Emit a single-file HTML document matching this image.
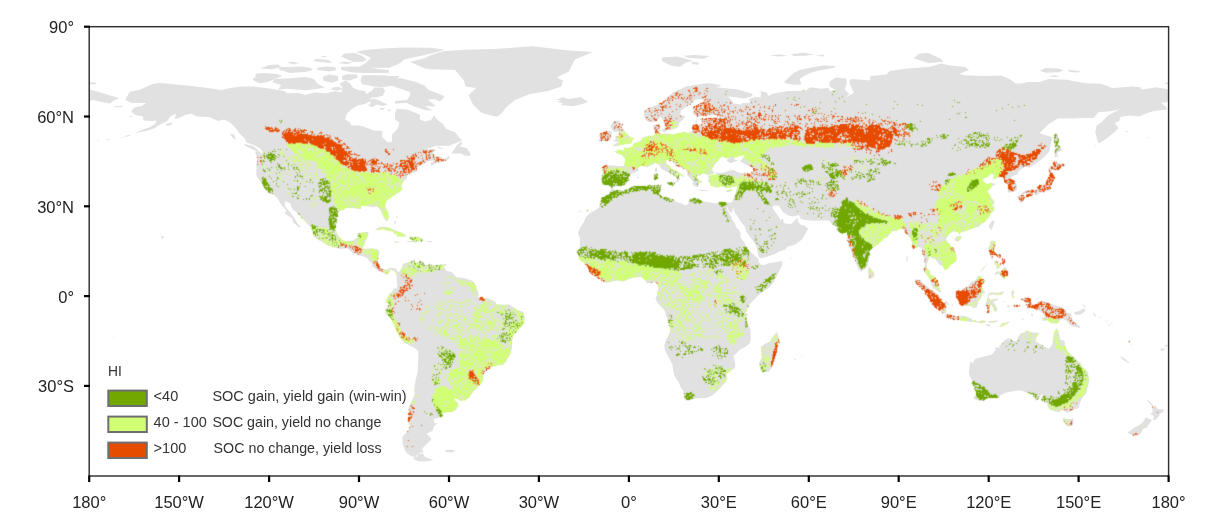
<!DOCTYPE html>
<html><head><meta charset="utf-8"><title>HI map</title>
<style>
html,body{margin:0;padding:0;background:#fff;}
body{width:1214px;height:523px;overflow:hidden;}
svg{display:block;}
text{font-family:"Liberation Sans",sans-serif;fill:#222;}
.lg text{fill:#333;}
.ax text{font-size:16.5px;}
.lg text{font-size:14.5px;}
</style></head><body>
<svg width="1214" height="523" viewBox="0 0 1214 523">
<rect width="1214" height="523" fill="#fff"/>
<defs><filter id="sf" x="0" y="0" width="100%" height="100%" filterUnits="userSpaceOnUse"><feConvolveMatrix order="3" kernelMatrix="0.03 0.11 0.03 0.11 0.44 0.11 0.03 0.11 0.03" divisor="1" edgeMode="none"/></filter><clipPath id="cp"><rect x="89.2" y="26.7" width="1079.4" height="449.3"/></clipPath></defs>
<g clip-path="url(#cp)">
<path fill="#e1e1e1" d="M125.2,99.7 L129.7,91.7 L140.2,89.6 L152.2,84.2 L159.7,82.7 L173.2,84.2 L191.1,86.0 L206.1,87.8 L221.1,89.9 L230.1,88.1 L242.1,86.6 L254.1,86.6 L269.1,88.4 L284.1,91.1 L287.1,93.2 L299.1,92.9 L305.1,94.9 L314.1,92.6 L326.1,93.2 L335.1,91.1 L341.1,92.6 L342.6,88.1 L339.6,83.6 L345.6,80.6 L350.1,83.6 L353.1,88.1 L359.0,90.2 L365.0,91.1 L366.5,94.0 L372.5,90.2 L374.0,87.5 L383.0,87.5 L385.1,91.1 L383.0,95.5 L377.0,97.6 L371.0,97.6 L369.5,101.5 L365.0,103.9 L357.5,105.4 L351.6,109.0 L347.1,113.5 L345.0,119.5 L350.1,122.5 L351.6,125.5 L359.0,125.5 L365.0,127.0 L374.0,130.6 L382.1,130.9 L382.4,137.5 L386.0,140.4 L387.5,142.5 L392.0,141.9 L392.0,134.5 L398.0,128.5 L399.5,122.5 L395.0,119.5 L395.0,114.1 L396.5,109.0 L407.0,109.6 L416.0,112.9 L420.2,115.0 L419.6,119.5 L425.0,121.6 L431.0,120.1 L434.0,115.6 L437.0,119.5 L443.0,124.0 L446.0,129.1 L455.0,132.1 L458.0,136.0 L461.9,140.4 L458.0,142.2 L449.0,145.8 L437.0,145.8 L428.0,148.5 L420.5,153.0 L425.0,150.0 L434.0,148.8 L436.1,150.3 L432.5,153.0 L434.6,155.4 L437.0,158.4 L444.5,159.3 L449.0,156.0 L449.6,158.4 L446.0,160.8 L437.0,162.9 L431.0,165.9 L430.4,162.9 L435.5,159.9 L428.0,161.4 L422.0,164.4 L417.5,167.4 L416.6,170.4 L419.0,171.3 L414.5,172.2 L407.0,174.3 L407.0,177.9 L402.5,182.4 L401.0,185.3 L401.9,189.8 L398.0,192.8 L392.0,196.4 L386.0,200.9 L384.8,204.8 L387.5,212.3 L389.0,216.8 L388.1,220.7 L385.4,220.7 L383.0,215.3 L380.9,210.8 L377.0,206.3 L372.5,207.2 L365.0,205.4 L360.5,205.7 L361.4,209.0 L356.0,208.4 L347.1,207.5 L338.1,212.3 L337.2,218.3 L335.7,227.3 L336.6,233.2 L341.1,239.2 L345.6,241.6 L353.1,240.4 L356.9,237.7 L357.8,233.2 L368.0,231.7 L368.6,234.7 L366.2,239.2 L364.4,243.7 L362.6,248.2 L365.0,248.8 L371.0,248.5 L377.0,249.1 L379.4,251.2 L378.5,257.2 L377.9,263.2 L381.5,268.3 L386.0,269.8 L390.5,267.7 L395.0,268.3 L397.1,270.4 L396.5,273.6 L394.4,271.3 L390.5,269.5 L387.8,274.2 L383.9,273.0 L380.0,271.3 L377.9,270.4 L371.9,266.2 L371.9,263.2 L366.5,257.5 L363.5,256.6 L357.5,254.8 L352.2,252.4 L347.1,247.9 L341.1,249.1 L333.6,247.3 L327.6,245.2 L323.1,242.2 L317.1,239.2 L312.6,235.0 L313.2,231.7 L309.9,226.7 L305.1,221.3 L300.9,216.8 L297.6,212.9 L292.5,209.3 L290.1,203.3 L284.7,200.9 L285.0,206.3 L290.1,212.3 L294.6,218.3 L297.6,223.4 L300.6,226.7 L299.1,227.6 L293.1,222.2 L292.2,218.3 L286.2,214.7 L284.4,212.9 L286.5,210.8 L281.7,205.4 L277.8,198.8 L273.6,194.3 L267.3,192.8 L263.1,185.9 L261.6,183.0 L257.7,177.9 L256.2,175.2 L256.5,167.4 L257.1,158.4 L255.0,151.2 L260.1,151.5 L261.6,154.5 L262.2,150.9 L260.1,148.8 L254.1,144.9 L246.6,142.5 L245.1,138.9 L239.1,133.0 L236.1,128.5 L230.1,122.5 L224.1,119.5 L218.1,121.0 L209.1,117.1 L197.1,116.5 L191.1,113.5 L185.1,115.0 L179.1,118.0 L174.7,118.9 L176.2,113.5 L170.2,116.5 L167.2,121.0 L161.2,124.0 L153.7,128.5 L146.2,130.9 L140.2,132.1 L134.8,132.7 L143.2,129.4 L149.2,127.6 L155.2,124.0 L156.7,120.4 L152.2,121.0 L143.2,120.4 L143.2,116.5 L135.7,115.0 L131.2,111.4 L134.2,107.5 L141.7,106.0 L146.2,103.0 L140.2,103.0 L131.2,103.0ZM397.1,270.4 L398.6,272.2 L402.2,267.7 L402.5,264.4 L404.6,262.9 L410.0,262.0 L414.5,259.0 L415.1,261.7 L413.9,263.8 L419.0,261.7 L419.0,259.6 L423.5,263.2 L425.0,264.7 L431.0,264.4 L435.5,265.6 L443.0,264.1 L443.6,266.8 L446.6,270.7 L452.0,272.2 L456.5,277.2 L464.0,278.1 L471.5,280.5 L474.5,282.9 L477.5,290.7 L479.0,294.6 L477.5,296.7 L483.5,297.6 L485.0,298.2 L488.0,298.2 L495.5,302.1 L496.1,304.5 L504.5,304.8 L509.0,304.5 L513.5,307.2 L518.0,310.5 L523.1,311.7 L524.6,317.1 L524.0,323.0 L519.5,327.5 L516.5,332.0 L513.5,335.0 L512.0,341.0 L512.0,348.5 L509.9,354.5 L508.1,357.5 L506.0,361.9 L503.0,364.6 L498.5,364.9 L494.9,365.8 L490.1,367.9 L485.0,371.8 L483.2,375.4 L483.2,380.8 L479.0,385.9 L474.5,390.4 L472.4,392.5 L468.5,397.9 L464.3,400.6 L460.4,400.6 L455.0,397.9 L453.8,399.7 L457.4,402.4 L458.0,405.4 L456.2,409.8 L452.0,411.9 L443.0,412.5 L442.1,417.3 L434.0,418.8 L434.0,423.3 L437.9,423.3 L434.0,426.3 L432.5,430.8 L426.5,433.8 L431.0,438.3 L431.0,439.8 L426.5,444.3 L422.0,448.8 L423.8,452.6 L420.5,452.6 L416.0,456.2 L416.0,457.1 L411.5,456.2 L407.0,453.2 L404.0,448.8 L402.5,442.8 L402.5,436.8 L407.0,432.3 L410.0,426.3 L407.6,420.3 L408.5,414.3 L408.5,407.4 L410.9,402.4 L414.5,394.9 L414.5,385.9 L416.0,378.4 L417.8,370.9 L417.8,364.9 L418.4,356.0 L418.1,350.9 L414.5,347.9 L408.5,344.9 L403.4,341.9 L400.1,337.4 L397.4,332.0 L394.4,326.0 L392.0,320.6 L389.3,316.5 L385.4,314.1 L385.1,309.6 L388.1,306.3 L389.3,303.6 L386.3,302.7 L386.9,299.1 L388.7,296.1 L389.0,293.7 L392.6,291.6 L393.5,288.6 L396.5,288.3 L397.4,284.7 L396.5,279.6 L396.8,275.7 L395.3,274.5 L396.5,273.6ZM423.2,453.5 L424.4,456.2 L428.0,458.3 L433.4,459.8 L429.5,461.0 L423.5,461.6 L419.0,461.3 L414.5,459.8 L413.0,457.7 L417.5,456.5 L418.4,454.1ZM611.2,188.9 L613.0,188.6 L616.9,190.7 L620.2,190.4 L622.9,191.0 L628.9,188.6 L631.9,186.8 L637.9,185.9 L643.9,185.9 L651.4,185.3 L658.3,184.4 L659.8,185.6 L661.9,185.3 L660.4,188.3 L661.3,191.3 L658.9,193.7 L661.9,195.8 L664.9,197.6 L668.5,197.6 L674.5,199.4 L676.0,202.1 L681.4,203.6 L685.9,205.4 L688.9,203.3 L688.9,199.4 L693.4,197.6 L697.9,198.5 L703.9,201.2 L709.8,202.4 L715.8,203.6 L718.8,202.1 L721.8,201.5 L725.7,202.4 L726.3,206.3 L726.6,208.4 L729.3,212.9 L730.8,215.9 L732.3,219.8 L735.3,224.3 L735.9,227.3 L739.5,230.2 L740.4,233.2 L740.4,237.4 L744.3,242.2 L747.3,249.4 L751.8,252.7 L756.3,257.2 L758.7,258.7 L758.7,261.7 L760.8,264.7 L763.8,265.0 L769.8,262.9 L775.8,262.3 L782.4,260.8 L782.1,264.7 L780.3,269.2 L777.3,275.1 L774.3,281.1 L769.8,287.1 L765.3,290.1 L759.3,294.6 L754.8,299.1 L751.8,302.1 L748.8,305.1 L747.3,309.6 L745.2,314.1 L747.0,317.1 L746.7,321.5 L748.2,326.0 L750.0,328.4 L750.6,333.5 L750.9,339.5 L749.4,344.0 L744.3,347.6 L739.8,349.7 L736.8,353.0 L733.2,355.7 L734.7,360.5 L735.3,364.9 L735.0,367.9 L729.3,371.5 L726.6,373.9 L727.2,378.4 L726.0,382.0 L721.8,385.9 L718.8,389.8 L713.7,394.3 L708.3,397.3 L705.7,397.9 L699.4,398.2 L694.9,398.5 L688.9,400.3 L684.4,398.8 L683.8,394.9 L683.5,391.0 L680.8,387.4 L678.4,381.7 L674.5,376.3 L673.3,370.9 L672.4,364.3 L669.4,359.0 L664.9,350.0 L664.3,345.5 L665.5,341.0 L669.4,333.5 L670.3,329.0 L668.5,323.0 L665.8,314.4 L664.9,311.1 L661.9,307.5 L658.0,303.6 L655.3,298.5 L657.1,295.2 L657.4,293.1 L658.3,288.6 L657.7,284.4 L655.6,282.6 L653.8,282.6 L649.9,282.9 L646.9,283.2 L643.9,278.7 L641.8,277.2 L639.1,276.9 L633.4,277.5 L628.9,279.0 L622.9,281.7 L619.9,280.8 L615.4,280.5 L610.9,281.7 L606.1,282.9 L601.9,280.5 L596.5,277.2 L591.4,273.9 L589.0,270.7 L588.4,267.7 L584.5,263.8 L582.4,261.7 L578.8,259.0 L578.5,256.0 L576.4,252.1 L579.4,248.2 L580.0,242.2 L580.0,237.7 L577.9,233.2 L580.3,227.3 L583.9,221.9 L585.4,217.7 L589.9,212.9 L594.4,210.8 L598.9,207.8 L599.8,204.8 L599.5,201.8 L601.9,197.9 L606.1,195.5 L608.5,194.0 L610.9,190.4ZM776.7,332.0 L779.7,342.5 L778.2,344.0 L777.0,350.0 L774.3,359.0 L770.7,369.4 L768.3,371.5 L763.8,372.4 L760.8,370.3 L759.0,363.4 L761.7,357.5 L761.4,351.5 L760.8,347.0 L765.3,343.7 L769.8,341.6 L772.8,337.1ZM612.1,188.3 L610.0,186.5 L606.7,184.7 L602.2,185.3 L602.5,181.2 L600.4,180.0 L602.2,176.4 L602.8,171.9 L601.3,167.4 L604.9,165.3 L612.4,165.6 L618.4,165.9 L623.5,166.2 L625.0,162.9 L625.6,159.6 L622.9,156.0 L621.4,154.5 L616.0,153.0 L614.5,151.2 L619.9,150.0 L624.1,150.6 L623.8,147.3 L625.3,148.2 L629.2,147.9 L633.4,146.1 L633.7,143.7 L638.5,142.2 L641.5,139.8 L643.0,137.5 L648.4,136.0 L653.5,135.7 L655.0,134.5 L654.7,130.0 L653.2,127.0 L653.5,125.2 L660.4,123.4 L659.8,127.0 L661.3,127.6 L658.9,130.0 L658.0,131.5 L658.9,133.0 L661.9,134.5 L666.4,133.3 L671.5,134.8 L676.9,133.6 L684.4,132.1 L688.3,133.3 L691.9,130.9 L691.9,126.1 L693.7,123.7 L696.7,123.4 L701.8,124.9 L701.8,121.6 L699.4,118.9 L703.9,118.0 L712.8,118.0 L719.4,116.8 L714.9,114.7 L706.8,115.3 L697.9,116.8 L692.8,114.1 L693.4,110.5 L692.5,107.5 L702.4,102.1 L704.8,100.3 L700.9,99.1 L694.9,100.0 L692.8,103.0 L685.9,106.9 L680.8,110.5 L680.5,114.4 L685.3,116.5 L682.9,119.5 L679.0,123.1 L678.1,126.7 L676.3,128.2 L671.8,129.7 L667.9,130.3 L667.0,127.9 L664.6,124.0 L662.5,119.5 L660.7,116.8 L657.4,120.1 L652.9,122.2 L649.0,122.2 L645.4,119.8 L643.9,115.0 L643.9,110.5 L648.4,108.1 L654.4,106.0 L660.4,103.0 L665.8,100.0 L669.4,95.5 L673.9,91.7 L681.4,88.7 L685.9,86.6 L694.9,85.1 L706.0,83.3 L712.8,83.6 L721.8,85.7 L715.8,87.2 L727.8,88.4 L736.8,89.3 L751.8,93.5 L752.7,96.1 L744.3,98.5 L733.8,97.0 L727.8,96.4 L733.2,101.5 L732.9,103.3 L741.3,104.5 L742.8,103.0 L750.3,102.7 L748.8,99.1 L754.8,97.3 L760.8,97.6 L760.8,91.7 L758.7,90.8 L766.8,92.6 L768.3,96.1 L772.8,93.7 L787.8,91.1 L793.8,91.1 L805.8,90.5 L810.3,87.2 L820.8,88.7 L828.3,88.1 L829.8,91.1 L835.8,90.2 L829.8,86.6 L829.2,82.1 L835.8,77.6 L846.3,78.5 L846.9,83.6 L844.8,89.6 L849.3,94.0 L844.8,97.6 L837.3,96.4 L844.8,97.6 L852.3,94.0 L853.8,92.6 L850.8,86.6 L849.3,82.1 L850.8,79.1 L862.8,79.7 L870.3,80.6 L870.3,76.1 L886.7,74.6 L889.7,71.0 L907.7,68.6 L928.7,67.1 L941.6,63.5 L949.7,65.6 L964.7,67.1 L969.2,70.1 L958.7,73.7 L964.7,75.2 L982.7,76.1 L1000.7,75.5 L1009.7,79.1 L1015.7,83.6 L1021.7,83.6 L1027.7,82.1 L1039.7,82.1 L1048.7,79.1 L1066.6,79.7 L1078.6,82.1 L1087.6,83.6 L1099.6,83.6 L1108.6,86.6 L1111.6,88.1 L1120.6,87.5 L1132.6,86.6 L1140.1,87.2 L1141.6,89.6 L1156.6,87.2 L1168.6,89.6 L1168.6,101.5 L1164.1,102.7 L1161.1,102.4 L1166.5,107.5 L1167.1,109.6 L1153.6,111.1 L1144.6,114.1 L1139.5,116.5 L1129.6,115.6 L1120.6,116.8 L1119.1,121.0 L1114.6,123.1 L1118.5,127.9 L1114.6,132.1 L1108.6,136.9 L1103.5,140.4 L1098.7,143.4 L1096.6,137.5 L1095.4,131.5 L1096.6,125.5 L1101.1,122.5 L1108.6,115.0 L1114.6,112.0 L1120.6,109.0 L1114.6,110.5 L1108.6,111.4 L1098.7,112.0 L1093.6,118.0 L1081.6,118.0 L1072.6,118.6 L1057.7,118.6 L1048.7,124.0 L1039.7,133.0 L1042.7,134.5 L1048.7,136.0 L1052.6,137.5 L1051.7,140.4 L1050.2,146.4 L1049.6,150.9 L1044.2,156.9 L1036.7,162.9 L1029.2,167.7 L1024.7,166.8 L1020.8,169.5 L1017.8,172.2 L1017.8,174.0 L1011.2,177.0 L1010.9,178.8 L1013.9,180.9 L1016.9,185.3 L1017.2,189.8 L1015.7,191.0 L1011.2,192.2 L1007.6,192.8 L1008.2,188.3 L1008.5,185.3 L1004.6,182.4 L1003.7,177.9 L1001.6,176.4 L994.7,178.8 L992.6,180.0 L994.7,174.9 L991.7,173.4 L987.2,177.0 L982.1,179.4 L985.1,183.0 L985.7,184.7 L990.8,183.0 L996.2,184.1 L991.7,186.5 L989.6,188.3 L986.6,191.3 L989.6,194.3 L991.7,198.8 L994.4,201.2 L994.1,203.6 L991.1,205.4 L994.7,206.6 L993.5,210.8 L990.5,213.8 L987.8,218.3 L984.5,222.2 L982.7,223.1 L978.8,226.4 L971.6,228.7 L969.2,229.6 L963.2,231.7 L960.2,232.3 L959.6,235.3 L958.1,232.0 L954.2,231.1 L949.7,233.2 L946.7,237.7 L946.1,239.8 L948.2,243.1 L951.2,246.4 L953.3,247.9 L955.7,252.7 L956.6,257.2 L956.3,260.8 L952.7,263.5 L949.7,265.0 L948.8,267.7 L944.3,270.1 L943.1,266.2 L939.2,264.4 L936.8,260.8 L934.7,258.7 L931.4,258.1 L930.2,255.7 L928.7,256.3 L928.4,260.2 L926.6,264.7 L927.2,268.3 L929.6,271.3 L930.5,274.5 L933.8,276.6 L935.6,277.5 L938.9,282.6 L939.2,287.7 L941.3,291.9 L938.9,291.9 L933.2,288.0 L931.1,284.1 L929.6,279.6 L927.8,275.7 L924.5,272.2 L923.6,272.2 L924.2,267.7 L924.8,264.7 L924.5,260.2 L922.7,254.2 L921.8,248.2 L918.2,246.7 L914.9,248.8 L911.6,248.2 L912.2,242.2 L910.1,237.7 L906.2,233.8 L904.7,231.7 L904.1,229.0 L900.2,228.7 L895.7,230.8 L891.2,231.4 L889.7,233.8 L888.2,236.2 L883.7,238.3 L880.8,241.3 L875.7,246.1 L871.2,248.5 L869.1,251.2 L869.7,256.6 L868.5,261.7 L868.2,265.3 L865.8,268.3 L863.4,269.5 L861.3,271.9 L858.3,269.2 L857.4,266.2 L854.7,260.8 L853.2,257.2 L851.4,251.8 L849.3,246.7 L847.8,242.2 L847.2,239.2 L846.9,234.7 L847.2,231.7 L845.4,232.6 L841.8,233.8 L838.8,232.6 L835.8,229.3 L839.7,227.6 L835.5,226.4 L832.8,224.9 L830.7,222.5 L828.6,220.4 L822.3,220.4 L813.6,220.7 L805.8,220.1 L800.7,218.9 L799.2,215.0 L792.3,216.5 L787.8,215.3 L783.3,212.6 L781.2,209.3 L778.8,205.7 L775.2,205.4 L772.8,206.3 L772.8,208.4 L774.9,211.4 L778.2,215.9 L779.4,217.7 L780.9,220.4 L782.4,218.0 L783.6,220.7 L783.3,222.8 L786.3,223.7 L791.7,223.7 L794.7,220.4 L797.4,217.7 L798.0,221.9 L801.3,224.9 L804.6,225.5 L808.2,228.7 L805.2,234.1 L802.2,239.2 L798.3,242.2 L793.8,245.2 L787.8,246.4 L785.4,249.4 L778.8,251.8 L774.3,254.2 L763.8,257.8 L759.3,258.1 L757.8,254.2 L757.2,249.7 L756.3,245.8 L751.8,239.2 L746.4,231.7 L744.3,225.8 L740.4,221.3 L738.3,217.4 L734.7,212.3 L733.5,207.8 L731.4,213.2 L728.7,210.5 L726.6,206.6 L725.7,202.4 L731.7,202.4 L733.8,197.9 L735.3,194.6 L736.5,189.8 L737.4,186.5 L734.7,186.5 L730.8,187.4 L726.3,188.0 L720.6,185.9 L717.3,187.7 L713.4,186.2 L710.7,185.3 L709.8,182.4 L707.7,180.9 L709.2,177.9 L707.4,176.4 L711.3,175.2 L715.8,174.9 L716.1,172.8 L723.3,172.8 L729.3,170.4 L733.8,170.1 L738.3,172.5 L744.3,173.4 L748.8,173.4 L753.3,171.9 L753.3,168.3 L748.8,165.9 L742.8,162.9 L739.8,161.4 L741.3,159.9 L742.8,158.4 L744.3,156.0 L746.7,154.8 L742.8,155.1 L738.3,156.3 L734.4,157.5 L733.8,159.3 L738.3,160.5 L734.7,161.4 L730.8,163.2 L729.0,162.6 L726.3,160.2 L729.6,158.1 L724.8,157.5 L721.8,156.6 L718.8,159.0 L717.9,160.8 L714.9,164.4 L712.8,167.4 L711.9,168.9 L713.4,171.9 L715.8,172.8 L712.8,173.4 L709.8,174.6 L707.4,175.8 L706.8,174.0 L702.4,173.7 L699.4,175.8 L697.3,174.9 L697.0,177.9 L698.8,179.4 L700.9,181.8 L700.9,183.2 L698.5,182.4 L698.5,184.4 L697.9,186.8 L696.1,186.8 L694.0,185.9 L692.5,183.0 L693.4,181.5 L691.3,179.7 L689.5,177.6 L687.1,174.9 L687.4,171.9 L685.3,169.5 L681.4,167.4 L676.9,165.9 L673.9,163.5 L672.4,160.8 L669.7,161.4 L669.7,159.6 L666.4,159.9 L665.8,163.5 L669.4,165.6 L671.5,168.9 L675.4,170.7 L677.5,171.0 L679.9,173.4 L684.4,175.8 L683.8,177.0 L679.9,174.9 L678.7,177.0 L680.2,179.4 L678.4,180.9 L676.9,182.7 L676.0,181.8 L676.9,179.4 L676.0,176.4 L673.3,174.6 L671.5,174.0 L667.9,172.5 L665.5,171.0 L661.9,168.9 L660.4,167.4 L659.5,164.7 L655.6,163.2 L651.4,165.0 L647.5,167.1 L644.8,166.5 L640.9,165.9 L638.2,167.4 L638.5,169.2 L638.5,170.7 L635.5,172.2 L631.3,174.0 L628.0,177.9 L629.5,180.0 L627.4,181.5 L626.8,183.5 L622.9,185.9 L615.7,186.2 L613.0,188.0ZM89.2,89.6 L98.2,91.7 L110.2,95.5 L119.2,98.2 L113.2,100.9 L110.2,103.6 L101.2,102.1 L93.7,100.0 L89.2,100.9ZM611.8,146.4 L618.4,145.5 L624.4,144.3 L632.8,142.8 L631.0,141.9 L634.0,138.6 L629.8,137.5 L628.6,135.4 L625.3,132.4 L624.1,130.0 L621.4,128.5 L622.9,124.9 L623.5,123.7 L618.4,123.4 L619.9,120.7 L613.9,120.7 L611.5,124.0 L610.3,126.4 L612.4,130.0 L614.5,132.1 L619.0,131.8 L619.9,135.1 L619.3,136.6 L615.1,136.6 L616.0,138.9 L613.3,141.0 L618.4,142.2 L619.9,142.5 L615.4,143.4ZM610.9,139.8 L610.6,136.6 L612.1,133.0 L610.3,130.9 L606.4,130.6 L603.4,132.7 L598.9,133.9 L599.5,136.6 L600.4,138.4 L598.0,140.4 L599.8,141.9 L604.0,141.0 L609.7,140.1ZM556.0,99.7 L562.9,97.3 L568.9,99.1 L574.9,97.9 L580.9,97.0 L585.1,100.0 L588.1,101.5 L583.9,103.6 L573.4,106.3 L567.4,105.7 L560.8,105.1 L562.9,103.3 L556.9,101.8 L561.4,100.6ZM661.9,61.1 L670.9,65.6 L679.9,66.8 L685.9,62.6 L693.4,61.1 L682.9,58.1 L676.9,56.6 L661.9,57.5ZM682.9,55.7 L694.9,55.1 L709.8,56.0 L703.9,58.7 L688.9,58.1ZM691.9,62.0 L699.4,62.6 L697.9,64.7 L691.9,64.1ZM783.9,82.1 L789.3,77.0 L793.8,73.1 L799.8,70.1 L808.8,68.0 L823.8,65.6 L835.8,65.9 L834.3,67.7 L817.8,70.7 L810.3,73.1 L804.3,76.1 L799.8,79.1 L801.3,84.5 L793.8,84.8 L786.3,83.6ZM913.7,58.1 L919.7,53.6 L928.7,53.0 L940.7,58.7 L943.7,61.7 L928.7,62.9 L919.7,60.2ZM1039.7,70.7 L1045.7,68.0 L1057.7,68.6 L1063.6,70.1 L1059.2,72.2 L1045.7,72.8ZM1068.1,70.1 L1080.1,71.0 L1078.6,72.5 L1069.6,71.9ZM1048.7,76.4 L1054.7,74.9 L1059.2,76.4 L1054.7,77.0ZM1164.1,83.3 L1168.6,82.1 L1168.6,84.2 L1165.6,84.2ZM89.2,82.1 L96.7,83.0 L95.2,84.2 L89.2,84.2ZM769.8,55.7 L778.8,54.2 L787.8,55.7 L778.8,56.6ZM790.8,54.2 L802.8,52.7 L814.8,54.2 L805.8,55.7 L793.8,56.0ZM814.8,55.7 L823.8,54.5 L823.8,56.6ZM1054.7,133.6 L1057.1,133.3 L1058.6,138.9 L1058.3,143.4 L1060.6,147.9 L1062.7,150.0 L1057.1,152.4 L1057.7,155.4 L1059.2,157.8 L1056.2,156.3 L1054.7,158.4 L1054.7,152.4 L1055.3,146.4 L1053.8,140.4 L1054.1,136.0ZM1048.7,171.9 L1051.7,171.0 L1052.3,168.9 L1058.3,170.4 L1060.6,167.4 L1065.4,166.5 L1064.5,163.5 L1057.7,163.5 L1054.4,159.9 L1053.5,162.9 L1052.6,166.5 L1049.9,166.8 L1048.1,168.9ZM1051.4,171.9 L1053.2,174.9 L1054.7,177.9 L1053.2,181.5 L1051.7,183.8 L1050.5,187.4 L1051.1,189.2 L1048.4,191.3 L1047.8,189.8 L1045.7,191.3 L1045.1,192.5 L1043.3,192.5 L1039.7,192.5 L1039.4,191.3 L1038.2,192.8 L1039.4,193.4 L1036.1,195.8 L1034.0,193.4 L1034.6,192.2 L1030.7,192.5 L1026.2,193.4 L1021.7,194.3 L1021.7,193.1 L1026.2,190.1 L1030.7,189.8 L1034.6,189.5 L1036.7,189.2 L1036.7,187.7 L1038.8,185.3 L1040.6,183.8 L1039.7,185.9 L1044.2,184.1 L1046.9,181.5 L1048.4,177.9 L1048.7,174.9 L1049.6,172.8ZM1026.2,195.2 L1027.7,194.0 L1031.6,193.4 L1032.8,194.9 L1031.3,196.4 L1028.6,196.1 L1027.7,198.2 L1025.9,197.0ZM1021.4,194.6 L1023.8,195.5 L1024.7,197.3 L1022.9,201.8 L1021.7,202.7 L1020.5,202.7 L1019.3,202.4 L1019.3,199.4 L1017.8,197.9 L1017.5,196.1 L1019.9,195.2ZM993.2,220.4 L994.7,221.3 L993.2,225.8 L991.4,230.2 L989.3,227.8 L989.0,225.2 L990.8,222.5 L991.7,221.0ZM954.8,238.6 L957.2,236.2 L960.8,235.9 L961.7,237.4 L959.9,240.1 L957.2,241.6 L954.8,240.4ZM990.5,240.7 L995.3,240.7 L995.6,245.2 L993.5,248.2 L993.5,251.2 L996.2,253.6 L1000.7,254.2 L1001.0,258.4 L998.6,257.2 L996.2,255.4 L993.8,254.5 L990.5,254.8 L990.5,252.7 L988.7,251.2 L988.1,247.6 L989.6,246.4 L989.9,243.7ZM990.2,256.0 L992.9,256.0 L993.2,259.0 L991.7,259.6 L990.8,257.8ZM1001.6,258.7 L1004.6,258.7 L1005.8,262.6 L1003.7,263.2 L1003.1,261.4ZM1001.9,262.0 L1003.7,262.6 L1004.3,265.6 L1003.1,266.2 L1002.5,263.8ZM994.4,260.8 L997.7,261.7 L998.0,263.2 L996.2,264.4 L994.7,264.7ZM997.4,263.5 L999.2,263.8 L998.6,267.7 L997.7,269.2 L996.2,267.7 L996.5,265.6ZM1000.4,262.6 L1000.8,263.8 L999.5,267.7 L998.7,267.4ZM980.3,271.0 L982.7,268.6 L985.7,265.6 L987.8,262.0 L986.6,264.7 L984.2,268.3 L981.2,271.0ZM995.0,275.4 L995.3,272.7 L997.7,270.7 L1000.1,272.2 L1001.6,270.7 L1004.6,267.1 L1005.2,266.8 L1007.6,270.7 L1008.2,275.1 L1007.3,277.2 L1005.8,275.7 L1004.9,279.3 L1002.2,278.1 L1000.7,275.7 L999.2,273.6 L997.1,274.2ZM955.7,291.6 L957.5,290.1 L961.7,291.3 L962.9,288.3 L967.7,286.8 L970.7,282.6 L975.2,280.2 L978.8,275.4 L981.8,276.9 L981.8,278.7 L986.3,280.5 L983.6,283.2 L981.5,283.8 L982.1,287.1 L982.7,289.5 L985.7,293.1 L982.1,293.7 L981.2,298.2 L978.2,300.6 L977.6,305.1 L976.7,307.5 L972.8,308.4 L971.9,306.3 L967.7,305.7 L963.8,306.3 L959.3,304.8 L958.7,300.6 L956.0,297.6 L955.7,295.2ZM914.6,279.3 L921.2,280.5 L923.6,283.5 L928.1,287.1 L930.2,289.5 L933.2,290.7 L937.7,294.0 L939.8,297.0 L942.2,300.0 L942.2,302.1 L946.7,304.2 L946.7,306.0 L946.1,309.6 L946.1,313.5 L942.5,313.5 L941.6,311.7 L935.6,308.1 L931.7,303.6 L929.6,299.1 L925.7,294.6 L924.5,291.0 L919.7,287.1 L916.7,283.5ZM944.3,316.5 L947.0,313.8 L949.7,313.8 L954.2,315.6 L960.2,316.8 L961.7,315.3 L966.5,316.8 L972.2,319.1 L972.2,322.1 L966.2,321.2 L958.7,320.0 L952.7,319.4 L947.9,318.2ZM972.2,320.3 L975.8,320.6 L975.2,322.4 L972.5,321.5ZM976.4,320.9 L978.8,320.9 L978.2,322.7 L976.4,322.4ZM979.1,321.2 L982.7,320.3 L986.3,321.5 L984.2,323.0 L979.1,323.0ZM988.1,321.2 L991.7,320.9 L997.7,320.6 L997.1,322.1 L991.7,322.7 L988.4,322.4ZM985.7,324.5 L988.7,323.9 L991.1,326.0 L988.7,326.6 L986.3,325.4ZM999.2,326.9 L1002.2,323.6 L1010.6,321.2 L1008.2,323.0 L1003.7,325.4 L1000.7,326.9ZM988.1,293.7 L991.1,292.2 L997.7,293.1 L1004.3,291.0 L1002.2,294.6 L997.7,294.6 L991.7,294.6 L989.0,295.2 L989.0,298.5 L991.7,300.0 L996.2,298.5 L998.9,298.8 L998.6,299.1 L994.7,301.2 L993.2,302.1 L995.6,305.1 L997.1,308.1 L997.7,309.6 L996.2,312.0 L993.8,310.5 L993.2,308.1 L991.7,305.1 L991.7,304.2 L990.2,305.1 L989.9,309.6 L989.9,312.6 L987.2,312.6 L987.2,308.1 L986.9,306.6 L985.1,304.5 L986.3,302.1 L987.2,299.1 L988.1,296.1ZM1011.2,293.1 L1012.4,289.5 L1013.6,291.6 L1014.8,293.1 L1012.7,294.6 L1014.2,297.6 L1012.4,298.5 L1011.8,295.2ZM1012.7,305.1 L1017.2,304.5 L1021.1,306.3 L1017.2,306.6 L1013.3,306.3ZM1006.7,305.7 L1009.7,305.4 L1010.3,306.9 L1007.6,307.5ZM1021.4,300.0 L1021.7,298.5 L1026.2,297.3 L1030.7,298.5 L1031.3,303.6 L1033.7,306.0 L1038.2,302.7 L1042.7,300.9 L1051.7,303.9 L1057.7,306.3 L1062.1,307.5 L1066.0,310.5 L1066.0,312.3 L1071.1,314.1 L1072.0,316.2 L1069.6,316.5 L1072.6,320.0 L1075.6,323.0 L1081.0,326.9 L1078.6,327.8 L1072.6,326.3 L1069.6,324.5 L1066.6,320.6 L1062.1,318.8 L1059.2,320.9 L1057.7,323.3 L1051.7,323.3 L1047.2,320.3 L1042.7,320.9 L1042.1,317.9 L1045.1,317.1 L1043.6,313.5 L1039.7,310.8 L1035.2,309.3 L1030.7,307.8 L1027.7,308.1 L1027.1,306.0 L1024.7,304.8 L1029.2,303.6 L1025.6,302.7 L1021.7,300.3ZM1073.8,312.6 L1078.6,311.1 L1083.1,308.7 L1085.5,309.0 L1084.6,311.7 L1080.1,314.7 L1075.6,314.7ZM1081.0,303.9 L1084.6,305.7 L1087.6,309.9 L1086.4,308.7 L1083.1,305.7ZM1092.7,312.6 L1096.3,315.6 L1095.1,316.8 L1093.0,314.1ZM1098.1,316.2 L1101.1,317.9 L1099.6,317.9ZM1104.1,318.8 L1108.0,321.2 L1107.1,321.5ZM1107.4,323.9 L1111.0,325.4 L1108.6,325.7ZM1110.7,321.2 L1113.1,324.8 L1111.6,323.9ZM1113.1,326.9 L1115.5,328.4 L1114.0,328.1ZM969.8,363.4 L971.3,361.4 L972.5,363.4 L975.2,359.0 L979.7,357.8 L985.7,356.0 L991.7,354.8 L995.6,350.0 L995.3,347.0 L999.5,347.9 L999.2,345.5 L1002.2,344.0 L1004.3,340.4 L1008.2,338.0 L1012.1,339.5 L1013.3,341.0 L1017.2,340.7 L1017.8,337.4 L1019.6,335.0 L1021.1,333.2 L1024.7,332.6 L1026.5,330.2 L1029.2,331.7 L1033.7,332.6 L1039.4,332.9 L1036.7,336.5 L1035.2,341.0 L1039.7,343.7 L1045.7,347.0 L1048.7,349.1 L1051.7,345.5 L1053.2,341.0 L1053.5,336.5 L1054.1,333.5 L1056.2,328.1 L1059.2,333.5 L1060.0,339.2 L1064.5,341.0 L1065.1,345.5 L1066.6,350.0 L1069.6,353.9 L1074.1,356.6 L1077.1,360.5 L1080.7,363.4 L1081.6,366.4 L1086.1,370.3 L1088.2,372.4 L1088.2,373.9 L1089.1,380.5 L1087.6,387.4 L1086.1,393.4 L1082.5,397.3 L1080.1,402.4 L1078.6,407.4 L1078.3,408.3 L1072.6,409.5 L1067.8,413.1 L1063.6,411.0 L1062.1,409.8 L1059.2,412.2 L1053.2,410.7 L1050.2,409.8 L1047.8,406.8 L1047.2,403.3 L1044.2,402.4 L1044.2,400.3 L1042.1,401.5 L1041.2,397.9 L1042.7,394.9 L1042.1,393.7 L1039.7,397.0 L1036.7,400.3 L1035.2,400.3 L1033.7,396.4 L1030.7,394.0 L1024.7,391.9 L1021.7,390.4 L1015.7,390.7 L1006.7,392.5 L1000.7,394.9 L999.2,397.6 L988.7,397.6 L982.7,400.9 L976.7,400.3 L974.0,398.8 L973.7,396.4 L975.8,395.8 L975.8,391.9 L973.7,387.4 L972.5,382.3 L970.7,377.8 L968.9,373.9 L969.2,369.4ZM1062.7,417.9 L1068.1,419.1 L1073.5,418.5 L1073.5,421.8 L1072.3,425.4 L1069.0,426.6 L1066.6,426.3 L1064.2,422.4 L1062.7,419.4ZM1146.7,399.1 L1149.1,400.9 L1152.1,403.9 L1153.6,406.3 L1155.1,405.4 L1156.3,406.0 L1156.6,408.6 L1161.1,409.5 L1164.1,408.9 L1162.6,412.8 L1159.6,413.7 L1159.3,415.8 L1156.6,418.8 L1154.5,420.6 L1153.0,419.7 L1154.2,416.4 L1152.1,414.9 L1150.0,413.7 L1152.4,412.2 L1152.7,408.3 L1151.2,405.1 L1147.6,400.9ZM1146.7,417.3 L1148.5,418.8 L1151.5,419.4 L1151.2,421.5 L1149.1,423.9 L1147.0,426.3 L1147.9,427.2 L1143.1,428.7 L1141.6,432.3 L1140.4,433.5 L1137.1,435.6 L1133.5,435.6 L1131.1,434.4 L1128.1,433.2 L1128.1,432.3 L1131.1,429.9 L1134.1,427.8 L1138.6,425.4 L1142.2,423.0 L1143.7,420.9 L1145.2,418.2ZM1120.6,356.3 L1125.1,359.0 L1129.6,362.8 L1128.1,362.8 L1123.6,360.2 L1120.6,357.5ZM1160.5,348.5 L1164.1,348.2 L1164.7,350.3 L1161.1,350.9ZM1164.4,346.1 L1168.6,344.6 L1168.6,345.8 L1165.6,347.0ZM1128.4,340.4 L1130.2,341.0 L1129.6,343.1 L1128.4,342.2ZM1130.5,344.0 L1132.0,344.9 L1131.1,345.8ZM1133.2,348.5 L1134.1,349.4 L1133.2,349.4ZM1135.6,352.1 L1136.5,353.0 L1135.6,353.0ZM161.2,235.6 L164.2,236.8 L162.7,239.2 L161.2,237.7ZM159.1,233.2 L161.2,233.8 L160.0,234.4ZM154.6,231.4 L156.1,232.0 L154.9,232.3ZM150.1,229.6 L151.3,229.9 L150.7,230.5ZM868.5,266.8 L869.4,266.8 L872.4,270.7 L874.5,274.2 L873.9,276.9 L870.6,278.4 L868.8,277.5 L868.2,273.6 L868.2,270.7ZM374.3,230.5 L378.5,227.6 L382.1,226.7 L387.5,227.3 L392.0,229.0 L396.5,230.8 L401.0,232.6 L406.4,235.3 L404.0,236.5 L396.5,236.5 L397.4,234.4 L394.1,233.8 L392.9,231.4 L387.5,230.5 L383.0,229.0 L378.5,229.6ZM405.8,241.0 L411.5,241.3 L412.1,240.1 L409.1,236.8 L413.9,236.8 L419.0,236.8 L421.4,238.6 L423.8,240.4 L422.0,241.3 L418.4,241.3 L415.4,243.1 L413.6,242.2 L408.5,241.9ZM394.1,241.3 L400.1,241.9 L398.3,242.8 L394.4,242.5ZM427.4,241.0 L432.2,241.3 L431.6,242.2 L427.4,242.2ZM443.6,264.1 L446.0,264.1 L446.0,265.9 L443.6,265.9ZM394.1,221.3 L395.6,221.0 L395.9,223.7 L394.4,223.4ZM395.6,216.5 L398.0,216.8 L397.4,218.3ZM407.9,233.2 L410.0,232.6 L409.4,233.5ZM451.1,153.6 L454.1,149.4 L457.1,144.9 L461.3,141.6 L462.5,143.4 L459.5,146.4 L462.5,147.0 L467.0,147.9 L468.5,150.9 L470.9,153.9 L469.4,156.3 L467.0,155.4 L464.0,155.4 L461.0,153.6ZM435.5,147.0 L440.0,147.3 L443.9,149.1 L440.0,148.8ZM436.4,156.6 L443.0,157.2 L441.5,158.4 L437.6,157.8ZM244.2,144.0 L252.6,145.8 L258.6,150.3 L258.6,151.5 L254.1,150.0 L249.6,147.9 L245.1,145.8ZM230.1,133.9 L234.0,134.5 L236.1,139.8 L232.2,137.5ZM165.7,124.0 L171.7,122.5 L172.3,124.6 L167.2,126.1ZM125.2,136.0 L129.7,134.5 L130.3,135.4 L125.8,136.9ZM120.7,138.1 L123.7,136.6 L123.7,137.5ZM105.7,139.5 L110.2,139.2 L107.2,140.4ZM96.7,140.7 L99.7,140.4 L98.2,141.6ZM113.2,106.0 L122.2,106.3 L122.8,107.2 L116.2,107.2ZM128.2,115.9 L132.1,115.9 L131.2,117.1ZM1146.1,137.5 L1149.1,137.8 L1147.6,138.4ZM1125.1,130.6 L1128.1,131.5 L1126.6,132.4ZM362.0,75.2 L374.0,75.2 L386.0,75.5 L398.0,78.2 L401.0,78.2 L416.0,82.1 L425.0,85.7 L428.0,89.6 L443.0,95.5 L444.5,97.0 L440.0,101.5 L434.0,99.1 L426.5,100.0 L425.0,97.6 L434.0,104.5 L435.5,106.6 L425.0,106.0 L432.5,110.8 L425.0,109.9 L413.0,106.0 L407.0,103.0 L395.0,103.6 L395.0,100.9 L407.0,100.0 L410.0,95.5 L410.0,92.0 L398.0,88.1 L392.0,85.7 L383.0,86.9 L374.0,86.6 L362.0,84.2 L360.5,80.6ZM278.1,89.6 L287.1,88.7 L305.1,90.2 L314.1,89.6 L324.6,87.5 L317.1,83.6 L314.1,79.1 L305.1,77.0 L290.1,78.2 L275.1,79.1 L272.1,82.1 L281.1,85.1ZM254.1,80.9 L260.1,83.3 L267.6,82.1 L276.6,78.2 L282.6,76.1 L276.6,74.0 L264.6,73.1 L255.6,73.7 L255.6,76.7 L252.6,79.1ZM323.1,80.6 L332.1,82.7 L338.1,80.6 L338.1,76.1 L329.1,74.6 L323.1,76.7ZM342.6,80.0 L350.1,80.6 L357.5,77.6 L357.5,74.6 L347.1,74.3 L342.0,76.1ZM330.6,89.6 L338.1,90.8 L342.6,89.0 L339.6,86.9 L333.6,87.2ZM368.0,100.0 L374.0,98.5 L380.0,100.9 L387.5,104.5 L383.0,106.0 L377.0,104.5 L372.5,106.9 L368.0,105.4 L371.0,103.0ZM380.0,108.1 L384.5,107.8 L383.0,109.9 L380.0,109.6ZM387.5,109.9 L390.5,109.3 L390.5,111.4 L388.1,111.1ZM389.0,76.1 L399.5,76.1 L398.0,77.9 L389.0,77.6ZM341.1,70.1 L353.1,72.5 L365.0,73.1 L377.0,73.1 L389.0,72.8 L389.0,70.1 L380.0,69.2 L365.0,67.1 L353.1,66.5 L341.1,67.1ZM359.0,67.1 L374.0,67.7 L389.0,67.7 L395.0,65.6 L401.0,62.6 L404.0,59.6 L413.0,57.5 L425.0,55.1 L437.0,52.1 L444.5,49.7 L431.0,47.7 L404.0,47.4 L383.0,48.6 L365.0,50.0 L356.0,52.1 L365.0,55.1 L371.0,58.1 L368.0,61.1 L365.0,63.5ZM341.1,56.6 L353.1,62.0 L363.5,61.7 L366.5,59.6 L362.0,55.7 L354.5,53.0 L344.1,53.6ZM278.1,69.2 L290.1,73.1 L305.1,71.9 L312.6,70.1 L311.1,68.0 L302.1,66.5 L290.1,67.1 L281.1,67.1ZM317.1,70.1 L329.1,71.6 L336.6,70.1 L335.1,67.1 L326.1,66.5 L317.1,67.7ZM260.1,68.6 L272.1,69.2 L281.1,67.1 L278.1,64.4 L269.1,65.0ZM293.1,64.4 L299.1,63.2 L293.1,61.7 L287.1,62.6ZM317.1,61.7 L332.1,62.9 L329.1,60.2 L317.1,58.7 L312.6,60.2ZM338.1,63.2 L347.1,64.1 L353.1,62.6 L344.1,61.4ZM320.1,57.5 L329.1,56.6 L323.1,55.7ZM410.0,62.0 L425.0,68.6 L431.0,69.2 L455.0,70.1 L464.0,80.6 L465.5,86.6 L476.0,88.1 L468.5,95.5 L473.0,104.5 L480.5,112.0 L485.0,114.1 L497.0,116.8 L501.5,113.5 L506.0,107.5 L515.0,100.0 L530.0,94.0 L547.9,91.1 L561.4,86.6 L562.9,80.6 L556.9,77.6 L568.9,71.6 L571.9,65.6 L574.9,59.6 L592.9,52.1 L568.9,50.6 L532.9,46.2 L494.0,49.1 L464.0,49.7 L443.0,51.2 L431.0,55.1 L425.0,58.1ZM666.1,182.4 L675.7,181.5 L674.2,186.2 L666.4,183.5ZM653.5,173.4 L657.7,172.8 L658.0,178.8 L654.4,179.7ZM654.7,168.9 L657.1,167.4 L657.4,171.9 L655.3,171.9ZM699.4,189.5 L707.7,190.4 L707.4,191.3 L699.7,190.7ZM725.7,191.3 L727.8,190.1 L732.6,189.2 L730.8,191.3 L727.8,192.5ZM636.1,177.6 L639.1,176.7 L638.5,178.5ZM697.6,179.7 L702.4,181.8 L701.5,182.4 L698.5,180.6ZM445.1,450.0 L450.5,449.7 L455.6,450.6 L452.0,452.6 L446.0,452.0ZM661.6,129.4 L666.7,128.5 L666.4,130.9 L664.3,132.4 L661.9,130.9ZM658.3,130.0 L661.3,130.0 L661.0,131.5 L658.9,131.2ZM678.1,127.6 L680.2,124.3 L679.6,124.6ZM683.5,125.5 L685.9,122.8 L685.3,124.6ZM694.9,120.7 L698.8,120.7 L696.4,122.5 L694.6,121.9ZM695.5,119.5 L697.9,119.5 L696.7,120.4ZM746.4,313.5 L747.0,314.1 L747.3,315.3 L746.7,315.0ZM794.4,358.7 L796.2,359.0 L795.6,360.2 L794.4,359.6ZM800.7,356.0 L802.2,356.6 L801.3,357.5ZM788.7,258.4 L792.3,258.4 L790.8,259.3ZM578.2,211.1 L580.6,210.5 L579.7,212.3ZM581.5,212.0 L582.7,212.0 L582.4,212.9ZM585.4,212.0 L587.5,210.2 L587.2,211.7ZM575.2,209.9 L575.8,209.9 L575.5,210.8ZM1066.6,163.2 L1075.0,159.9 L1072.6,160.8 L1067.2,163.5ZM1077.1,159.6 L1080.1,157.8 L1078.6,158.4ZM1084.6,155.4 L1087.6,152.4 L1086.1,153.9ZM1095.1,145.5 L1097.2,144.3 L1095.1,146.4ZM1064.8,165.0 L1068.1,163.2 L1065.4,165.3ZM906.8,255.7 L907.7,256.3 L907.4,261.4 L906.2,260.8ZM909.8,274.5 L910.4,275.1 L910.1,275.7ZM905.9,263.8 L906.5,264.1 L906.2,264.7ZM1011.8,217.7 L1013.6,215.9 L1012.7,217.4ZM1016.6,211.4 L1017.8,210.8 L1017.2,211.7ZM1019.9,205.1 L1020.8,205.1 L1020.2,205.7ZM1007.3,196.4 L1009.4,195.8 L1009.1,196.4 L1007.6,196.7ZM944.3,300.9 L947.3,301.5 L948.8,305.1 L946.1,303.9ZM951.5,303.9 L953.6,304.8 L952.1,305.7ZM920.3,291.9 L922.4,293.7 L921.2,294.3ZM924.5,298.8 L926.6,301.5 L925.1,300.6ZM916.1,287.7 L918.2,288.9 L916.7,288.6ZM1021.1,320.0 L1023.8,317.6 L1023.2,319.7ZM1031.0,313.5 L1033.1,314.7 L1032.2,316.8 L1031.3,315.6ZM1026.8,313.2 L1028.0,312.3 L1027.4,314.1ZM1035.2,298.2 L1037.9,299.4 L1036.4,299.7ZM1002.2,301.2 L1004.6,301.5 L1006.7,301.5 L1003.7,302.1ZM110.8,336.5 L112.6,336.5 L112.3,337.4ZM113.5,337.4 L115.0,338.0 L113.5,338.3Z"/>
<g filter="url(#sf)">
<path fill="none" stroke="#d1ff73" stroke-width="1" shape-rendering="crispEdges" d="M672 120.5h1M672 121.5h1M671 122.5h6M669 123.5h2m1 0h1m1 0h1m2 0h2M673 124.5h1M673 125.5h2m1 0h2M668 126.5h1m3 0h4M671 127.5h3M672 128.5h1M620 131.5h1m2 0h1M623 132.5h2m57 0h2m1 0h1M620 133.5h1m1 0h1m1 0h2m32 0h1m18 0h10m2 0h2m5 0h1M620 134.5h1m1 0h1m1 0h4m26 0h1m1 0h3m2 0h5m1 0h4m1 0h1m2 0h9m2 0h8m2 0h1M621 135.5h1m1 0h5m25 0h12m3 0h22m1 0h3m3 0h1M618 136.5h3m8 0h1m18 0h3m1 0h4m1 0h15m1 0h17m2 0h6m2 0h5M617 137.5h3m1 0h2m1 0h1m4 0h2m14 0h4m2 0h4m3 0h16m1 0h9m1 0h5m1 0h1m1 0h3m1 0h1m2 0h2m1 0h5M618 138.5h5m1 0h2m1 0h1m1 0h5m8 0h9m5 0h1m2 0h15m1 0h4m2 0h3m1 0h1m1 0h14m1 0h4m1 0h2m9 0h1M619 139.5h4m2 0h3m1 0h4m8 0h2m2 0h6m1 0h1m1 0h4m2 0h2m1 0h16m1 0h1m1 0h2m2 0h1m2 0h4m1 0h17m2 0h2m1 0h1m3 0h1m30 0h1m4 0h2m8 0h3m1 0h4m1 0h1m1 0h4m2 0h1m1 0h2m1 0h2M619 140.5h13m9 0h2m1 0h6m2 0h6m1 0h3m2 0h9m2 0h4m2 0h11m2 0h11m1 0h12m8 0h1m23 0h3m2 0h8m2 0h8m1 0h7m2 0h7m1 0h2m1 0h4M619 141.5h6m1 0h2m2 0h1m11 0h7m3 0h1m1 0h8m2 0h10m1 0h1m3 0h10m2 0h27m5 0h3m17 0h1m4 0h6m1 0h7m2 0h3m1 0h1m1 0h14m1 0h4m2 0h2m2 0h2m1 0h3m3 0h1M620 142.5h12m5 0h7m1 0h5m5 0h5m1 0h4m1 0h1m1 0h8m1 0h27m1 0h11m4 0h6m2 0h2m11 0h1m1 0h8m2 0h9m2 0h4m2 0h17m1 0h3m1 0h9m1 0h2m16 0h1m9 0h1m8 0h1m11 0h1M287 143.5h1m3 0h1m4 0h2m1 0h3m316 0h9m1 0h2m4 0h15m1 0h2m3 0h2m1 0h2m2 0h3m1 0h1m1 0h4m1 0h3m1 0h31m1 0h9m2 0h9m1 0h3m2 0h7m3 0h5m3 0h16m1 0h10m1 0h5m2 0h1m2 0h12m1 0h2m10 0h2m1 0h9m1 0h2m1 0h1m7 0h1m1 0h1m3 0h4m1 0h1M287 144.5h20m1 0h3m307 0h1m1 0h2m1 0h1m9 0h13m2 0h1m1 0h1m2 0h1m3 0h4m3 0h1m4 0h6m2 0h9m1 0h2m1 0h26m3 0h22m2 0h43m4 0h1m1 0h14m1 0h5m3 0h8m1 0h2m2 0h6m1 0h1m4 0h1m5 0h1m1 0h2M287 145.5h6m1 0h7m1 0h1m1 0h3m1 0h6m302 0h1m1 0h1m14 0h7m1 0h4m1 0h1m5 0h1m2 0h6m2 0h1m3 0h2m1 0h5m1 0h11m2 0h27m1 0h1m3 0h20m3 0h4m1 0h17m1 0h9m1 0h12m8 0h9m2 0h5m1 0h1m1 0h2m1 0h2m1 0h4m1 0h4m2 0h1m5 0h2m2 0h1m2 0h1m1 0h3m3 0h1M288 146.5h14m2 0h13m315 0h6m1 0h5m1 0h3m7 0h1m2 0h4m1 0h3m2 0h7m1 0h2m1 0h7m3 0h2m1 0h9m2 0h7m1 0h2m1 0h2m1 0h1m5 0h40m1 0h7m1 0h4m1 0h4m21 0h3m4 0h1m2 0h2m1 0h2m1 0h4m1 0h11m4 0h1m6 0h1m1 0h1m2 0h2m2 0h1M289 147.5h2m1 0h11m2 0h7m1 0h5m312 0h4m4 0h1m1 0h3m2 0h1m4 0h1m3 0h1m3 0h4m1 0h2m3 0h1m1 0h5m2 0h11m1 0h2m1 0h21m1 0h8m1 0h19m1 0h1m1 0h10m1 0h6m1 0h4m1 0h2m2 0h2m42 0h1m6 0h3m2 0h1m4 0h1m20 0h3M280 148.5h1m9 0h14m1 0h3m2 0h2m1 0h2m2 0h1m306 0h11m2 0h3m3 0h1m3 0h2m4 0h2m2 0h1m2 0h3m3 0h4m1 0h3m2 0h11m1 0h2m1 0h3m2 0h4m1 0h2m1 0h10m1 0h2m1 0h2m1 0h19m1 0h1m1 0h1m4 0h9m1 0h6m1 0h2m2 0h1m3 0h1M292 149.5h5m2 0h8m4 0h1m1 0h11m300 0h2m2 0h5m12 0h1m7 0h3m3 0h1m3 0h3m2 0h3m2 0h2m1 0h7m6 0h1m6 0h4m2 0h2m1 0h11m5 0h13m1 0h1m1 0h3m1 0h1m1 0h1m4 0h8m1 0h11m1 0h1M284 150.5h1m6 0h7m2 0h9m1 0h2m1 0h2m2 0h3m1 0h5m291 0h5m2 0h13m4 0h2m2 0h1m7 0h1m3 0h5m1 0h2m3 0h3m2 0h16m7 0h4m1 0h2m2 0h14m2 0h12m3 0h6m4 0h2m2 0h6m1 0h10M263 151.5h1m6 0h1m10 0h1m1 0h1m8 0h1m1 0h4m2 0h1m2 0h5m1 0h7m2 0h8m291 0h5m2 0h3m1 0h2m2 0h7m1 0h3m2 0h6m1 0h2m1 0h3m2 0h2m1 0h2m1 0h1m2 0h1m2 0h16m3 0h5m1 0h3m2 0h3m1 0h14m1 0h17m1 0h3m1 0h5m3 0h4m1 0h9M280 152.5h2m12 0h4m1 0h1m3 0h9m1 0h8m2 0h6m288 0h9m2 0h6m2 0h9m2 0h1m2 0h7m2 0h1m1 0h1m1 0h2m1 0h1m1 0h1m1 0h1m2 0h1m1 0h6m1 0h7m3 0h1m1 0h5m1 0h3m3 0h7m1 0h13m1 0h2m2 0h14m1 0h2m2 0h1m1 0h12M280 153.5h2m1 0h1m10 0h1m1 0h4m2 0h17m1 0h1m3 0h6m288 0h10m1 0h5m1 0h10m2 0h1m5 0h3m1 0h7m1 0h2m1 0h1m3 0h9m1 0h17m3 0h1m4 0h32m1 0h11m1 0h11M281 154.5h3m14 0h3m1 0h12m1 0h3m1 0h1m4 0h6m291 0h4m1 0h7m1 0h7m2 0h1m2 0h2m1 0h1m5 0h1m2 0h9m1 0h2m2 0h10m1 0h18m1 0h1m1 0h2m1 0h5m2 0h7m1 0h14m1 0h14m1 0h2m1 0h6m1 0h1M286 155.5h1m7 0h2m2 0h17m1 0h3m2 0h11m291 0h1m2 0h3m1 0h1m1 0h10m5 0h1m2 0h4m2 0h4m1 0h6m1 0h1m3 0h1m1 0h1m1 0h6m1 0h59m3 0h5m4 0h7m105 0h1M278 156.5h2m8 0h1m2 0h1m2 0h1m1 0h3m1 0h15m4 0h4m2 0h9m289 0h2m2 0h14m3 0h1m4 0h1m2 0h1m2 0h16m2 0h19m1 0h9m1 0h2m1 0h15m1 0h8m1 0h2m1 0h4m6 0h18m91 0h2M283 157.5h1m1 0h1m6 0h3m1 0h1m1 0h1m4 0h15m1 0h15m290 0h21m1 0h4m1 0h2m1 0h5m2 0h11m1 0h10m1 0h8m1 0h5m1 0h3m2 0h12m1 0h4m4 0h4m5 0h1m8 0h2m1 0h11m1 0h2m102 0h1m1 0h1m130 0h1M262 158.5h1m25 0h2m1 0h2m2 0h3m1 0h1m2 0h1m1 0h2m1 0h12m2 0h9m1 0h1m1 0h2m290 0h20m1 0h2m1 0h3m1 0h6m1 0h3m1 0h5m2 0h1m1 0h10m2 0h12m2 0h3m2 0h3m2 0h4m1 0h4m1 0h1m25 0h10m1 0h3m84 0h1m8 0h1m1 0h1m1 0h1m7 0h1m1 0h1m3 0h1m129 0h1M264 159.5h1m23 0h1m6 0h2m2 0h2m1 0h1m1 0h32m289 0h11m1 0h25m1 0h10m2 0h4m1 0h3m1 0h17m4 0h2m2 0h3m1 0h1m2 0h3m25 0h1m2 0h1m1 0h12m63 0h1m16 0h1m11 0h1m11 0h1m6 0h1m117 0h1m2 0h2m1 0h2M273 160.5h1m9 0h1m9 0h7m2 0h1m1 0h2m1 0h1m2 0h2m1 0h1m1 0h10m1 0h5m2 0h4m288 0h11m1 0h26m2 0h1m6 0h4m1 0h9m1 0h8m3 0h13m3 0h4m28 0h1m1 0h14m57 0h1m170 0h1m1 0h1m1 0h8M272 161.5h1m18 0h1m2 0h2m1 0h2m2 0h3m7 0h1m2 0h4m1 0h12m2 0h2m2 0h2m286 0h33m1 0h3m2 0h1m10 0h9m1 0h1m1 0h1m1 0h1m1 0h1m1 0h2m1 0h9m2 0h11m32 0h13m1 0h1m61 0h1m11 0h1m153 0h1m2 0h7M289 162.5h1m4 0h2m10 0h3m7 0h18m2 0h4m285 0h10m1 0h1m1 0h6m1 0h7m4 0h2m1 0h1m2 0h1m1 0h2m9 0h1m2 0h10m1 0h3m4 0h9m2 0h4m1 0h2m37 0h2m2 0h2m1 0h6m62 0h2m33 0h1m7 0h1m117 0h1m3 0h2m1 0h1m1 0h5M284 163.5h3m11 0h2m3 0h2m2 0h1m1 0h1m7 0h16m2 0h5m284 0h14m1 0h15m4 0h6m14 0h7m1 0h1m8 0h11m1 0h2m4 0h1m35 0h1m1 0h3m3 0h1m4 0h3m1 0h1m219 0h2m3 0h2m1 0h7m1 0h1M261 164.5h1m29 0h1m1 0h1m1 0h1m4 0h4m3 0h1m2 0h1m5 0h1m1 0h2m1 0h21m282 0h18m2 0h6m16 0h1m11 0h9m1 0h1m1 0h2m4 0h2m1 0h9m2 0h2m1 0h1m38 0h3m2 0h1m4 0h7m78 0h1m139 0h1m1 0h1m1 0h10m1 0h1M262 165.5h1m26 0h1m9 0h2m6 0h1m2 0h2m4 0h1m1 0h17m1 0h6m285 0h6m1 0h12m1 0h2m16 0h1m15 0h8m1 0h3m1 0h1m4 0h6m1 0h2m2 0h4m40 0h2m5 0h5m93 0h1m126 0h1m2 0h15M262 166.5h1m2 0h1m27 0h1m13 0h2m9 0h2m1 0h20m285 0h4m1 0h2m1 0h6m27 0h3m12 0h8m3 0h4m1 0h8m1 0h1m3 0h2m41 0h1m5 0h1m1 0h3m2 0h1m1 0h1m76 0h1m10 0h1m5 0h2m116 0h1m1 0h2m1 0h10m1 0h2m2 0h2M264 167.5h1m10 0h1m22 0h1m1 0h1m1 0h2m2 0h1m4 0h1m4 0h7m1 0h17m1 0h4m260 0h1m1 0h1m2 0h1m1 0h1m7 0h1m4 0h2m7 0h3m30 0h1m1 0h1m13 0h10m1 0h4m1 0h1m1 0h8m1 0h1m46 0h1m1 0h1m1 0h5m4 0h1m47 0h1m45 0h1m110 0h1m2 0h4m1 0h16m1 0h2M274 168.5h1m1 0h1m10 0h1m10 0h1m6 0h2m3 0h2m5 0h1m2 0h28m257 0h1m3 0h1m1 0h1m2 0h3m1 0h3m1 0h4m2 0h1m40 0h2m14 0h5m2 0h2m1 0h3m1 0h6m2 0h3m1 0h1m50 0h1m1 0h1m1 0h2m2 0h1m82 0h1m1 0h1m7 0h2m110 0h2m2 0h1m3 0h18m1 0h1M301 169.5h2m4 0h1m5 0h2m8 0h1m2 0h15m1 0h8m252 0h1m4 0h4m2 0h3m1 0h2m1 0h3m1 0h1m3 0h1m40 0h1m1 0h2m14 0h7m1 0h2m2 0h7m1 0h1m1 0h2m49 0h1m1 0h1m3 0h1m7 0h1m73 0h1m9 0h1m4 0h1m109 0h9m1 0h20M298 170.5h1m1 0h1m1 0h1m16 0h1m1 0h3m1 0h4m1 0h8m1 0h5m1 0h7m250 0h1m5 0h3m1 0h1m7 0h1m8 0h1m43 0h2m13 0h3m1 0h4m1 0h6m2 0h3m1 0h1m53 0h1m3 0h1m3 0h1m57 0h1m25 0h1m115 0h2m1 0h29M288 171.5h1m1 0h1m25 0h1m2 0h1m3 0h2m1 0h20m1 0h1m2 0h5m1 0h1m249 0h2m1 0h1m11 0h1m3 0h3m44 0h1m4 0h1m11 0h1m1 0h15m57 0h2m1 0h1m3 0h1m2 0h1m1 0h1m72 0h1m16 0h1m103 0h6m1 0h24M269 172.5h1m1 0h1m1 0h1m31 0h1m2 0h1m13 0h2m1 0h11m1 0h3m2 0h3m1 0h3m1 0h4m1 0h1m2 0h2m1 0h1m1 0h6m6 0h1m5 0h2m1 0h2m2 0h1m217 0h2m12 0h1m55 0h1m1 0h1m12 0h1m1 0h12m1 0h2m155 0h1m7 0h1m95 0h1m1 0h3m1 0h1m1 0h18m1 0h7M279 173.5h1m6 0h1m23 0h1m4 0h2m9 0h9m1 0h3m2 0h1m1 0h1m2 0h3m1 0h1m1 0h5m1 0h11m1 0h3m1 0h4m1 0h10m217 0h1m69 0h1m1 0h2m13 0h3m1 0h2m1 0h1m1 0h1m2 0h3m2 0h3m58 0h2m1 0h1m192 0h3m1 0h3m1 0h1m1 0h22m1 0h1M279 174.5h2m11 0h1m12 0h2m2 0h1m3 0h1m2 0h2m2 0h1m6 0h10m2 0h1m1 0h1m1 0h2m1 0h2m1 0h7m3 0h14m1 0h7m1 0h5m1 0h2m213 0h1m71 0h5m1 0h1m8 0h1m2 0h4m2 0h1m7 0h1m1 0h1m6 0h1m54 0h1m1 0h1m188 0h3m2 0h2m1 0h20m4 0h5M267 175.5h1m13 0h1m6 0h1m1 0h1m13 0h1m6 0h2m1 0h1m1 0h1m8 0h1m1 0h3m3 0h1m1 0h4m2 0h4m2 0h7m1 0h2m1 0h22m1 0h15m283 0h1m1 0h2m9 0h1m6 0h1m10 0h9m52 0h1m1 0h1m1 0h2m180 0h3m2 0h20m1 0h6m5 0h5M275 176.5h1m27 0h1m12 0h1m10 0h4m1 0h4m1 0h4m1 0h4m2 0h3m1 0h6m4 0h19m2 0h5m1 0h7m206 0h1m89 0h1m2 0h2m12 0h1m1 0h1m1 0h6m6 0h1m6 0h2m1 0h1m4 0h1m2 0h2m23 0h4m70 0h1m115 0h13m2 0h15m6 0h5M279 177.5h1m18 0h1m6 0h1m3 0h3m5 0h2m7 0h11m5 0h3m1 0h9m1 0h5m2 0h11m1 0h2m1 0h2m1 0h1m2 0h3m1 0h10m296 0h1m1 0h1m12 0h1m1 0h8m3 0h1m10 0h1m5 0h6m24 0h1m1 0h1m1 0h1m45 0h1m21 0h1m112 0h6m1 0h10m1 0h9m1 0h4m7 0h3M279 178.5h2m30 0h2m1 0h1m2 0h1m9 0h9m1 0h1m1 0h2m2 0h2m1 0h5m2 0h7m2 0h1m2 0h11m1 0h9m3 0h10m4 0h1m290 0h1m16 0h9m1 0h2m10 0h3m1 0h1m1 0h1m3 0h2m1 0h2m1 0h1m3 0h1m65 0h1m4 0h1m20 0h1m107 0h4m1 0h2m1 0h23m9 0h1m1 0h1M281 179.5h1m19 0h1m25 0h1m2 0h1m1 0h4m1 0h8m2 0h3m2 0h36m2 0h11m2 0h1m304 0h1m1 0h9m2 0h1m1 0h1m10 0h3m1 0h6m1 0h1m2 0h6m65 0h1m1 0h2m24 0h1m102 0h25m3 0h3m1 0h1M282 180.5h2m9 0h1m9 0h1m1 0h1m22 0h4m2 0h7m1 0h3m1 0h1m1 0h5m1 0h1m2 0h3m1 0h1m2 0h12m1 0h11m2 0h1m1 0h7m1 0h1m297 0h2m10 0h2m1 0h6m1 0h1m3 0h1m5 0h1m4 0h14m1 0h2m4 0h2m1 0h1m190 0h4m1 0h16m8 0h4M293 181.5h1m4 0h1m18 0h1m11 0h2m3 0h2m1 0h1m2 0h11m1 0h4m1 0h5m2 0h2m1 0h7m1 0h2m1 0h1m4 0h6m1 0h13m295 0h2m1 0h1m7 0h2m1 0h2m1 0h1m1 0h2m16 0h1m1 0h6m1 0h1m1 0h1m1 0h1m1 0h2m94 0h1m3 0h1m98 0h5m1 0h17m7 0h5M299 182.5h1m5 0h1m2 0h1m23 0h2m1 0h3m1 0h8m1 0h2m2 0h5m2 0h4m2 0h13m1 0h1m1 0h5m4 0h4m1 0h2m1 0h1m1 0h1m1 0h1m307 0h4m3 0h1m1 0h3m3 0h1m1 0h1m7 0h5m14 0h1m3 0h1m1 0h1m2 0h2m54 0h1m127 0h1m2 0h20m9 0h6M279 183.5h1m50 0h1m1 0h4m1 0h4m1 0h4m1 0h5m1 0h8m1 0h4m1 0h17m1 0h11m2 0h1m1 0h2m309 0h6m1 0h3m8 0h1m2 0h1m1 0h1m1 0h1m1 0h1m1 0h1m6 0h1m11 0h2m2 0h1m57 0h1m125 0h5m1 0h1m1 0h15m9 0h7m3 0h3M329 184.5h2m1 0h7m2 0h9m4 0h1m1 0h31m3 0h4m3 0h2m2 0h1m308 0h4m2 0h6m1 0h1m3 0h1m3 0h4m1 0h2m18 0h2m1 0h2m2 0h1m3 0h2m92 0h1m82 0h1m5 0h1m1 0h2m1 0h10m1 0h3m10 0h13M330 185.5h1m2 0h7m4 0h1m2 0h2m1 0h23m1 0h13m3 0h3m1 0h2m3 0h2m310 0h3m3 0h7m3 0h2m2 0h1m1 0h1m1 0h3m1 0h1m203 0h9m1 0h16m8 0h15M286 186.5h1m14 0h1m28 0h1m1 0h6m2 0h3m1 0h1m2 0h23m1 0h18m1 0h1m2 0h5m3 0h1m312 0h6m2 0h1m2 0h1m1 0h5m1 0h2m2 0h2m203 0h4m1 0h5m2 0h9m1 0h4m3 0h1m5 0h9m1 0h5M286 187.5h1m44 0h5m3 0h5m2 0h4m1 0h11m1 0h3m1 0h2m2 0h4m1 0h2m1 0h7m1 0h2m1 0h1m2 0h3m2 0h2m1 0h1m324 0h4m8 0h1m202 0h6m3 0h2m1 0h14m8 0h16M292 188.5h2m37 0h1m2 0h8m2 0h3m2 0h17m1 0h3m1 0h2m1 0h1m2 0h5m1 0h4m2 0h2m1 0h10m335 0h2m20 0h1m181 0h7m1 0h18m1 0h1m5 0h16M288 189.5h1m22 0h1m19 0h5m1 0h2m1 0h2m2 0h2m2 0h19m4 0h1m2 0h2m1 0h19m1 0h5m328 0h2m4 0h1m1 0h1m16 0h1m183 0h9m1 0h2m2 0h14m2 0h2m1 0h17M309 190.5h1m22 0h5m1 0h30m3 0h25m1 0h4m327 0h1m1 0h2m4 0h1m2 0h1m2 0h1m7 0h1m4 0h1m3 0h1m180 0h4m2 0h4m1 0h16m3 0h1m1 0h16M304 191.5h1m27 0h4m1 0h2m2 0h10m1 0h11m1 0h4m2 0h2m2 0h9m1 0h11m1 0h4m540 0h2m1 0h1m1 0h7m2 0h13m2 0h18M288 192.5h1m24 0h1m17 0h1m1 0h3m1 0h3m1 0h27m2 0h13m1 0h5m1 0h1m1 0h3m1 0h1m1 0h1m539 0h4m2 0h1m2 0h1m1 0h1m1 0h1m1 0h15m1 0h19M289 193.5h1m41 0h6m1 0h1m1 0h9m1 0h7m1 0h5m1 0h2m1 0h2m2 0h24m1 0h1m543 0h4m2 0h2m4 0h4m3 0h30M290 194.5h1m15 0h1m24 0h3m1 0h19m1 0h14m1 0h11m1 0h2m1 0h4m2 0h5m544 0h3m4 0h2m3 0h5m1 0h32M293 195.5h1m39 0h1m1 0h4m1 0h1m1 0h6m1 0h2m1 0h29m1 0h5m1 0h6m544 0h2m1 0h1m1 0h2m1 0h4m4 0h36M316 196.5h1m15 0h1m1 0h3m1 0h3m1 0h1m1 0h5m1 0h7m1 0h2m1 0h16m1 0h8m1 0h5m547 0h2m3 0h12m1 0h2m3 0h13m1 0h13m1 0h1M313 197.5h1m3 0h1m16 0h12m1 0h1m3 0h2m1 0h1m1 0h1m1 0h6m1 0h26m547 0h2m3 0h1m1 0h1m3 0h5m3 0h2m3 0h13m1 0h15M313 198.5h1m5 0h1m14 0h6m2 0h11m1 0h1m1 0h1m2 0h3m1 0h3m1 0h1m1 0h6m1 0h5m1 0h2m2 0h4m551 0h11m2 0h9m2 0h10m1 0h13m1 0h1M313 199.5h1m1 0h1m2 0h1m15 0h5m2 0h4m3 0h1m1 0h1m1 0h2m2 0h4m1 0h7m1 0h19m551 0h7m1 0h42m3 0h1M334 200.5h9m5 0h1m7 0h13m1 0h6m1 0h10m468 0h1m80 0h2m1 0h22m1 0h3m1 0h1m1 0h25M334 201.5h5m1 0h4m1 0h7m3 0h5m1 0h6m1 0h9m1 0h8m470 0h2m79 0h18m5 0h4m2 0h1m2 0h1m1 0h1m4 0h14M311 202.5h1m22 0h1m1 0h10m1 0h1m2 0h6m3 0h15m2 0h1m3 0h6m469 0h4m77 0h2m1 0h17m3 0h1m2 0h4m3 0h3m2 0h1m1 0h1m1 0h1m1 0h8m1 0h3M312 203.5h1m1 0h1m2 0h1m16 0h8m1 0h3m3 0h5m1 0h1m1 0h16m1 0h1m1 0h1m1 0h8m469 0h4m78 0h18m1 0h1m1 0h2m1 0h3m1 0h3m1 0h3m2 0h2m2 0h15M308 204.5h1m5 0h1m20 0h2m1 0h1m1 0h4m1 0h4m3 0h4m1 0h3m1 0h5m1 0h2m1 0h3m3 0h9m470 0h1m2 0h3m75 0h4m1 0h10m1 0h1m2 0h1m1 0h5m1 0h1m1 0h1m1 0h1m1 0h6m1 0h4m1 0h12M310 205.5h1m25 0h7m1 0h6m1 0h1m2 0h14m2 0h1m6 0h8m471 0h2m2 0h4m72 0h14m2 0h1m2 0h1m3 0h1m3 0h1m2 0h4m1 0h4m1 0h2m3 0h4m1 0h6M313 206.5h1m22 0h11m2 0h8m1 0h3m16 0h1m3 0h4m472 0h4m4 0h2m68 0h15m1 0h2m1 0h2m7 0h4m1 0h6m1 0h3m4 0h1m2 0h1m3 0h3m1 0h1M313 207.5h1m23 0h12m1 0h2m2 0h1m1 0h5m19 0h5m473 0h5m2 0h4m66 0h2m1 0h17m3 0h1m8 0h11m1 0h6m2 0h1m1 0h3M338 208.5h7m13 0h2m20 0h3m477 0h3m1 0h1m1 0h2m1 0h2m64 0h2m1 0h11m1 0h4m12 0h9m1 0h5m1 0h2m2 0h2m1 0h5M338 209.5h6m40 0h3m473 0h7m2 0h2m64 0h1m2 0h14m6 0h2m1 0h1m3 0h12m2 0h1m2 0h2m2 0h1m2 0h1m1 0h3M338 210.5h1m43 0h1m1 0h1m1 0h1m475 0h10m66 0h17m4 0h1m2 0h2m2 0h10m2 0h1m1 0h1m1 0h3m3 0h3m2 0h1M382 211.5h2m1 0h3m475 0h4m3 0h3m63 0h4m1 0h13m2 0h2m2 0h1m2 0h13m3 0h4m1 0h2m1 0h1m2 0h1m1 0h1M382 212.5h1m1 0h4m476 0h3m5 0h1m2 0h3m1 0h1m58 0h16m2 0h2m1 0h1m3 0h1m3 0h8m6 0h2m1 0h1m1 0h1m1 0h4M382 213.5h6m478 0h1m1 0h2m1 0h3m1 0h4m59 0h1m1 0h18m2 0h1m3 0h4m1 0h4m3 0h2m1 0h1m2 0h1m1 0h4m1 0h2M383 214.5h6m480 0h12m58 0h2m1 0h17m1 0h3m1 0h2m3 0h2m1 0h6m1 0h1m1 0h9M384 215.5h3m484 0h14m54 0h3m1 0h11m1 0h6m1 0h3m1 0h8m1 0h1m2 0h5m1 0h3m1 0h2M301 216.5h1m81 0h1m1 0h4m484 0h8m1 0h7m47 0h1m3 0h4m1 0h3m1 0h3m1 0h7m2 0h3m2 0h3m1 0h2m2 0h2m1 0h11M384 217.5h5m484 0h1m1 0h7m1 0h1m1 0h7m47 0h22m1 0h3m1 0h1m1 0h6m1 0h1m1 0h1m1 0h6m2 0h2M302 218.5h2m82 0h2m490 0h6m3 0h8m44 0h2m2 0h6m1 0h9m1 0h4m2 0h6m4 0h10m1 0h1M303 219.5h1m82 0h1m494 0h14m1 0h2m1 0h4m35 0h23m1 0h9m1 0h9m1 0h5M304 220.5h1m581 0h3m1 0h13m36 0h19m1 0h1m4 0h6m1 0h7m2 0h6M888 221.5h14m1 0h1m9 0h1m2 0h1m21 0h9m1 0h1m2 0h2m1 0h4m2 0h1m5 0h5m1 0h1m1 0h11M306 222.5h1m582 0h4m1 0h6m1 0h3m6 0h3m2 0h3m20 0h10m1 0h2m4 0h1m1 0h1m1 0h1m1 0h2m4 0h4m1 0h1m2 0h1m1 0h1m1 0h2m1 0h2M871 223.5h1m1 0h1m1 0h1m1 0h2m1 0h2m1 0h2m2 0h1m1 0h8m1 0h7m4 0h3m2 0h3m2 0h1m4 0h1m4 0h3m2 0h2m3 0h1m1 0h5m1 0h3m2 0h3m1 0h1m2 0h5m1 0h5m1 0h4m1 0h1m1 0h3M314 224.5h1m553 0h2m1 0h5m3 0h2m1 0h3m1 0h2m1 0h17m3 0h2m1 0h1m2 0h5m1 0h2m1 0h3m4 0h3m2 0h1m1 0h4m1 0h1m1 0h1m2 0h2m2 0h4m2 0h2m2 0h2m2 0h2m2 0h1m1 0h2m1 0h2M865 225.5h4m1 0h4m1 0h1m1 0h5m2 0h1m1 0h3m1 0h4m1 0h6m1 0h3m5 0h8m2 0h1m2 0h3m9 0h9m2 0h2m2 0h10m1 0h3m1 0h3m1 0h3m1 0h1m1 0h2m1 0h1M866 226.5h12m1 0h6m2 0h9m1 0h1m1 0h4m1 0h2m4 0h3m2 0h4m2 0h3m1 0h2m2 0h1m3 0h3m1 0h2m1 0h4m1 0h1m1 0h8m1 0h3m3 0h1m4 0h8M311 227.5h1m5 0h1m2 0h1m60 0h1m1 0h1m2 0h1m474 0h1m1 0h1m2 0h2m1 0h10m1 0h10m1 0h2m1 0h1m1 0h6m1 0h1m6 0h4m1 0h4m2 0h5m3 0h2m1 0h2m1 0h1m5 0h3m2 0h1m1 0h1m1 0h7m1 0h12m1 0h4M316 228.5h1m1 0h10m7 0h1m43 0h3m1 0h2m1 0h4m471 0h2m1 0h1m1 0h7m1 0h3m1 0h3m2 0h4m1 0h5m1 0h8m9 0h2m5 0h5m11 0h2m3 0h1m1 0h3m2 0h4m1 0h1m1 0h3m1 0h4m2 0h4m3 0h2M313 229.5h3m8 0h4m6 0h2m42 0h3m3 0h1m1 0h3m1 0h1m469 0h3m5 0h2m2 0h1m1 0h2m1 0h4m1 0h2m2 0h7m2 0h4m13 0h2m5 0h2m3 0h1m1 0h1m1 0h1m2 0h5m2 0h2m2 0h4m1 0h8m1 0h7m2 0h5M312 230.5h3m3 0h1m6 0h1m2 0h1m58 0h4m1 0h2m465 0h2m1 0h1m1 0h3m1 0h1m1 0h4m1 0h2m3 0h4m1 0h6m1 0h2m1 0h2m14 0h1m6 0h2m2 0h1m1 0h1m1 0h2m4 0h5m1 0h1m3 0h1m2 0h1m1 0h4m5 0h5m3 0h3M324 231.5h3m1 0h3m4 0h1m57 0h2m464 0h4m1 0h6m1 0h9m1 0h9m25 0h1m2 0h1m6 0h1m3 0h4m1 0h1m6 0h1m3 0h1m1 0h5m1 0h1m1 0h6m1 0h1M320 232.5h1m3 0h6m32 0h3m30 0h5m459 0h1m1 0h2m1 0h5m1 0h1m1 0h2m1 0h2m2 0h12m26 0h1m12 0h1m1 0h1m1 0h2m1 0h3m1 0h2m2 0h1m1 0h3m8 0h3M316 233.5h2m5 0h1m6 0h1m1 0h1m3 0h1m24 0h5m28 0h9m456 0h1m2 0h1m2 0h4m1 0h1m1 0h5m1 0h12m20 0h2m5 0h1m2 0h2m11 0h3m1 0h1m1 0h1m2 0h1m2 0h4m10 0h1M318 234.5h2m1 0h1m3 0h2m10 0h1m19 0h6m1 0h3m30 0h6m457 0h5m1 0h3m1 0h1m1 0h1m3 0h8m2 0h2m30 0h2m13 0h1m1 0h2m6 0h6M314 235.5h1m4 0h1m1 0h6m3 0h1m6 0h1m23 0h6m30 0h8m456 0h10m1 0h2m2 0h1m1 0h1m1 0h5m1 0h2m22 0h3m4 0h2m4 0h2m6 0h1m1 0h1m1 0h1m6 0h2m2 0h1M314 236.5h1m1 0h1m2 0h1m1 0h1m2 0h4m2 0h1m3 0h1m1 0h1m21 0h1m2 0h6m33 0h1m3 0h1m457 0h1m1 0h5m2 0h2m1 0h14m23 0h2m4 0h2m3 0h1m1 0h2m4 0h1m2 0h4m5 0h1m2 0h1M321 237.5h2m10 0h1m5 0h1m17 0h2m2 0h3m1 0h2m45 0h3m1 0h1m1 0h1m444 0h3m1 0h3m2 0h1m1 0h2m3 0h3m2 0h2m24 0h3m2 0h3m1 0h1m8 0h1m8 0h1m7 0h1m10 0h5M317 238.5h1m2 0h2m2 0h2m2 0h1m1 0h1m3 0h1m1 0h1m1 0h3m17 0h7m1 0h1m46 0h1m2 0h5m444 0h2m1 0h1m1 0h1m1 0h4m1 0h3m1 0h3m27 0h5m2 0h1m4 0h3m6 0h1m9 0h1m16 0h2M318 239.5h2m2 0h4m13 0h3m16 0h8m45 0h1m2 0h1m1 0h4m444 0h2m2 0h3m1 0h1m3 0h7m28 0h2m1 0h1m3 0h1m6 0h1m3 0h1m3 0h2m23 0h2M323 240.5h1m1 0h1m1 0h2m2 0h1m2 0h1m1 0h1m3 0h2m16 0h6m50 0h2m1 0h3m2 0h1m442 0h5m1 0h1m2 0h2m1 0h5m29 0h2m1 0h3m10 0h1m1 0h1m1 0h1m26 0h1M323 241.5h8m2 0h1m1 0h4m1 0h3m1 0h4m3 0h1m1 0h1m4 0h4m53 0h1m451 0h3m1 0h1m1 0h4m1 0h3m31 0h6m9 0h3m1 0h2m5 0h1m2 0h1m1 0h4m46 0h1M323 242.5h2m3 0h2m1 0h1m1 0h1m1 0h1m1 0h3m3 0h11m2 0h1m1 0h1m1 0h3m34 0h1m471 0h1m1 0h1m2 0h2m1 0h2m34 0h5m16 0h1m6 0h1m1 0h4m43 0h1m2 0h2M325 243.5h1m3 0h1m1 0h1m1 0h2m2 0h3m2 0h1m1 0h1m1 0h4m1 0h2m3 0h9m505 0h2m2 0h2m1 0h2m34 0h1m1 0h1m1 0h1m11 0h1m2 0h6m1 0h1m1 0h5m1 0h2m42 0h1m1 0h2M327 244.5h9m1 0h1m2 0h1m7 0h3m1 0h2m3 0h1m1 0h3m1 0h1m508 0h3m1 0h2m34 0h2m1 0h2m8 0h1m1 0h3m1 0h3m5 0h2m1 0h3m1 0h4m41 0h1m2 0h1M332 245.5h1m2 0h1m3 0h1m7 0h2m12 0h2m509 0h4m40 0h1m1 0h1m5 0h7m4 0h2m3 0h2m1 0h7m41 0h1M331 246.5h3m2 0h1m23 0h3m511 0h1m41 0h2m6 0h9m3 0h5m1 0h9m38 0h1m1 0h3M334 247.5h1m1 0h1m23 0h1m555 0h1m8 0h6m1 0h2m2 0h11m1 0h4m39 0h2M924 248.5h4m1 0h9m2 0h6m1 0h1m1 0h1m2 0h1m36 0h1m1 0h1M362 249.5h2m3 0h1m1 0h5m552 0h6m4 0h1m3 0h3m1 0h1m1 0h2m1 0h2M363 250.5h2m1 0h3m1 0h7m549 0h7m1 0h1m3 0h13m1 0h1m39 0h1M363 251.5h2m1 0h3m1 0h1m1 0h5m549 0h3m2 0h2m1 0h2m2 0h5m4 0h4m1 0h2M364 252.5h2m1 0h2m1 0h1m1 0h6m548 0h2m2 0h2m1 0h2m5 0h15M364 253.5h2m2 0h1m1 0h8m548 0h12m2 0h12m1 0h2M364 254.5h1m2 0h2m2 0h7m549 0h2m2 0h8m2 0h15M372 255.5h6m552 0h1m1 0h18m2 0h4M371 256.5h7m203 0h1m3 0h1m342 0h1m1 0h1m1 0h1m2 0h9m1 0h1m1 0h7m1 0h1M369 257.5h9m201 0h5m2 0h1m156 0h1m184 0h1m3 0h2m2 0h2m4 0h1m1 0h1m1 0h4m1 0h6M370 258.5h1m1 0h5m1 0h1m200 0h3m1 0h2m1 0h5m1 0h1m3 0h2m143 0h1m1 0h2m183 0h1m4 0h1m5 0h17M371 259.5h1m2 0h3m203 0h4m1 0h5m1 0h4m1 0h1m2 0h1m3 0h1m2 0h1m1 0h2m133 0h2m1 0h1m192 0h8m1 0h8M372 260.5h3m2 0h1m203 0h3m1 0h1m2 0h2m4 0h1m2 0h2m3 0h2m3 0h3m1 0h2m4 0h1m4 0h1m120 0h1m197 0h15M373 261.5h1m208 0h1m1 0h11m1 0h1m1 0h1m5 0h5m1 0h5m4 0h2m1 0h1m1 0h3m107 0h1m7 0h1m4 0h2m193 0h9m1 0h4M413 262.5h2m169 0h2m2 0h6m1 0h3m7 0h7m1 0h3m1 0h11m1 0h1m104 0h1m1 0h1m2 0h1m7 0h1m194 0h3m1 0h8m42 0h1M408 263.5h1m1 0h1m5 0h2m171 0h1m1 0h4m1 0h3m1 0h16m1 0h10m3 0h1m3 0h1m99 0h1m2 0h1m1 0h1m1 0h1m5 0h1m195 0h4m1 0h5m43 0h1M408 264.5h1m1 0h2m1 0h2m1 0h3m171 0h4m2 0h3m1 0h6m2 0h6m1 0h1m3 0h8m1 0h1m1 0h2m1 0h5m100 0h1m1 0h1m201 0h9m44 0h1m1 0h2M406 265.5h1m7 0h5m1 0h2m3 0h1m8 0h1m6 0h3m142 0h1m2 0h10m1 0h3m1 0h6m1 0h4m2 0h1m3 0h7m1 0h3m1 0h5m1 0h1m1 0h4m2 0h2m82 0h2m1 0h1m1 0h3m3 0h1m199 0h8m46 0h1m1 0h1M403 266.5h1m4 0h1m6 0h2m3 0h2m3 0h1m4 0h3m1 0h2m2 0h1m1 0h4m147 0h6m1 0h3m3 0h4m1 0h1m1 0h3m4 0h2m1 0h5m1 0h18m1 0h3m3 0h1m78 0h1m1 0h3m1 0h3m1 0h2m201 0h5m49 0h2M407 267.5h3m5 0h2m3 0h3m2 0h1m2 0h1m1 0h1m4 0h1m2 0h1m1 0h2m150 0h2m1 0h1m2 0h1m1 0h7m1 0h8m3 0h2m2 0h2m1 0h27m85 0h2m1 0h2m1 0h1m180 0h2m17 0h5m49 0h1M404 268.5h10m1 0h1m1 0h1m1 0h1m1 0h2m4 0h1m5 0h1m2 0h1m4 0h2m152 0h5m1 0h8m1 0h3m2 0h16m1 0h4m1 0h25m1 0h1m67 0h1m1 0h1m1 0h1m2 0h8m198 0h4m35 0h1m13 0h1M384 269.5h1m7 0h1m8 0h1m1 0h3m3 0h2m1 0h4m7 0h3m1 0h3m3 0h1m7 0h2m155 0h12m1 0h1m4 0h8m1 0h11m1 0h13m1 0h9m1 0h1m1 0h6m2 0h1m36 0h4m21 0h1m1 0h1m2 0h6m3 0h2m196 0h1m57 0h2M384 270.5h1m2 0h1m1 0h1m11 0h1m1 0h5m1 0h8m5 0h2m1 0h3m1 0h1m2 0h2m1 0h1m155 0h1m6 0h12m1 0h4m2 0h6m1 0h3m1 0h19m1 0h1m1 0h3m1 0h6m2 0h9m33 0h1m3 0h2m1 0h2m19 0h1m3 0h1m1 0h1m3 0h1m1 0h2m1 0h2m120 0h2m55 0h3m52 0h1m21 0h1M383 271.5h2m2 0h1m1 0h1m11 0h6m3 0h2m1 0h5m1 0h1m1 0h9m2 0h1m163 0h1m4 0h7m1 0h5m2 0h6m2 0h6m2 0h8m4 0h9m1 0h2m1 0h6m1 0h4m1 0h9m20 0h3m7 0h1m2 0h1m6 0h1m23 0h1m2 0h3m121 0h2m1 0h1m52 0h5M384 272.5h5m6 0h2m5 0h2m2 0h2m3 0h1m1 0h3m1 0h1m4 0h1m1 0h1m3 0h1m172 0h5m1 0h15m2 0h12m2 0h2m1 0h9m4 0h1m1 0h1m1 0h4m1 0h5m1 0h9m15 0h1m1 0h1m4 0h1m7 0h1m27 0h2m1 0h1m1 0h2m1 0h5m121 0h2m54 0h3m70 0h2M387 273.5h1m14 0h1m1 0h3m1 0h5m1 0h2m177 0h1m2 0h1m3 0h11m1 0h1m1 0h7m1 0h13m1 0h1m3 0h1m1 0h8m1 0h3m2 0h1m2 0h1m1 0h9m4 0h4m1 0h2m12 0h2m7 0h2m2 0h1m1 0h1m11 0h1m17 0h5m4 0h2m122 0h1m54 0h1m2 0h1m69 0h1M396 274.5h1m5 0h3m4 0h1m2 0h1m7 0h1m180 0h10m2 0h6m1 0h12m1 0h2m2 0h5m1 0h7m1 0h3m1 0h1m1 0h1m2 0h1m1 0h1m3 0h4m1 0h1m1 0h1m1 0h7m6 0h1m2 0h2m7 0h1m5 0h2m2 0h3m6 0h3m1 0h1m12 0h1m2 0h1m4 0h5m122 0h1m55 0h4M407 275.5h1m1 0h3m1 0h1m185 0h13m1 0h1m1 0h8m1 0h11m8 0h9m1 0h6m2 0h9m2 0h2m4 0h3m2 0h1m3 0h1m2 0h4m6 0h1m4 0h1m4 0h1m5 0h2m1 0h3m3 0h1m9 0h2m1 0h1m2 0h5m1 0h1m123 0h1m55 0h2m1 0h1M408 276.5h3m3 0h1m33 0h1m1 0h1m148 0h5m1 0h7m3 0h1m1 0h20m1 0h3m1 0h2m1 0h6m2 0h5m1 0h2m5 0h3m1 0h4m2 0h2m1 0h1m14 0h1m13 0h1m6 0h3m1 0h4m17 0h3m1 0h2m124 0h1m57 0h1m1 0h4m45 0h1m21 0h2m2 0h1m1 0h1M447 277.5h1m2 0h1m3 0h1m145 0h3m2 0h7m1 0h2m1 0h13m1 0h2m1 0h1m8 0h7m1 0h1m2 0h2m3 0h1m1 0h1m2 0h4m2 0h2m1 0h2m1 0h3m1 0h2m12 0h1m4 0h1m13 0h1m4 0h1m1 0h1m1 0h1m2 0h3m11 0h1m2 0h3m1 0h2m182 0h5m43 0h1m1 0h3m22 0h1M447 278.5h1m7 0h1m147 0h9m2 0h1m1 0h6m1 0h5m2 0h1m12 0h7m1 0h6m4 0h5m3 0h2m3 0h1m1 0h4m1 0h1m12 0h1m1 0h5m6 0h1m10 0h4m2 0h1m1 0h2m9 0h9m183 0h5m45 0h3m22 0h1M454 279.5h3m148 0h4m1 0h1m3 0h13m17 0h7m2 0h2m3 0h1m2 0h2m1 0h1m4 0h1m3 0h5m11 0h1m1 0h1m2 0h1m2 0h3m28 0h1m4 0h1m8 0h1m1 0h1m190 0h1m41 0h2M456 280.5h2m1 0h1m1 0h1m2 0h1m140 0h1m1 0h1m1 0h2m4 0h1m4 0h2m1 0h1m26 0h1m2 0h1m4 0h1m1 0h2m1 0h9m2 0h3m2 0h1m12 0h2m1 0h1m4 0h5m4 0h1m9 0h1m2 0h2m1 0h2m207 0h2m47 0h1M459 281.5h4m1 0h1m142 0h2m1 0h1m45 0h1m2 0h3m4 0h3m1 0h1m1 0h5m4 0h1m4 0h1m5 0h2m2 0h1m1 0h1m1 0h2m1 0h5m1 0h1m11 0h2m3 0h4m251 0h2m1 0h1M445 282.5h2m1 0h1m10 0h2m1 0h1m1 0h3m1 0h3m188 0h2m1 0h1m4 0h1m2 0h5m1 0h1m20 0h1m1 0h1m3 0h2m1 0h1m1 0h1m11 0h2m2 0h1m1 0h1m3 0h1m3 0h1m202 0h1M443 283.5h1m3 0h2m12 0h2m2 0h9m185 0h1m2 0h7m1 0h3m1 0h1m1 0h3m2 0h3m5 0h1m2 0h1m1 0h1m2 0h1m1 0h9m1 0h1m7 0h2m1 0h2m15 0h1m198 0h1m40 0h1M460 284.5h3m4 0h2m2 0h3m184 0h1m1 0h1m2 0h4m2 0h2m1 0h1m5 0h4m7 0h1m3 0h1m1 0h1m1 0h1m3 0h1m1 0h3m4 0h1m2 0h2m3 0h2m2 0h1M445 285.5h1m16 0h1m1 0h2m3 0h6m184 0h1m6 0h2m1 0h2m1 0h7m4 0h1m7 0h2m2 0h1m1 0h2m1 0h2m2 0h2m1 0h1m3 0h1m2 0h1m2 0h2m7 0h2m7 0h1m198 0h1M450 286.5h1m16 0h1m1 0h2m2 0h3m182 0h3m3 0h1m4 0h1m2 0h1m7 0h4m1 0h1m1 0h1m6 0h5m2 0h1m1 0h1m1 0h3m7 0h3m13 0h1m4 0h1m198 0h4M443 287.5h1m8 0h1m18 0h5m183 0h1m5 0h1m4 0h2m3 0h1m2 0h6m2 0h1m4 0h2m1 0h5m1 0h1m1 0h6m7 0h4m1 0h2m11 0h2m199 0h1m3 0h1M450 288.5h2m17 0h3m2 0h2m187 0h3m2 0h1m6 0h1m3 0h5m1 0h4m2 0h1m1 0h1m2 0h2m1 0h2m2 0h1m1 0h1m7 0h3m1 0h2m1 0h2m4 0h1m5 0h2m205 0h1m41 0h2M448 289.5h1m22 0h1m1 0h1m1 0h1m186 0h2m1 0h1m4 0h1m3 0h1m1 0h2m4 0h5m2 0h2m2 0h2m1 0h2m7 0h1m7 0h1m1 0h1m1 0h5m4 0h1m1 0h1m208 0h3m41 0h1M445 290.5h1m7 0h2m16 0h2m1 0h2m186 0h3m5 0h1m3 0h2m6 0h4m1 0h2m1 0h8m3 0h2m1 0h1m4 0h1m5 0h2m1 0h2m5 0h1m2 0h1m210 0h1m41 0h1M445 291.5h3m1 0h3m20 0h1m1 0h1m185 0h1m2 0h1m2 0h1m5 0h1m1 0h1m5 0h3m1 0h3m1 0h1m1 0h3m1 0h6m1 0h1m1 0h1m6 0h2m2 0h2m1 0h5m3 0h1m7 0h3m247 0h1m29 0h1M392 292.5h1m52 0h8m19 0h1m184 0h3m3 0h1m2 0h1m2 0h1m1 0h2m2 0h1m6 0h2m1 0h1m1 0h7m1 0h5m1 0h3m8 0h1m2 0h4m1 0h6m1 0h1m1 0h3m1 0h1m2 0h1m2 0h1m273 0h1M390 293.5h1m54 0h5m24 0h1m182 0h3m3 0h1m2 0h2m1 0h1m2 0h2m5 0h1m4 0h1m3 0h5m1 0h6m5 0h1m15 0h1m1 0h1m1 0h3m1 0h3m1 0h1m2 0h1m243 0h1m13 0h1m1 0h1m3 0h1M390 294.5h1m1 0h2m51 0h1m2 0h2m209 0h2m1 0h2m4 0h1m10 0h1m3 0h3m1 0h6m1 0h4m1 0h3m1 0h1m3 0h3m10 0h1m2 0h1m1 0h1m12 0h1m2 0h3m234 0h1m1 0h1m10 0h1m4 0h3m1 0h1M392 295.5h1m2 0h1m78 0h2m1 0h1m181 0h1m2 0h1m16 0h1m1 0h1m2 0h9m4 0h1m1 0h3m5 0h3m1 0h1m3 0h4m1 0h4m1 0h3m10 0h1m241 0h1M388 296.5h2m269 0h1m3 0h2m4 0h2m6 0h1m1 0h1m2 0h1m2 0h1m2 0h1m2 0h3m2 0h6m2 0h1m4 0h3m2 0h1m1 0h1m1 0h2m3 0h4m1 0h1m1 0h1m1 0h1m280 0h1M388 297.5h3m270 0h1m2 0h1m3 0h3m3 0h1m11 0h3m1 0h1m2 0h1m1 0h1m1 0h6m12 0h1m1 0h3m1 0h2m3 0h1m1 0h1m5 0h1m245 0h1m32 0h1M387 298.5h1m2 0h2m268 0h1m2 0h1m5 0h3m5 0h3m3 0h1m1 0h1m2 0h2m1 0h3m1 0h2m1 0h4m1 0h1m13 0h1m1 0h1m258 0h1M387 299.5h1m2 0h2m60 0h1m14 0h1m1 0h1m189 0h2m4 0h2m4 0h1m4 0h2m1 0h2m7 0h2m1 0h9m1 0h3m1 0h1m4 0h1m6 0h3m2 0h1m1 0h6m3 0h1m3 0h2m1 0h1m236 0h3m7 0h2m3 0h1M386 300.5h2m2 0h4m56 0h2m3 0h1m9 0h1m2 0h2m15 0h1m1 0h1m2 0h1m172 0h1m5 0h1m1 0h1m3 0h1m2 0h1m1 0h1m1 0h6m1 0h1m3 0h1m2 0h3m5 0h1m13 0h3m1 0h11m208 0h1m36 0h1m9 0h1M386 301.5h1m1 0h4m48 0h1m2 0h1m3 0h3m14 0h3m2 0h1m21 0h1m180 0h4m5 0h1m1 0h3m2 0h1m3 0h1m1 0h2m1 0h2m1 0h1m1 0h1m6 0h2m7 0h3m3 0h2m3 0h3m2 0h1m1 0h1m236 0h1m14 0h2M386 302.5h2m3 0h1m45 0h1m2 0h1m1 0h1m7 0h1m3 0h8m21 0h4m1 0h1m6 0h1m167 0h1m4 0h2m2 0h3m1 0h1m2 0h2m2 0h1m1 0h2m4 0h1m2 0h2m1 0h2m1 0h1m8 0h1m4 0h1m2 0h1m6 0h2m3 0h1m1 0h1m5 0h1m2 0h1m232 0h1m1 0h2M390 303.5h3m44 0h1m5 0h1m1 0h1m15 0h1m1 0h1m8 0h2m9 0h2m1 0h1m3 0h2m169 0h3m2 0h1m2 0h1m11 0h2m2 0h1m13 0h1m19 0h4m2 0h1m2 0h4m6 0h3m229 0h3m15 0h1M391 304.5h3m47 0h1m1 0h1m3 0h1m3 0h1m16 0h1m7 0h1m3 0h1m2 0h4m3 0h1m4 0h2m2 0h1m162 0h2m1 0h1m1 0h5m1 0h2m1 0h2m4 0h2m3 0h5m3 0h2m5 0h1m6 0h2m2 0h1m1 0h1m3 0h1m18 0h1m4 0h1m221 0h1m4 0h1m1 0h2m15 0h2m1 0h1M391 305.5h2m34 0h1m8 0h1m1 0h1m1 0h2m7 0h1m1 0h2m4 0h1m3 0h1m3 0h2m9 0h1m3 0h5m2 0h4m6 0h3m4 0h1m1 0h1m155 0h1m1 0h1m2 0h1m1 0h1m3 0h4m4 0h4m3 0h1m10 0h1m8 0h1m1 0h1m4 0h1m5 0h2m5 0h1m8 0h1m5 0h1m202 0h1m19 0h1m2 0h2m2 0h1M392 306.5h1m34 0h1m4 0h1m4 0h1m11 0h1m1 0h2m7 0h2m9 0h1m6 0h1m2 0h4m2 0h1m6 0h1m1 0h1m1 0h1m1 0h3m1 0h1m1 0h1m162 0h1m2 0h2m5 0h1m2 0h1m2 0h1m2 0h1m2 0h2m17 0h1m26 0h1m235 0h1m18 0h1M388 307.5h3m34 0h2m11 0h1m5 0h1m10 0h1m4 0h1m1 0h1m8 0h1m2 0h2m4 0h1m1 0h1m2 0h3m7 0h1m2 0h1m2 0h2m1 0h2m160 0h1m2 0h1m2 0h3m2 0h1m3 0h2m1 0h2m3 0h1m1 0h1m4 0h2m9 0h1m8 0h1m4 0h1m1 0h1m4 0h1m14 0h1m249 0h1M429 308.5h1m7 0h4m6 0h3m7 0h1m16 0h2m4 0h2m1 0h5m4 0h1m1 0h4m4 0h1m10 0h2m150 0h1m10 0h3m1 0h4m12 0h1m13 0h1m7 0h1m22 0h1M390 309.5h1m40 0h1m4 0h1m1 0h1m2 0h2m7 0h1m24 0h6m1 0h1m2 0h3m4 0h3m1 0h3m3 0h1m1 0h1m1 0h1m6 0h1m1 0h1m149 0h1m4 0h1m1 0h1m3 0h3m1 0h1m2 0h1m1 0h2m10 0h1m14 0h1m30 0h1m2 0h1m246 0h3M426 310.5h1m1 0h1m14 0h2m2 0h1m1 0h1m5 0h2m18 0h3m2 0h1m1 0h6m1 0h2m1 0h3m4 0h2m3 0h1m9 0h2m1 0h1m161 0h1m1 0h1m1 0h2m1 0h1m3 0h1m1 0h2m24 0h2m3 0h1m13 0h1m8 0h1m197 0h1m49 0h1M386 311.5h1m42 0h1m31 0h2m12 0h1m1 0h1m2 0h2m1 0h4m1 0h3m1 0h2m5 0h4m1 0h1m2 0h1m3 0h2m1 0h1m1 0h3m158 0h1m3 0h1m1 0h3m1 0h1m3 0h1m18 0h1m16 0h1m2 0h1m12 0h2m1 0h1m197 0h1M387 312.5h2m32 0h1m2 0h1m15 0h2m26 0h1m1 0h1m3 0h5m2 0h1m4 0h1m1 0h1m1 0h1m2 0h1m5 0h4m2 0h1m1 0h1m1 0h1m1 0h1m5 0h4m147 0h1m6 0h1m4 0h2m1 0h2m2 0h2m2 0h1m3 0h1m3 0h1m2 0h2m13 0h3m1 0h2M387 313.5h3m3 0h1m28 0h2m2 0h1m4 0h1m7 0h1m1 0h1m5 0h1m2 0h2m4 0h2m16 0h2m1 0h3m4 0h1m1 0h1m3 0h1m2 0h1m2 0h1m2 0h1m1 0h1m1 0h2m8 0h2m1 0h1m2 0h1m1 0h3m157 0h4m3 0h3m3 0h1m2 0h1m8 0h1m1 0h1m12 0h3m4 0h1m2 0h1M387 314.5h1m34 0h1m13 0h1m1 0h2m1 0h1m5 0h1m1 0h2m2 0h1m1 0h2m5 0h2m1 0h1m6 0h3m1 0h4m4 0h2m5 0h2m15 0h1m2 0h1m5 0h5m1 0h1m157 0h2m1 0h1m1 0h1m1 0h3m15 0h1m12 0h1m3 0h1m4 0h1m1 0h2m3 0h1m5 0h1m2 0h1M392 315.5h2m27 0h1m16 0h1m7 0h1m3 0h1m7 0h1m1 0h2m12 0h3m1 0h1m1 0h1m1 0h1m5 0h2m13 0h1m4 0h1m2 0h1m2 0h1m2 0h5m153 0h2m1 0h4m4 0h1m2 0h1m10 0h1m5 0h2m5 0h1m2 0h1m10 0h2m7 0h1m2 0h1M389 316.5h1m1 0h1m29 0h1m15 0h1m1 0h1m7 0h2m1 0h1m9 0h1m12 0h1m1 0h6m1 0h1m9 0h1m8 0h1m8 0h1m8 0h1m3 0h1m152 0h1m2 0h1m2 0h3m1 0h2m1 0h1m2 0h1m7 0h3m3 0h1m2 0h2m11 0h2m1 0h1m11 0h1m7 0h1M391 317.5h1m1 0h2m26 0h1m16 0h1m15 0h3m1 0h1m5 0h1m10 0h2m1 0h5m2 0h1m5 0h2m8 0h2m7 0h1m6 0h1m1 0h2m1 0h2m152 0h2m6 0h4m4 0h1m3 0h1m5 0h1m3 0h2m15 0h1m2 0h1m8 0h1m5 0h1m2 0h1m214 0h1m3 0h2M392 318.5h3m24 0h1m1 0h4m34 0h1m3 0h5m4 0h4m2 0h2m7 0h1m1 0h1m2 0h1m3 0h1m16 0h1m5 0h5m152 0h3m4 0h1m2 0h2m2 0h2m10 0h1m2 0h1m10 0h1m5 0h1m4 0h3m2 0h1m1 0h1m2 0h1m2 0h1m3 0h1m215 0h7m2 0h1m79 0h2m1 0h1M391 319.5h1m28 0h1m11 0h1m12 0h2m1 0h2m4 0h1m2 0h1m6 0h2m7 0h1m1 0h1m1 0h1m1 0h1m7 0h1m3 0h1m3 0h1m2 0h1m5 0h2m12 0h3m154 0h1m1 0h1m5 0h1m1 0h1m1 0h2m4 0h1m1 0h1m4 0h1m7 0h1m1 0h1m3 0h1m2 0h1m5 0h2m1 0h1m10 0h2m3 0h1m218 0h7m75 0h1m1 0h12M392 320.5h1m1 0h2m25 0h1m1 0h1m8 0h1m6 0h2m1 0h1m5 0h4m2 0h3m5 0h3m3 0h1m5 0h1m1 0h3m3 0h1m1 0h2m2 0h2m4 0h3m1 0h2m2 0h1m4 0h2m3 0h1m8 0h3m151 0h1m1 0h2m1 0h1m2 0h1m2 0h1m1 0h2m1 0h1m2 0h2m4 0h1m5 0h3m10 0h1m5 0h2m6 0h2m3 0h1m1 0h2m219 0h4m1 0h1m7 0h2m72 0h6m1 0h2M392 321.5h5m25 0h1m17 0h1m1 0h1m5 0h1m2 0h2m2 0h2m9 0h1m7 0h5m1 0h1m4 0h1m2 0h4m1 0h1m1 0h1m7 0h1m3 0h1m3 0h2m4 0h1m2 0h4m146 0h2m2 0h1m2 0h1m1 0h2m1 0h1m3 0h1m1 0h1m2 0h1m10 0h1m17 0h4m10 0h3m1 0h2m231 0h1m2 0h2m4 0h1m3 0h2m6 0h1m56 0h1m1 0h1m3 0h4M393 322.5h4m26 0h1m13 0h5m3 0h1m1 0h1m7 0h1m5 0h1m3 0h1m3 0h1m2 0h4m1 0h4m1 0h1m2 0h1m1 0h3m1 0h2m1 0h1m2 0h1m1 0h1m1 0h1m1 0h1m3 0h1m8 0h1m2 0h2m2 0h1m146 0h4m4 0h5m7 0h1m2 0h1m5 0h3m6 0h1m9 0h2m1 0h1m6 0h4m1 0h2m3 0h1m241 0h3m8 0h1m1 0h1m56 0h2m1 0h5M393 323.5h3m43 0h1m6 0h1m1 0h2m7 0h3m6 0h1m1 0h1m2 0h1m9 0h1m1 0h1m3 0h8m7 0h1m7 0h1m1 0h1m1 0h3m1 0h1m1 0h4m146 0h1m2 0h1m1 0h3m2 0h1m3 0h1m12 0h1m15 0h1m3 0h2m3 0h1m6 0h3m3 0h1m1 0h1m264 0h1m1 0h1m2 0h1m46 0h1M395 324.5h3m40 0h1m7 0h1m3 0h1m1 0h1m2 0h4m3 0h1m5 0h1m3 0h3m1 0h2m6 0h3m1 0h6m1 0h1m5 0h2m7 0h5m2 0h4m1 0h1m147 0h1m2 0h1m3 0h2m1 0h2m4 0h1m7 0h3m1 0h1m1 0h1m16 0h1m4 0h1m3 0h1m2 0h3m3 0h2m264 0h1m2 0h2M394 325.5h1m1 0h3m25 0h1m19 0h3m5 0h1m1 0h2m1 0h2m9 0h5m1 0h6m2 0h1m1 0h1m2 0h2m2 0h1m1 0h1m1 0h1m1 0h1m2 0h1m1 0h1m2 0h3m3 0h2m1 0h1m5 0h2m148 0h5m1 0h1m3 0h1m1 0h2m8 0h1m1 0h2m3 0h1m8 0h1m6 0h1m5 0h1m5 0h4m1 0h6m264 0h2M394 326.5h1m1 0h1m1 0h2m28 0h1m2 0h2m4 0h1m7 0h1m1 0h3m1 0h3m1 0h2m1 0h1m2 0h3m6 0h2m3 0h1m1 0h3m1 0h3m1 0h1m2 0h3m1 0h2m1 0h1m3 0h2m2 0h1m2 0h1m2 0h2m4 0h2m1 0h2m149 0h1m4 0h2m1 0h1m2 0h2m6 0h1m7 0h5m19 0h2m3 0h3m1 0h3m1 0h3m1 0h1m1 0h1m260 0h1M395 327.5h3m36 0h2m5 0h2m2 0h1m1 0h1m3 0h1m1 0h1m2 0h2m2 0h1m2 0h1m5 0h4m1 0h1m1 0h4m1 0h2m6 0h2m1 0h2m1 0h1m1 0h1m4 0h2m3 0h1m1 0h1m2 0h5m1 0h2m150 0h1m1 0h1m5 0h1m3 0h4m7 0h1m1 0h1m2 0h1m11 0h1m5 0h1m2 0h2m5 0h1m3 0h2m2 0h1m1 0h2m6 0h1M395 328.5h1m1 0h4m28 0h2m6 0h2m2 0h2m13 0h1m2 0h1m3 0h1m4 0h2m1 0h1m4 0h1m3 0h1m1 0h2m5 0h3m9 0h1m4 0h1m1 0h2m6 0h2m152 0h1m7 0h1m5 0h2m2 0h1m2 0h2m4 0h5m11 0h1m8 0h2m3 0h1m1 0h1m1 0h1m1 0h3m5 0h1M396 329.5h1m2 0h1m30 0h2m4 0h2m3 0h1m2 0h1m1 0h1m5 0h3m3 0h2m1 0h1m6 0h1m6 0h2m3 0h2m3 0h1m1 0h1m1 0h3m1 0h2m1 0h2m1 0h1m6 0h1m1 0h1m1 0h2m1 0h5m152 0h2m3 0h1m1 0h2m1 0h2m3 0h1m5 0h1m5 0h1m1 0h1m2 0h1m1 0h1m3 0h1m14 0h1m5 0h1m5 0h4M396 330.5h2m1 0h2m33 0h1m1 0h1m3 0h2m2 0h3m10 0h2m1 0h1m1 0h2m2 0h1m1 0h1m9 0h1m1 0h1m1 0h1m4 0h2m8 0h1m5 0h1m6 0h3m1 0h2m1 0h1m155 0h1m3 0h2m3 0h3m8 0h5m4 0h1m21 0h2m7 0h3m2 0h2m1 0h2m312 0h1m1 0h1M398 331.5h3m36 0h1m1 0h1m1 0h1m1 0h2m1 0h1m4 0h1m4 0h3m7 0h1m1 0h1m13 0h1m3 0h3m15 0h1m2 0h5m1 0h2m1 0h1m155 0h1m2 0h1m10 0h1m8 0h2m3 0h1m2 0h2m12 0h1m7 0h2m4 0h5m1 0h2m286 0h1m2 0h1m26 0h3M397 332.5h2m40 0h2m2 0h5m3 0h1m5 0h1m2 0h2m4 0h1m3 0h1m11 0h2m12 0h1m10 0h1m1 0h2m3 0h1m161 0h1m6 0h1m1 0h1m2 0h1m1 0h1m3 0h1m5 0h2m17 0h1m6 0h2m1 0h3m2 0h1m2 0h3m3 0h1m284 0h2m24 0h3M398 333.5h1m36 0h1m4 0h2m1 0h3m1 0h1m3 0h1m6 0h1m1 0h2m2 0h1m4 0h1m8 0h1m3 0h2m17 0h1m6 0h1m1 0h5m164 0h1m2 0h1m2 0h1m7 0h1m34 0h4m1 0h3m1 0h8m279 0h1m4 0h1m6 0h1m17 0h2M398 334.5h1m35 0h1m5 0h1m1 0h1m2 0h4m13 0h1m10 0h1m2 0h1m1 0h1m6 0h2m12 0h1m7 0h2m2 0h3m166 0h1m2 0h1m5 0h1m4 0h8m1 0h1m7 0h1m18 0h1m1 0h1m2 0h8m34 0h1m243 0h1m14 0h1m17 0h3M399 335.5h2m35 0h1m4 0h1m2 0h3m1 0h1m3 0h1m1 0h1m1 0h3m2 0h1m7 0h2m8 0h1m11 0h3m2 0h1m1 0h1m3 0h1m6 0h4m156 0h1m12 0h2m2 0h1m2 0h1m1 0h1m3 0h2m1 0h2m2 0h1m11 0h1m3 0h1m9 0h7m1 0h4m1 0h2m34 0h1m244 0h2m5 0h4m1 0h1m1 0h2M399 336.5h1m2 0h1m2 0h2m37 0h1m5 0h1m5 0h5m7 0h2m1 0h1m1 0h1m1 0h1m1 0h1m5 0h2m4 0h1m2 0h2m1 0h2m7 0h1m4 0h2m1 0h1m156 0h1m7 0h1m3 0h2m3 0h1m1 0h2m3 0h1m1 0h1m2 0h1m2 0h2m2 0h1m2 0h2m2 0h1m5 0h1m8 0h10m2 0h2m33 0h4m246 0h1m5 0h2m4 0h1m16 0h1m1 0h3M400 337.5h1m3 0h2m1 0h1m37 0h1m5 0h2m6 0h2m4 0h1m2 0h3m2 0h2m1 0h4m5 0h1m6 0h1m1 0h2m4 0h1m2 0h1m4 0h1m1 0h3m163 0h1m5 0h1m2 0h1m2 0h1m1 0h2m9 0h1m3 0h1m6 0h1m2 0h1m2 0h2m6 0h1m1 0h1m2 0h4m1 0h3m34 0h2m248 0h1m3 0h1m3 0h1m3 0h1m18 0h2M401 338.5h2m1 0h2m1 0h1m37 0h1m3 0h6m3 0h3m2 0h3m3 0h2m1 0h4m1 0h3m1 0h1m2 0h1m1 0h1m5 0h1m6 0h1m8 0h1m2 0h1m172 0h1m2 0h1m1 0h1m7 0h1m7 0h1m4 0h1m6 0h1m8 0h1m1 0h5m4 0h1m36 0h1m1 0h1m248 0h1m5 0h1m21 0h1m2 0h2M402 339.5h3m5 0h2m1 0h1m37 0h4m1 0h1m2 0h8m3 0h1m2 0h2m1 0h3m3 0h1m1 0h6m4 0h1m1 0h3m1 0h1m4 0h1m2 0h1m164 0h1m5 0h1m5 0h1m1 0h2m1 0h3m35 0h2m1 0h2m2 0h1m37 0h3m252 0h4m3 0h1m17 0h1m2 0h3M404 340.5h4m1 0h1m1 0h2m43 0h1m3 0h6m1 0h1m1 0h4m1 0h2m2 0h2m1 0h11m2 0h2m2 0h2m8 0h1m2 0h1m168 0h1m5 0h2m2 0h1m39 0h6m35 0h2m3 0h2m275 0h5M405 341.5h5m2 0h2m41 0h1m2 0h6m1 0h3m1 0h5m2 0h1m3 0h1m1 0h15m1 0h2m8 0h2m1 0h1m175 0h1m41 0h2m1 0h3m1 0h1m34 0h1m1 0h1m255 0h3m1 0h1m24 0h1M407 342.5h6m40 0h3m1 0h1m2 0h6m2 0h2m1 0h4m1 0h3m1 0h2m2 0h3m1 0h10m10 0h1m1 0h2m217 0h2m2 0h2m296 0h1m24 0h3M410 343.5h1m49 0h10m3 0h2m1 0h1m1 0h21m4 0h1m3 0h1m2 0h2m217 0h1m3 0h2m42 0h1m277 0h6M458 344.5h11m1 0h5m2 0h1m1 0h1m1 0h1m1 0h7m1 0h11m7 0h1m1 0h1m219 0h1m2 0h1m42 0h1m280 0h1M457 345.5h1m2 0h2m1 0h2m2 0h9m2 0h20m1 0h4m2 0h1m1 0h1m2 0h2m262 0h1m281 0h1m1 0h1m1 0h1M460 346.5h4m1 0h1m3 0h5m1 0h3m2 0h1m1 0h17m2 0h3m552 0h6m2 0h2M456 347.5h1m2 0h4m2 0h2m1 0h5m1 0h3m1 0h10m2 0h4m2 0h5m1 0h1m1 0h1m3 0h2m252 0h2m4 0h2m286 0h5m2 0h3M461 348.5h2m1 0h3m3 0h1m2 0h3m2 0h3m2 0h3m2 0h9m1 0h4m3 0h4m1 0h1m256 0h1m289 0h8M437 349.5h1m2 0h1m6 0h1m15 0h3m2 0h14m1 0h1m1 0h4m2 0h1m3 0h2m2 0h2m1 0h2m1 0h3m1 0h1m252 0h3m295 0h2m2 0h3M442 350.5h1m1 0h1m2 0h1m18 0h4m1 0h1m1 0h1m1 0h3m1 0h1m1 0h3m1 0h2m2 0h3m2 0h1m2 0h4m1 0h2m1 0h6m260 0h1m287 0h3m2 0h1m1 0h1M442 351.5h1m5 0h1m11 0h2m1 0h1m5 0h2m1 0h2m2 0h8m1 0h7m1 0h17m251 0h1m2 0h1m5 0h1m294 0h1m1 0h1M460 352.5h1m1 0h2m1 0h2m3 0h1m2 0h13m1 0h5m1 0h15m1 0h2m251 0h1m5 0h1m296 0h3M452 353.5h1m6 0h4m1 0h1m2 0h2m1 0h2m1 0h5m1 0h7m3 0h1m1 0h11m1 0h3m1 0h3m254 0h1m299 0h2m2 0h2M437 354.5h1m10 0h1m10 0h3m1 0h7m2 0h12m1 0h1m1 0h1m1 0h1m1 0h13m1 0h5m252 0h1m303 0h1m1 0h2M459 355.5h3m1 0h2m1 0h1m1 0h4m1 0h14m4 0h1m1 0h16m252 0h2m1 0h1m302 0h3M446 356.5h1m12 0h8m2 0h26m1 0h12m255 0h1m1 0h4M440 357.5h1m3 0h2m3 0h1m8 0h1m2 0h13m3 0h4m2 0h1m1 0h2m1 0h1m2 0h5m1 0h1m1 0h2m1 0h6m257 0h1m1 0h2M442 358.5h1m2 0h1m8 0h1m4 0h1m2 0h1m2 0h1m4 0h3m2 0h15m1 0h16m258 0h1m1 0h2m2 0h1M448 359.5h1m12 0h3m1 0h2m1 0h1m1 0h3m1 0h12m1 0h1m4 0h7m1 0h4m1 0h1m255 0h9m1 0h1m301 0h2M447 360.5h1m3 0h1m7 0h5m1 0h4m1 0h5m2 0h7m4 0h1m1 0h3m1 0h1m1 0h10m258 0h3M449 361.5h1m1 0h1m7 0h5m1 0h5m3 0h3m2 0h5m1 0h2m1 0h3m2 0h2m1 0h11m258 0h1m1 0h3M444 362.5h1m13 0h1m1 0h15m1 0h1m1 0h4m1 0h2m1 0h3m1 0h2m3 0h2m1 0h6m257 0h1m5 0h1m307 0h1M441 363.5h1m3 0h1m13 0h14m3 0h6m1 0h5m1 0h1m2 0h1m1 0h2m1 0h1m1 0h5m264 0h2m306 0h1m3 0h1M441 364.5h1m18 0h13m1 0h1m1 0h2m2 0h1m1 0h3m1 0h15m1 0h1m214 0h1m48 0h1m310 0h1m1 0h1M436 365.5h1m1 0h2m19 0h2m1 0h12m1 0h2m1 0h3m1 0h2m1 0h3m1 0h2m1 0h5m213 0h1m7 0h1m40 0h2m2 0h1m2 0h3m1 0h1m310 0h1M432 366.5h1m9 0h2m3 0h1m12 0h11m2 0h2m1 0h2m4 0h6m5 0h1m223 0h1m1 0h1m40 0h2m1 0h2m1 0h2M437 367.5h1m4 0h1m16 0h2m6 0h5m1 0h4m5 0h3m2 0h1m2 0h1m272 0h1m3 0h2m312 0h1M438 368.5h1m15 0h1m1 0h1m1 0h6m2 0h4m1 0h1m1 0h9m1 0h2m226 0h1m1 0h1m6 0h1m7 0h2m33 0h1m2 0h1m315 0h2M433 369.5h1m2 0h1m13 0h2m1 0h6m1 0h8m2 0h1m2 0h3m1 0h6m227 0h1m1 0h1m3 0h1m1 0h2m3 0h1m3 0h4m30 0h1m1 0h1m2 0h1m315 0h3M449 370.5h2m2 0h5m2 0h1m2 0h4m4 0h1m2 0h2m1 0h5m1 0h1m230 0h3m2 0h2m7 0h1m33 0h1m319 0h1m1 0h2M439 371.5h2m10 0h15m2 0h1m4 0h1m2 0h6m223 0h1m5 0h2m1 0h1m4 0h1m6 0h4m37 0h1m315 0h1m1 0h1M440 372.5h1m1 0h1m6 0h6m1 0h7m2 0h4m7 0h5m226 0h1m2 0h1m1 0h1m6 0h1m1 0h2m2 0h3m355 0h1m1 0h1M432 373.5h1m7 0h1m4 0h1m3 0h19m7 0h1m1 0h5m223 0h2m1 0h1m2 0h2m1 0h1m11 0h1m356 0h1m1 0h1M440 374.5h1m4 0h1m3 0h18m1 0h1m6 0h1m1 0h5m221 0h1m1 0h2m7 0h1m1 0h2m365 0h1m1 0h1M445 375.5h1m3 0h9m1 0h6m1 0h2m9 0h3m1 0h2m223 0h1m2 0h3m1 0h2m1 0h1m367 0h1M443 376.5h2m3 0h1m1 0h2m1 0h5m1 0h3m1 0h6m5 0h1m2 0h6m228 0h4m6 0h1m361 0h2m2 0h1M433 377.5h1m14 0h10m1 0h1m1 0h2m1 0h1m2 0h2m9 0h2m1 0h2m222 0h1m10 0h1m2 0h1m364 0h1m2 0h2M436 378.5h3m4 0h1m4 0h1m1 0h2m3 0h2m1 0h3m1 0h4m5 0h1m6 0h4m229 0h1m13 0h2m354 0h1m1 0h6M439 379.5h1m3 0h1m4 0h2m1 0h2m2 0h1m2 0h6m1 0h5m3 0h2m4 0h4m230 0h3m6 0h1m1 0h2m360 0h2M435 380.5h1m1 0h1m2 0h1m7 0h2m4 0h8m1 0h1m2 0h1m1 0h4m7 0h4m233 0h1m2 0h1m4 0h2m357 0h1m2 0h1m1 0h1M433 381.5h2m1 0h3m2 0h1m7 0h2m2 0h12m1 0h6m4 0h1m2 0h2m224 0h1m6 0h1m5 0h1m3 0h3m358 0h2m1 0h2M432 382.5h1m3 0h1m1 0h2m10 0h1m1 0h1m1 0h5m1 0h6m1 0h3m1 0h4m1 0h1m2 0h3m227 0h1m2 0h1m1 0h4m1 0h1m2 0h2m358 0h2m1 0h3M433 383.5h2m14 0h6m1 0h2m1 0h1m2 0h2m2 0h7m1 0h1m1 0h1m2 0h2m234 0h2m1 0h1m363 0h5M438 384.5h1m11 0h2m2 0h3m1 0h2m2 0h3m1 0h2m1 0h5m3 0h1m231 0h1m4 0h2m2 0h2m363 0h2m1 0h2M452 385.5h1m1 0h2m2 0h3m2 0h12m1 0h3m238 0h1m2 0h1m361 0h6M439 386.5h1m1 0h2m2 0h1m6 0h9m1 0h10m3 0h3m232 0h1m3 0h2m366 0h1m1 0h4M438 387.5h9m5 0h4m1 0h2m3 0h4m1 0h5m1 0h3m233 0h3m1 0h1m4 0h1m362 0h5M436 388.5h12m6 0h5m1 0h8m1 0h7m233 0h1m2 0h4m1 0h2m363 0h2m1 0h1M435 389.5h12m1 0h2m1 0h1m1 0h7m1 0h1m1 0h9m1 0h2m234 0h3m2 0h1m1 0h1m363 0h1m1 0h4M414 390.5h1m20 0h16m1 0h5m1 0h6m1 0h1m1 0h1m2 0h3m237 0h1m3 0h1m363 0h2m1 0h5M435 391.5h31m1 0h6m605 0h3m1 0h4M435 392.5h22m1 0h2m1 0h5m1 0h4m1 0h1m606 0h4m1 0h1M434 393.5h3m1 0h17m1 0h4m1 0h7m1 0h1m608 0h6M433 394.5h22m1 0h2m1 0h12m604 0h1m1 0h7M416 395.5h2m15 0h21m2 0h3m1 0h1m1 0h2m1 0h5m605 0h8M415 396.5h1m16 0h22m1 0h6m3 0h6m605 0h5m1 0h1M433 397.5h7m1 0h17m1 0h1m2 0h1m1 0h2m2 0h1m505 0h1m97 0h2m2 0h4M433 398.5h22m1 0h2m2 0h1m2 0h4m605 0h3m4 0h1M434 399.5h20m4 0h4m2 0h1m606 0h3m1 0h2m1 0h1M413 400.5h1m19 0h12m1 0h9m5 0h2m2 0h1m604 0h4m2 0h2M413 401.5h2m18 0h12m1 0h10m613 0h3m1 0h1m1 0h1M412 402.5h2m19 0h12m1 0h1m2 0h7m1 0h1m611 0h1M414 403.5h1m19 0h24m607 0h6M413 404.5h1m19 0h1m1 0h23m590 0h2m13 0h2m1 0h2m2 0h3M435 405.5h8m1 0h1m2 0h8m1 0h2m591 0h1m2 0h1m9 0h2m1 0h5M434 406.5h3m1 0h7m1 0h12m590 0h1m1 0h2m1 0h2m4 0h3m1 0h1m1 0h2m1 0h2M435 407.5h1m2 0h19m595 0h2m2 0h2m2 0h1m1 0h1m2 0h1m1 0h3M435 408.5h3m1 0h17m593 0h6m1 0h1m2 0h2M440 409.5h15m596 0h1m1 0h1m5 0h1m1 0h3M441 410.5h13m601 0h2M442 411.5h10M441 412.5h5M1065 419.5h1M1065 420.5h4M1064 422.5h1m2 0h1M1065 423.5h1M1140 424.5h1M1069 425.5h1M1141 427.5h1"/>
<path fill="none" stroke="#70a800" stroke-width="1" shape-rendering="crispEdges" d="M803 90.5h1M726 91.5h1m106 0h2M725 94.5h1m106 0h1M842 96.5h1M794 97.5h1M787 98.5h1m11 0h1m39 0h1M793 99.5h1M795 100.5h1m158 0h1M835 101.5h1m8 0h1m49 0h1M726 102.5h1m93 0h1m136 0h1m1 0h1M866 104.5h1m30 0h1m19 0h1m90 0h1M922 105.5h1m101 0h1M952 106.5h1m65 0h1M714 107.5h1m85 0h1m14 0h1m196 0h1M834 108.5h1m58 0h1m108 0h1M816 109.5h1M996 110.5h1M815 111.5h2M812 112.5h2m51 0h1m99 0h1M814 113.5h1m142 0h1m1 0h1M872 114.5h1M965 117.5h2M949 119.5h1M279 120.5h1m1 0h1m614 0h1m117 0h1M281 121.5h1m638 0h1M280 122.5h1M910 123.5h2M907 124.5h1m1 0h4m1 0h1M907 125.5h6M905 126.5h1m1 0h1m2 0h2m2 0h1M906 127.5h2m1 0h4m2 0h1M906 128.5h1m2 0h6m1 0h1M909 129.5h4m4 0h1M911 130.5h2M912 131.5h1M974 132.5h2m1 0h1m1 0h1M973 133.5h4m2 0h1m1 0h1m5 0h1M942 134.5h3m24 0h2m6 0h1m1 0h1m3 0h1m71 0h1M936 135.5h1m3 0h1m2 0h2m2 0h2m19 0h1m3 0h1m6 0h8m1 0h1m31 0h2m32 0h3M940 136.5h5m1 0h1m19 0h1m1 0h2m4 0h1m3 0h1m1 0h2m6 0h1m31 0h1m34 0h1M937 137.5h1m5 0h3m22 0h1m1 0h3m3 0h1m1 0h1m4 0h1m1 0h2m7 0h1m2 0h1m9 0h1m6 0h2m1 0h1m36 0h2M927 138.5h3m2 0h1m8 0h1m1 0h2m1 0h1m11 0h1m18 0h1m8 0h1m2 0h1m21 0h1m6 0h1m35 0h1m2 0h1M927 139.5h3m33 0h1m1 0h1m4 0h2m1 0h2m11 0h2m6 0h1m6 0h1m9 0h1m46 0h1M897 140.5h1m4 0h1m26 0h1m1 0h1m32 0h3m3 0h3m1 0h3m2 0h2m1 0h1m5 0h1m7 0h1m2 0h1m9 0h3m3 0h3m36 0h1m3 0h1M899 141.5h1m3 0h1m2 0h1m2 0h1m11 0h1m1 0h1m3 0h1m1 0h1m31 0h1m5 0h2m6 0h1m2 0h1m3 0h1m3 0h1m26 0h1m2 0h2m36 0h1m1 0h3M901 142.5h1m23 0h1m2 0h3m28 0h1m6 0h1m1 0h1m6 0h1m3 0h1m2 0h2m4 0h1m24 0h1m2 0h1m37 0h4M895 143.5h1m3 0h1m2 0h1m1 0h1m4 0h1m7 0h1m4 0h1m2 0h1m2 0h1m32 0h1m4 0h3m2 0h6m6 0h2m1 0h2m1 0h1m20 0h1m1 0h4m40 0h2M897 144.5h4m1 0h1m1 0h1m6 0h2m2 0h1m1 0h1m4 0h3m30 0h1m7 0h1m5 0h4m2 0h4m2 0h1m1 0h1m1 0h2m1 0h2m15 0h3m1 0h7m40 0h1M904 145.5h1m6 0h1m8 0h1m1 0h1m2 0h2m27 0h1m12 0h1m1 0h1m1 0h2m2 0h4m2 0h3m1 0h4m17 0h1m2 0h2m1 0h5m38 0h3M911 146.5h1m9 0h2m46 0h1m4 0h1m4 0h2m1 0h1m4 0h2m15 0h1m1 0h1m1 0h2m1 0h5m39 0h1m2 0h2M958 147.5h1m6 0h2m9 0h1m3 0h1m3 0h2m17 0h2m1 0h8m45 0h1M952 148.5h1m51 0h1m2 0h2m1 0h2m1 0h1m43 0h1M274 149.5h1m3 0h1m1 0h1m5 0h1m673 0h1m46 0h1m1 0h2m45 0h1m1 0h1M957 150.5h1m52 0h1m44 0h2M272 151.5h2m1 0h1m779 0h1M268 152.5h1m1 0h1m784 0h1M264 153.5h1m5 0h2M267 154.5h8m3 0h1m482 0h1m1 0h1M263 155.5h2m1 0h1m1 0h7m4 0h1m481 0h1m2 0h3m1 0h1M264 156.5h1m1 0h3m2 0h3m1 0h2m6 0h1m478 0h3M264 157.5h1m2 0h8m3 0h1m483 0h1m2 0h1m2 0h2M264 158.5h1m2 0h6m1 0h2m490 0h2m1 0h1m104 0h1m6 0h2M270 159.5h5m492 0h1m1 0h1m96 0h1m3 0h2m5 0h1m2 0h1m1 0h1M261 160.5h1m1 0h1m5 0h3m2 0h1m11 0h1m481 0h2m53 0h1m30 0h5m11 0h1m11 0h5M263 161.5h2m5 0h1m498 0h1m84 0h1m1 0h1m2 0h2m1 0h2m3 0h3m1 0h2m8 0h1m1 0h1m1 0h1m3 0h2M271 162.5h1m500 0h1m55 0h1m27 0h1m3 0h1m12 0h2m6 0h4m1 0h5M277 163.5h1m10 0h1m482 0h1m1 0h1m48 0h1m5 0h1m3 0h1m1 0h3m17 0h1m7 0h1m7 0h3m5 0h2m2 0h1m1 0h4m1 0h1m4 0h2M262 164.5h1m16 0h1m8 0h1m5 0h1m476 0h1m1 0h1m34 0h1m1 0h1m11 0h1m5 0h1m1 0h5m2 0h1m32 0h1m6 0h1m1 0h1m3 0h1m1 0h2M278 165.5h2m11 0h1m513 0h7m11 0h2m4 0h10m44 0h1m1 0h1M278 166.5h2m8 0h1m515 0h8m10 0h2m7 0h3m1 0h1M271 167.5h1m4 0h1m2 0h3m2 0h1m8 0h2m1 0h2m504 0h11m9 0h1m1 0h1m1 0h2m1 0h2M267 168.5h1m12 0h3m1 0h1m8 0h1m2 0h1m472 0h1m1 0h2m29 0h11m11 0h1m3 0h1m1 0h1m1 0h1m42 0h1m1 0h1M263 169.5h1m5 0h1m7 0h1m6 0h1m3 0h1m5 0h1m2 0h2m317 0h1m53 0h1m99 0h3m30 0h3m1 0h1m1 0h4m15 0h3m1 0h1m2 0h2m33 0h2m3 0h1m2 0h1M263 170.5h2m4 0h1m11 0h1m17 0h1m311 0h1m1 0h1m2 0h3m53 0h1m96 0h2m2 0h1m29 0h3m1 0h3m20 0h1m1 0h1m3 0h2m1 0h1m6 0h1m21 0h1m1 0h2m3 0h1M264 171.5h2m344 0h2m1 0h2m1 0h4m2 0h2m45 0h2m4 0h1m96 0h1m32 0h1m1 0h1m17 0h3m1 0h1m5 0h1m1 0h2m1 0h1m8 0h1m5 0h1m14 0h1m2 0h4M279 172.5h1m16 0h1m2 0h1m308 0h5m2 0h1m1 0h2m3 0h5m48 0h1m92 0h1m1 0h1m1 0h1m53 0h2m4 0h2m1 0h5m1 0h1m9 0h1m6 0h2m9 0h1m3 0h1m4 0h2m72 0h1M276 173.5h1m327 0h2m1 0h7m1 0h2m3 0h1m2 0h4m1 0h1m41 0h1m2 0h1m96 0h1m57 0h1m1 0h4m2 0h6m19 0h1m5 0h1m1 0h1m6 0h1m2 0h1m69 0h6M297 174.5h1m307 0h4m1 0h1m2 0h4m1 0h1m1 0h4m1 0h5m26 0h2m15 0h1m155 0h4m1 0h5m1 0h2m14 0h2m4 0h2m2 0h3m1 0h1m1 0h1m75 0h8M297 175.5h1m2 0h1m301 0h1m1 0h19m1 0h6m24 0h2m1 0h1m16 0h1m3 0h1m17 0h1m23 0h6m2 0h1m43 0h1m56 0h5m1 0h4m1 0h1m1 0h1m14 0h1m1 0h2m8 0h3m76 0h5M269 176.5h1m25 0h1m2 0h1m1 0h3m300 0h6m1 0h7m1 0h2m1 0h2m4 0h2m26 0h2m19 0h1m1 0h1m14 0h1m25 0h4m3 0h6m40 0h5m53 0h5m1 0h2m2 0h2m2 0h1m9 0h1m1 0h1m2 0h1m2 0h3m3 0h1m2 0h1m2 0h1M262 177.5h2m13 0h1m17 0h1m306 0h6m2 0h18m26 0h4m19 0h2m16 0h1m23 0h3m1 0h5m1 0h1m1 0h2m39 0h1m3 0h1m53 0h5m2 0h1m4 0h2m7 0h1m3 0h2m3 0h1m3 0h1m5 0h2M262 178.5h1m1 0h2m5 0h1m5 0h2m23 0h1m20 0h1m1 0h1m276 0h5m1 0h12m1 0h8m25 0h4m19 0h1m17 0h1m24 0h1m2 0h2m1 0h2m1 0h4m39 0h1m29 0h1m29 0h4m7 0h1m8 0h2m5 0h2m6 0h1m3 0h1m1 0h1M262 179.5h4m44 0h1m9 0h4m278 0h2m1 0h2m1 0h4m1 0h14m27 0h2m38 0h1m1 0h1m22 0h2m1 0h1m1 0h8m1 0h1m38 0h1m24 0h1m2 0h2m1 0h1m27 0h1m12 0h1m7 0h1m16 0h2m1 0h3m72 0h1m1 0h1m25 0h3M263 180.5h4m9 0h1m17 0h1m2 0h1m12 0h1m9 0h1m1 0h1m2 0h1m1 0h1m274 0h2m1 0h18m1 0h5m66 0h1m1 0h1m21 0h1m2 0h2m1 0h3m1 0h1m1 0h3m66 0h2m1 0h1m1 0h1m3 0h2m1 0h1m18 0h1m1 0h1m34 0h3m74 0h3m1 0h1m21 0h8M262 181.5h4m7 0h1m9 0h1m13 0h1m8 0h1m15 0h7m273 0h25m93 0h3m3 0h8m9 0h1m1 0h1m3 0h1m2 0h1m2 0h2m5 0h1m35 0h2m1 0h1m1 0h4m3 0h1m1 0h2m4 0h1m11 0h2m1 0h2m1 0h2m29 0h2m76 0h4m23 0h7M262 182.5h6m41 0h1m2 0h1m6 0h3m1 0h2m1 0h2m1 0h1m272 0h23m43 0h1m1 0h2m50 0h3m1 0h1m1 0h7m5 0h1m1 0h12m2 0h2m1 0h1m2 0h1m2 0h2m18 0h1m13 0h1m10 0h1m2 0h1m2 0h1m1 0h1m9 0h7m113 0h1m21 0h9M262 183.5h6m8 0h1m23 0h1m17 0h4m1 0h7m273 0h10m2 0h1m1 0h6m1 0h1m43 0h5m1 0h1m22 0h1m24 0h7m1 0h2m9 0h6m1 0h3m1 0h2m1 0h1m1 0h1m3 0h2m2 0h3m27 0h2m3 0h2m4 0h1m11 0h1m7 0h2m5 0h1m111 0h2m23 0h9M263 184.5h6m18 0h1m33 0h5m278 0h11m2 0h8m44 0h4m24 0h1m24 0h1m1 0h3m1 0h3m8 0h8m1 0h8m2 0h1m2 0h2m2 0h2m4 0h1m23 0h1m10 0h1m1 0h1m1 0h1m2 0h1m3 0h1m1 0h2m6 0h1m1 0h5m1 0h1m1 0h1m108 0h1m22 0h10M263 185.5h4m1 0h2m6 0h1m41 0h1m1 0h1m3 0h1m2 0h1m1 0h1m279 0h4m1 0h1m1 0h1m1 0h4m26 0h3m3 0h1m2 0h2m1 0h1m11 0h1m51 0h2m14 0h14m1 0h1m1 0h5m2 0h5m3 0h1m7 0h1m3 0h2m39 0h1m1 0h5m2 0h1m1 0h2m131 0h8M264 186.5h1m3 0h1m9 0h1m18 0h1m1 0h1m5 0h1m13 0h3m3 0h3m1 0h1m281 0h2m20 0h13m1 0h2m2 0h2m1 0h1m1 0h1m1 0h1m80 0h3m1 0h19m5 0h2m2 0h2m3 0h1m19 0h1m10 0h1m19 0h1m3 0h1m3 0h1m1 0h2m129 0h3m1 0h5M264 187.5h6m27 0h2m20 0h1m4 0h3m1 0h2m281 0h1m19 0h2m2 0h17m1 0h2m1 0h2m1 0h2m78 0h32m12 0h1m25 0h1m17 0h1m2 0h1m1 0h2m1 0h1m1 0h1m129 0h8M265 188.5h2m1 0h4m16 0h1m8 0h2m23 0h3m2 0h2m1 0h1m298 0h6m1 0h5m1 0h10m1 0h3m1 0h1m1 0h1m79 0h16m1 0h3m1 0h2m1 0h2m1 0h4m18 0h1m23 0h1m15 0h2m2 0h3m1 0h1m1 0h1m128 0h1m1 0h5M266 189.5h7m17 0h1m3 0h1m2 0h2m14 0h1m6 0h3m1 0h1m3 0h1m297 0h1m2 0h3m1 0h5m2 0h8m4 0h2m1 0h1m1 0h1m1 0h2m78 0h1m1 0h10m1 0h2m2 0h4m1 0h10m12 0h1m44 0h1m2 0h1m1 0h2m2 0h2m128 0h2m2 0h1M268 190.5h3m1 0h1m24 0h1m21 0h4m1 0h3m2 0h2m285 0h3m1 0h1m3 0h3m1 0h3m2 0h7m5 0h2m4 0h9m78 0h1m1 0h1m2 0h3m3 0h1m2 0h1m1 0h1m1 0h2m2 0h4m1 0h7m58 0h1m4 0h1m131 0h3m1 0h1M268 191.5h2m2 0h1m40 0h1m5 0h1m1 0h1m2 0h1m1 0h1m1 0h4m281 0h5m4 0h1m2 0h2m2 0h2m1 0h2m2 0h1m16 0h2m1 0h4m78 0h4m1 0h2m11 0h1m3 0h2m4 0h2m1 0h3m5 0h1m4 0h3m5 0h1m11 0h1m9 0h1m22 0h1m131 0h2M269 192.5h2m25 0h1m22 0h1m3 0h1m2 0h1m2 0h2m279 0h19m24 0h6m78 0h7m13 0h2m2 0h1m4 0h1m2 0h2m5 0h2m4 0h1m3 0h1m2 0h1m8 0h1m3 0h1m6 0h1M272 193.5h1m19 0h1m1 0h3m26 0h1m2 0h2m1 0h2m279 0h6m1 0h1m1 0h3m1 0h1m1 0h1m2 0h1m24 0h6m78 0h2m1 0h3m15 0h2m1 0h2m18 0h2m2 0h1m10 0h1m2 0h1m1 0h1m2 0h1m2 0h1m1 0h1M327 194.5h4m278 0h13m35 0h2m77 0h3m2 0h2m16 0h1m17 0h2m7 0h1m6 0h1m2 0h2m4 0h4m16 0h1M298 195.5h1m12 0h2m9 0h1m4 0h1m1 0h2m275 0h6m1 0h2m2 0h2m3 0h1m36 0h2m74 0h2m2 0h3m16 0h2m2 0h2m22 0h1m3 0h1m32 0h1M292 196.5h2m16 0h1m8 0h2m1 0h1m1 0h7m274 0h7m1 0h5m42 0h2m73 0h3m1 0h1m1 0h1m18 0h3m24 0h1m13 0h2m19 0h1M297 197.5h1m22 0h3m1 0h3m275 0h13m1 0h1m43 0h2m2 0h3m69 0h1m2 0h1m1 0h1m19 0h1m2 0h1m17 0h1m16 0h1m14 0h1m31 0h1M297 198.5h2m7 0h1m2 0h1m11 0h6m3 0h1m270 0h11m51 0h3m1 0h2m24 0h3m39 0h2m1 0h1m22 0h1m1 0h3m10 0h2m12 0h1m18 0h1m11 0h2m3 0h1m19 0h2M303 199.5h1m2 0h1m2 0h1m10 0h2m1 0h4m2 0h1m272 0h5m1 0h1m1 0h2m52 0h1m1 0h2m1 0h1m2 0h1m17 0h1m1 0h4m1 0h2m36 0h3m1 0h1m22 0h5m8 0h4m6 0h1m4 0h1m1 0h1m24 0h1m27 0h3M322 200.5h9m270 0h9m1 0h1m54 0h2m1 0h1m2 0h1m17 0h4m1 0h6m61 0h1m2 0h2m22 0h1m3 0h1m49 0h5M323 201.5h1m1 0h5m271 0h9m59 0h3m17 0h1m1 0h1m2 0h1m1 0h6m62 0h4m21 0h1m2 0h1m7 0h1m11 0h1m29 0h9M326 202.5h3m273 0h7m84 0h4m1 0h4m17 0h7m38 0h5m24 0h2m7 0h1m11 0h2m2 0h1m22 0h7m1 0h4M601 203.5h1m3 0h3m87 0h1m3 0h1m19 0h7m38 0h5m19 0h1m20 0h1m1 0h1m30 0h13M600 204.5h1m3 0h2m113 0h8m40 0h1m1 0h1m19 0h2m3 0h1m47 0h13M604 205.5h2m115 0h4m66 0h1m33 0h1m16 0h14M333 206.5h1m267 0h2m118 0h2m65 0h1m6 0h1m14 0h1m2 0h1m27 0h16M330 207.5h3m1 0h1m267 0h1m187 0h1m1 0h1m15 0h1m2 0h1m4 0h2m4 0h1m12 0h1m4 0h5m1 0h12M329 208.5h8m387 0h1m32 0h1m52 0h1m1 0h2m2 0h1m2 0h1m2 0h1m6 0h1m2 0h2m3 0h1m2 0h5m1 0h14M329 209.5h8m386 0h1m86 0h1m3 0h1m19 0h16m1 0h9M329 210.5h3m2 0h1m1 0h1m250 0h1m135 0h1m93 0h1m1 0h1m5 0h1m2 0h1m3 0h2m3 0h1m1 0h23M329 211.5h4m1 0h4m386 0h1m38 0h1m33 0h1m36 0h3m2 0h24M330 212.5h6m1 0h1m385 0h3m105 0h3m1 0h25m1 0h3M298 213.5h1m30 0h1m1 0h1m1 0h4m386 0h2m82 0h1m5 0h1m5 0h1m1 0h1m9 0h1m1 0h1m1 0h2m1 0h11m1 0h3m1 0h11m2 0h1M299 214.5h1m30 0h1m1 0h6m385 0h1m107 0h1m1 0h3m2 0h10m1 0h1m1 0h2m1 0h15M330 215.5h8m387 0h2m91 0h1m12 0h1m1 0h2m1 0h33m1 0h1M329 216.5h3m1 0h1m1 0h3m387 0h1m92 0h1m12 0h1m1 0h22m1 0h17M301 217.5h1m27 0h1m2 0h2m393 0h1m41 0h1m51 0h1m12 0h2m1 0h14m3 0h1m1 0h17m1 0h1M329 218.5h7m502 0h12m3 0h2m1 0h4m1 0h17M328 219.5h4m1 0h1m1 0h2m390 0h1m22 0h1m84 0h1m1 0h44M329 220.5h3m2 0h3m390 0h2m25 0h1m11 0h1m69 0h21m1 0h9m1 0h18M329 221.5h7m390 0h1m1 0h1m105 0h16m1 0h3m2 0h1m1 0h30M329 222.5h3m1 0h2m1 0h1m497 0h2m1 0h47m1 0h2M329 223.5h5m419 0h1m79 0h1m2 0h10m1 0h2m1 0h5m1 0h10m1 0h4m3 0h1m4 0h1m5 0h2M312 224.5h1m16 0h4m1 0h1m498 0h1m2 0h17m2 0h11M311 225.5h2m1 0h1m15 0h4m1 0h1m499 0h1m1 0h16m1 0h11M312 226.5h4m1 0h1m11 0h7m414 0h1m25 0h1m60 0h16m1 0h11M312 227.5h4m14 0h6m440 0h1m62 0h22m1 0h1M312 228.5h4m14 0h5m416 0h1m7 0h1m77 0h3m1 0h20m52 0h4M312 229.5h1m3 0h6m1 0h1m5 0h2m1 0h2m416 0h1m4 0h1m3 0h2m10 0h1m66 0h14m1 0h7m54 0h4M315 230.5h2m2 0h2m1 0h3m2 0h1m5 0h2m433 0h2m68 0h11m1 0h9m53 0h6M313 231.5h2m1 0h2m1 0h1m3 0h1m3 0h1m511 0h20m53 0h2m2 0h2M313 232.5h2m1 0h2m3 0h3m6 0h1m1 0h1m507 0h6m1 0h12m53 0h5M313 233.5h3m8 0h2m2 0h2m29 0h1m414 0h2m66 0h1m4 0h4m1 0h7m53 0h5M315 234.5h1m1 0h1m5 0h1m3 0h2m1 0h1m1 0h1m427 0h1m13 0h1m72 0h13m52 0h6M315 235.5h1m1 0h1m11 0h1m1 0h4m23 0h3m394 0h1m15 0h2m75 0h1m3 0h9m52 0h4M329 236.5h1m2 0h1m2 0h1m23 0h2m408 0h1m81 0h2m1 0h1m1 0h3m1 0h1m52 0h4M325 237.5h1m1 0h1m3 0h2m2 0h1m24 0h1m49 0h1m4 0h1m436 0h2m1 0h7m51 0h2M319 238.5h1m2 0h2m2 0h1m4 0h3m1 0h1m74 0h3m1 0h2m339 0h1m15 0h1m2 0h2m78 0h7m1 0h2m52 0h2M329 239.5h2m1 0h1m1 0h2m76 0h2m7 0h1m334 0h1m14 0h1m78 0h14m49 0h1m1 0h2M329 240.5h1m2 0h1m2 0h1m3 0h1m76 0h1m4 0h1m333 0h1m94 0h3m2 0h10m48 0h1M332 241.5h1m88 0h1m342 0h1m1 0h2m83 0h4m1 0h10M334 242.5h1m1 0h1m3 0h1m424 0h1m7 0h1m77 0h4m1 0h13M332 243.5h1m423 0h2m6 0h1m1 0h2m85 0h2m1 0h8m1 0h5M336 244.5h1m427 0h1m1 0h1m85 0h3m1 0h16M334 245.5h1m3 0h1m1 0h1m418 0h1m11 0h1m81 0h1m1 0h17M338 246.5h1m247 0h1m174 0h1m1 0h1m3 0h1m85 0h1m1 0h7m1 0h9M338 247.5h1m243 0h5m4 0h1m147 0h1m3 0h4m13 0h1m6 0h1m86 0h8m1 0h10M581 248.5h1m2 0h2m2 0h1m140 0h1m6 0h1m7 0h3m12 0h1m1 0h1m6 0h1m85 0h18m56 0h1M579 249.5h8m2 0h1m1 0h2m1 0h2m4 0h7m117 0h7m6 0h1m3 0h1m2 0h4m11 0h1m1 0h3m89 0h18m63 0h2M578 250.5h6m2 0h1m3 0h1m1 0h2m1 0h2m1 0h1m1 0h4m1 0h1m4 0h1m4 0h1m107 0h6m1 0h3m6 0h1m2 0h7m11 0h4m2 0h1m88 0h12m1 0h2m65 0h2M577 251.5h1m2 0h1m2 0h1m4 0h7m1 0h10m2 0h2m2 0h2m1 0h1m8 0h2m14 0h1m5 0h1m2 0h1m67 0h1m4 0h1m1 0h11m1 0h1m1 0h1m3 0h1m1 0h5m12 0h1m1 0h1m90 0h11m1 0h1m1 0h1m60 0h2m5 0h1M577 252.5h2m1 0h4m1 0h1m1 0h1m1 0h3m3 0h17m2 0h3m1 0h1m2 0h2m1 0h4m3 0h1m2 0h3m1 0h10m1 0h2m1 0h4m55 0h3m1 0h1m5 0h1m2 0h2m2 0h3m1 0h2m1 0h1m2 0h1m4 0h1m1 0h1m2 0h1m13 0h2m2 0h1m87 0h12m1 0h2m59 0h2m5 0h1M578 253.5h2m1 0h1m5 0h1m1 0h8m1 0h7m2 0h1m1 0h3m2 0h1m1 0h1m2 0h3m1 0h5m4 0h1m2 0h12m1 0h2m1 0h5m51 0h3m3 0h1m1 0h1m6 0h3m1 0h5m2 0h1m2 0h3m3 0h3m1 0h3m105 0h11m1 0h4M578 254.5h2m1 0h1m2 0h2m1 0h1m2 0h17m1 0h4m1 0h1m2 0h1m2 0h3m3 0h3m5 0h14m2 0h6m2 0h1m1 0h1m38 0h1m1 0h2m1 0h2m1 0h1m2 0h2m2 0h2m4 0h9m1 0h10m1 0h2m2 0h2m2 0h1m105 0h9m3 0h4m59 0h2M579 255.5h1m5 0h3m1 0h10m2 0h9m2 0h2m1 0h1m1 0h5m3 0h3m4 0h14m1 0h11m2 0h3m3 0h2m2 0h1m2 0h1m19 0h5m1 0h5m2 0h1m6 0h7m3 0h1m2 0h2m2 0h4m1 0h6m2 0h1m4 0h1m106 0h8m2 0h4m59 0h2M580 256.5h1m1 0h2m3 0h1m2 0h2m2 0h16m2 0h5m4 0h1m1 0h8m1 0h7m1 0h5m1 0h19m2 0h8m5 0h2m2 0h2m1 0h1m1 0h1m2 0h9m1 0h4m1 0h1m3 0h7m1 0h2m1 0h2m1 0h4m2 0h7m3 0h1m5 0h1m108 0h1m1 0h5m2 0h3M584 257.5h2m1 0h5m1 0h2m2 0h13m1 0h5m1 0h2m1 0h2m1 0h1m2 0h2m1 0h2m1 0h18m1 0h19m1 0h3m2 0h1m2 0h1m1 0h1m1 0h3m1 0h3m2 0h5m1 0h1m3 0h2m3 0h2m6 0h3m2 0h2m3 0h17m113 0h9m1 0h3M585 258.5h1m5 0h1m1 0h2m3 0h7m2 0h7m1 0h1m1 0h1m2 0h1m2 0h2m1 0h1m2 0h2m2 0h17m1 0h23m1 0h2m1 0h2m2 0h2m1 0h1m1 0h5m2 0h1m1 0h1m1 0h1m3 0h1m2 0h1m1 0h2m1 0h1m1 0h3m2 0h7m2 0h5m1 0h1m1 0h7m7 0h1m108 0h11M600 259.5h3m1 0h2m5 0h4m6 0h1m2 0h1m2 0h1m1 0h45m1 0h1m1 0h3m3 0h1m2 0h2m4 0h3m2 0h2m2 0h1m1 0h3m4 0h1m2 0h4m1 0h1m1 0h9m1 0h1m1 0h2m1 0h4m1 0h1m116 0h10M604 260.5h2m4 0h1m2 0h1m1 0h1m9 0h2m2 0h10m1 0h6m1 0h29m1 0h3m2 0h1m4 0h1m1 0h4m4 0h1m3 0h1m2 0h3m2 0h3m2 0h3m1 0h1m1 0h8m2 0h3m1 0h4m1 0h2m3 0h1m2 0h1m110 0h10M411 261.5h1m2 0h1m5 0h1m196 0h2m8 0h1m2 0h1m1 0h49m1 0h1m1 0h2m3 0h1m1 0h2m9 0h1m3 0h1m3 0h3m1 0h3m6 0h11m1 0h1m1 0h3m4 0h2m112 0h9M411 262.5h1m7 0h2m1 0h1m205 0h1m2 0h42m1 0h8m2 0h5m3 0h1m9 0h1m6 0h1m1 0h2m2 0h3m3 0h1m3 0h2m1 0h2m1 0h2m2 0h1m1 0h1m5 0h3m112 0h8M414 263.5h2m7 0h1m209 0h1m2 0h43m2 0h1m2 0h3m1 0h3m2 0h1m11 0h4m1 0h2m1 0h1m1 0h4m4 0h2m1 0h3m1 0h1m1 0h1m2 0h1m4 0h1m1 0h3m113 0h8M415 264.5h1m3 0h1m1 0h2m6 0h1m208 0h7m1 0h34m4 0h1m1 0h1m1 0h2m1 0h5m1 0h2m4 0h1m1 0h3m1 0h5m7 0h1m1 0h4m1 0h3m3 0h1m6 0h1m2 0h1m114 0h2m1 0h4M423 265.5h2m3 0h1m2 0h1m4 0h2m2 0h1m197 0h1m1 0h1m4 0h2m2 0h30m1 0h1m2 0h2m1 0h10m13 0h1m2 0h1m1 0h2m2 0h1m2 0h1m1 0h2m1 0h4m9 0h3m2 0h1m10 0h1m1 0h1m101 0h7M409 266.5h1m3 0h1m3 0h3m9 0h1m6 0h1m2 0h1m205 0h1m3 0h3m1 0h26m5 0h2m1 0h3m1 0h2m1 0h1m1 0h3m5 0h2m3 0h2m1 0h1m1 0h2m24 0h1m11 0h1m3 0h2m102 0h5M418 267.5h2m9 0h1m1 0h1m1 0h1m5 0h1m213 0h27m3 0h10m10 0h1m5 0h2m1 0h2m2 0h1m34 0h1m1 0h1m3 0h1m102 0h3m1 0h1M414 268.5h1m14 0h2m4 0h1m3 0h1m222 0h1m1 0h3m1 0h2m4 0h3m1 0h1m1 0h12m20 0h2m39 0h3m105 0h2M432 269.5h1m2 0h1m2 0h2m229 0h2m1 0h1m1 0h3m1 0h1m1 0h5m35 0h1M417 270.5h1m10 0h1m1 0h2m242 0h1m2 0h2m38 0h2M420 271.5h1m10 0h1m282 0h1m1 0h2m1 0h2m1 0h1M715 272.5h3m3 0h1M716 273.5h1m58 0h1M717 274.5h1m54 0h3M772 275.5h2M770 276.5h2m1 0h1M769 277.5h2m2 0h2M768 278.5h6M765 279.5h7M765 280.5h5M765 281.5h6M763 282.5h3m3 0h2M767 283.5h1M760 284.5h3m3 0h1M760 285.5h1m1 0h5M757 286.5h4m1 0h2m1 0h1M755 287.5h1m6 0h1m1 0h2M761 288.5h2M756 289.5h6M758 290.5h1m1 0h3M761 291.5h1M757 292.5h1M742 295.5h1M740 296.5h5M740 297.5h4M741 298.5h3m1 0h1M741 299.5h2M389 300.5h1m350 0h5M742 301.5h3M388 302.5h3m351 0h2M389 303.5h1m342 0h2M390 304.5h1m333 0h1m4 0h2m3 0h1M388 305.5h1m334 0h5m1 0h2m2 0h1m13 0h1M388 306.5h1m334 0h1m1 0h2m1 0h5m1 0h1m13 0h1M729 307.5h4m1 0h4M729 308.5h1m1 0h8M387 309.5h1m1 0h1m1 0h1m116 0h1m216 0h2m3 0h1m1 0h1m1 0h1m1 0h5M386 310.5h6m113 0h1m3 0h1m220 0h1m1 0h5m2 0h1M387 311.5h5m114 0h1m219 0h1m1 0h2m1 0h8m2 0h1M389 312.5h3m105 0h2m11 0h1m2 0h1m212 0h1m2 0h3m2 0h5M500 313.5h1m1 0h1m2 0h3m2 0h1m219 0h1m4 0h1m2 0h2m1 0h3M388 314.5h5m109 0h1m4 0h1m1 0h2m1 0h1m1 0h1m219 0h1m3 0h2m2 0h2m2 0h1M388 315.5h4m109 0h1m3 0h1m3 0h2m4 0h1m153 0h1m1 0h1m65 0h2m2 0h2M390 316.5h1m1 0h1m112 0h5m11 0h2m148 0h1m66 0h2m2 0h1M390 317.5h1m115 0h1m1 0h2m1 0h3m7 0h1m149 0h1M391 318.5h1m111 0h1m1 0h2m2 0h3m233 0h2M392 319.5h2m112 0h3m3 0h1m8 0h1m148 0h1m74 0h1M505 320.5h1m9 0h2m151 0h5M505 321.5h2m6 0h1m155 0h1m75 0h2M505 322.5h1m3 0h3m1 0h2m2 0h1m3 0h2m145 0h2m76 0h1M503 323.5h5m1 0h1m1 0h1m1 0h1m3 0h1m1 0h1m151 0h1m73 0h2M505 324.5h1m3 0h1m5 0h2m4 0h1m225 0h1M504 325.5h1m3 0h2m6 0h4m149 0h1m75 0h2M505 326.5h1m1 0h1m3 0h4m2 0h1m2 0h1m150 0h2m73 0h2M510 327.5h1m6 0h1m227 0h1M503 328.5h2m5 0h1m4 0h1m2 0h1M502 329.5h2M509 330.5h1m3 0h1M515 331.5h1M506 332.5h1m5 0h1m2 0h1M502 333.5h3m1 0h1m2 0h1M501 334.5h1m2 0h1m1 0h1m2 0h2M499 335.5h1m1 0h1m1 0h1m1 0h1m1 0h2M499 336.5h1m1 0h3m7 0h1M501 337.5h2m3 0h1m2 0h1M497 338.5h1m2 0h1m2 0h1m2 0h2m1 0h1M502 339.5h1m7 0h1M500 340.5h1m1 0h4m1 0h1m1 0h1m501 0h1m6 0h1M501 341.5h3m1 0h1m173 0h1m2 0h1m328 0h1M504 342.5h2m162 0h1m12 0h2m1 0h1m342 0h1m1 0h1M681 343.5h2m2 0h1m316 0h1m7 0h1m5 0h1M1009 344.5h1m3 0h1M679 345.5h1m3 0h1m1 0h1m3 0h2m27 0h1m294 0h1m22 0h1m5 0h1M441 346.5h1m229 0h1m3 0h1m9 0h2m1 0h1m1 0h1m3 0h1m3 0h1m17 0h1m2 0h1m286 0h1m5 0h1m14 0h1m7 0h2M437 347.5h1m4 0h2m225 0h2m1 0h1m6 0h1m7 0h1m1 0h1m3 0h3m18 0h3m2 0h1m307 0h2m6 0h2m3 0h1M438 348.5h1m3 0h1m234 0h2m8 0h1m1 0h1m10 0h2m11 0h1m2 0h2m1 0h2m1 0h1m2 0h2m315 0h1M441 349.5h1m4 0h1m224 0h1m4 0h1m2 0h1m8 0h2m8 0h1m1 0h3m8 0h1m4 0h1m2 0h2m4 0h1m282 0h1m16 0h1m7 0h1M445 350.5h1m3 0h1m238 0h1m9 0h1m2 0h2m13 0h1m2 0h2m3 0h1m2 0h1m286 0h1M439 351.5h1m4 0h1m1 0h2m1 0h2m229 0h1m4 0h2m1 0h1m1 0h3m1 0h1m1 0h1m16 0h2m4 0h2m6 0h1m296 0h1m10 0h1M441 352.5h1m1 0h1m2 0h1m5 0h1m238 0h2m25 0h1m1 0h1m1 0h1m1 0h1m1 0h2m306 0h1M438 353.5h1m2 0h2m1 0h7m2 0h1m224 0h1m5 0h2m2 0h2m2 0h1m23 0h1m3 0h1m3 0h4M438 354.5h1m2 0h4m2 0h1m1 0h2m1 0h3m221 0h4m3 0h3m38 0h1M439 355.5h2m2 0h2m1 0h1m1 0h7m221 0h2m34 0h1m4 0h1m1 0h2M439 356.5h3m3 0h1m1 0h9m261 0h1m3 0h2m1 0h2m341 0h3M441 357.5h2m3 0h3m1 0h2m1 0h2m227 0h1m383 0h7M444 358.5h1m1 0h1m1 0h5m265 0h1m2 0h1m344 0h8M442 359.5h5m2 0h5m613 0h6M442 360.5h1m1 0h2m2 0h3m614 0h2m1 0h5m1 0h2M444 361.5h3m1 0h1m1 0h1m1 0h1m613 0h10M443 362.5h1m1 0h6m1 0h1m310 0h1m302 0h2m1 0h2m1 0h2M438 363.5h1m8 0h2m1 0h1m312 0h1M440 364.5h1m1 0h1m1 0h1m1 0h4m1 0h1m308 0h1m4 0h1m299 0h1m5 0h1m1 0h2m3 0h1M434 365.5h1m9 0h1m5 0h1m262 0h1m1 0h1m48 0h1m302 0h1m1 0h1m1 0h1m5 0h3M434 366.5h1m11 0h1m2 0h2m267 0h1m2 0h1m40 0h1m2 0h1m300 0h2m2 0h3m1 0h5M443 367.5h1m1 0h2m2 0h1m266 0h1m2 0h2m40 0h2m303 0h1m1 0h1m2 0h1m1 0h2m1 0h5M445 368.5h2m257 0h1m10 0h3m1 0h1m1 0h2m38 0h2m305 0h1m7 0h6M435 369.5h1m1 0h1m3 0h1m263 0h1m3 0h1m10 0h3m39 0h1m303 0h1m1 0h1m7 0h6M710 370.5h1m1 0h1m5 0h1m4 0h3m37 0h3m299 0h2m1 0h3m1 0h2m3 0h5M707 371.5h3m5 0h1m4 0h6m36 0h2m302 0h1m1 0h3m6 0h1m1 0h4m1 0h1M439 372.5h1m268 0h1m2 0h1m2 0h4m2 0h1m344 0h1m1 0h1m2 0h2m3 0h8M439 373.5h1m270 0h1m2 0h1m2 0h2m1 0h3m346 0h1m6 0h3m1 0h1m1 0h2m1 0h1M433 374.5h1m2 0h2m271 0h1m1 0h1m1 0h1m8 0h3m350 0h1m2 0h1m1 0h3M434 375.5h1m272 0h2m10 0h2m3 0h1m341 0h1m8 0h2m1 0h6m1 0h2M432 376.5h1m269 0h1m3 0h1m1 0h1m1 0h1m7 0h3m3 0h1m341 0h1m2 0h1m3 0h1m1 0h1m2 0h2m2 0h1M436 377.5h1m1 0h1m264 0h1m2 0h1m6 0h2m5 0h2m344 0h1m3 0h1m2 0h2m1 0h1m3 0h1m1 0h2M435 378.5h1m267 0h2m3 0h2m2 0h2m6 0h1m345 0h1m1 0h1m6 0h1m1 0h1m1 0h1m2 0h1M432 379.5h2m4 0h1m264 0h3m1 0h4m1 0h1m353 0h1m8 0h1m5 0h3m1 0h1M432 380.5h1m3 0h1m1 0h1m265 0h3m2 0h2m1 0h1m1 0h1m2 0h1m356 0h2m1 0h6M435 381.5h1m272 0h1m2 0h1m1 0h3m257 0h2m95 0h1m6 0h1m2 0h3M434 382.5h2m1 0h1m267 0h2m3 0h2m6 0h1m253 0h3m90 0h2m6 0h4m2 0h1m1 0h1M435 383.5h3m1 0h1m268 0h2m3 0h1m258 0h6m87 0h1m1 0h1m4 0h5m1 0h1m1 0h2M434 384.5h2m275 0h3m259 0h7m87 0h1m4 0h5m1 0h5M973 385.5h1m5 0h2m92 0h5m1 0h2M975 386.5h1m3 0h2m2 0h1m85 0h1m2 0h7M975 387.5h10m84 0h2m2 0h5M974 388.5h1m3 0h7m83 0h1m1 0h11M975 389.5h1m6 0h4m77 0h1m3 0h2m1 0h10M975 390.5h6m1 0h6m76 0h2m3 0h1m1 0h1m1 0h4M976 391.5h12m70 0h1m8 0h1m1 0h9M690 392.5h2m284 0h2m1 0h10m39 0h2m28 0h1m6 0h1m1 0h3m1 0h5M684 393.5h1m1 0h6m284 0h5m1 0h8m40 0h4m24 0h2m4 0h1m2 0h2m1 0h6M686 394.5h5m1 0h2m282 0h14m1 0h1m2 0h2m37 0h4m26 0h12M686 395.5h3m2 0h4m281 0h8m2 0h11m38 0h1m25 0h9m1 0h4M684 396.5h9m284 0h8m1 0h1m2 0h9m35 0h1m1 0h2m6 0h3m4 0h2m8 0h13M685 397.5h2m1 0h3m1 0h1m284 0h21m37 0h1m2 0h1m4 0h2m6 0h1m1 0h1m2 0h1m1 0h1m1 0h12M686 398.5h7m286 0h8m50 0h1m6 0h2m1 0h1m1 0h2m7 0h9m2 0h3M432 399.5h2m252 0h4m289 0h3m1 0h2m52 0h1m3 0h6m1 0h3m1 0h2m1 0h16M432 400.5h1m550 0h1m58 0h1m1 0h1m4 0h1m2 0h17M432 401.5h1m611 0h1m2 0h1m1 0h1m1 0h17M1049 402.5h19M1049 403.5h3m1 0h12M434 404.5h1m616 0h11M434 405.5h1m616 0h1m1 0h8M437 406.5h1m617 0h3M436 407.5h2M438 408.5h1M436 409.5h4M436 410.5h5M424 411.5h1m12 0h1m1 0h3M438 412.5h3M426 413.5h1m3 0h2m6 0h3M430 414.5h1m1 0h1m7 0h2M430 415.5h1m8 0h4M440 416.5h2"/>
<path fill="none" stroke="#e64c00" stroke-width="1" shape-rendering="crispEdges" d="M695 87.5h2M693 88.5h5m8 0h2M696 89.5h1M688 90.5h2m5 0h3m7 0h1M689 91.5h1m5 0h2m10 0h1M677 92.5h1m15 0h1m5 0h1M675 93.5h3m12 0h1m9 0h1m3 0h1M676 94.5h1m2 0h2m1 0h1m15 0h1M675 95.5h2m2 0h1m9 0h3m2 0h1m11 0h1M671 96.5h2m5 0h1m10 0h1m14 0h2M668 97.5h1m3 0h2m4 0h1m2 0h1m2 0h1m2 0h1m3 0h1m10 0h2m1 0h1M667 98.5h1m2 0h1m4 0h1m2 0h1m2 0h2m4 0h1m1 0h1M668 99.5h1m3 0h1m10 0h1m2 0h1m3 0h1m14 0h1m1 0h1m2 0h1M665 100.5h1m1 0h1m1 0h1m2 0h1m31 0h1m4 0h1M663 101.5h2m20 0h1m5 0h1m15 0h2m46 0h1M663 102.5h1m4 0h1m18 0h1m15 0h2m1 0h1m11 0h1m11 0h1m20 0h1M659 103.5h4m6 0h1m30 0h4m1 0h1m2 0h2m20 0h1M661 104.5h1m14 0h1m3 0h1m9 0h1m7 0h1m5 0h1m1 0h1m1 0h2m14 0h1m33 0h1m16 0h1m15 0h1m4 0h3M665 105.5h2m20 0h1m8 0h1m1 0h1m1 0h2m2 0h3m1 0h1m1 0h1m1 0h1m7 0h1m2 0h2m50 0h1m18 0h1m1 0h1M660 106.5h1m1 0h3m5 0h1m8 0h2m13 0h1m1 0h3m1 0h1m3 0h3m2 0h1m2 0h1m8 0h1m5 0h2m17 0h1m6 0h2m9 0h1m4 0h1m3 0h1m30 0h1M661 107.5h3m1 0h2m2 0h1m23 0h2m1 0h1m7 0h2m1 0h3m3 0h1m5 0h1m15 0h1m10 0h1m1 0h1m4 0h1m6 0h1m3 0h1M648 108.5h2m5 0h1m6 0h1m33 0h1m3 0h2m2 0h3m2 0h2m2 0h2m1 0h1m5 0h1m5 0h1m39 0h2m42 0h1m6 0h1M658 109.5h1m3 0h1m13 0h1m18 0h2m2 0h1m3 0h1m1 0h1m1 0h1m1 0h6m6 0h1m2 0h1m3 0h1m11 0h1m4 0h1m3 0h2m21 0h1m39 0h1m1 0h1M649 110.5h1m5 0h3m2 0h1m1 0h2m32 0h1m5 0h6m1 0h3m3 0h4m2 0h1m3 0h1m9 0h1m3 0h1m1 0h1m17 0h1m12 0h1m12 0h1m22 0h2m2 0h1M645 111.5h1m3 0h1m4 0h1m17 0h1m21 0h1m2 0h2m4 0h1m1 0h5m3 0h1m9 0h2m5 0h1m1 0h2m7 0h1m1 0h1m20 0h1m7 0h1m40 0h1m17 0h1M651 112.5h1m5 0h1m37 0h1m3 0h1m2 0h1m6 0h1m1 0h1m1 0h1m4 0h2m2 0h1m1 0h1m8 0h1m3 0h1m9 0h1m5 0h2m4 0h1m98 0h1M661 113.5h1m34 0h2m2 0h1m2 0h3m1 0h1m6 0h1m12 0h1m1 0h1m17 0h1m4 0h1m1 0h1m3 0h3m54 0h1m2 0h1m2 0h1m13 0h1m26 0h1M655 114.5h1m13 0h1m27 0h1m3 0h3m1 0h1m3 0h1m5 0h1m1 0h3m8 0h1m18 0h4m7 0h3m4 0h2m39 0h1m17 0h1m6 0h1M651 115.5h1m2 0h1m3 0h1m38 0h1m5 0h1m1 0h2m10 0h1m2 0h1m1 0h1m19 0h1m15 0h4m7 0h1m2 0h1m2 0h1m2 0h1m1 0h1m13 0h1m4 0h1m12 0h1m15 0h1m4 0h1M652 116.5h1m15 0h1m2 0h1m8 0h1m16 0h1m30 0h1m2 0h1m1 0h1m16 0h1m4 0h2m1 0h2m4 0h2m6 0h1m2 0h1m10 0h1m1 0h1m6 0h1m2 0h2m4 0h2m2 0h2m13 0h1m8 0h3m2 0h2m2 0h2m12 0h1m23 0h1M646 117.5h2m17 0h1m59 0h1m2 0h1m6 0h1m11 0h1m3 0h2m6 0h1m8 0h1m2 0h1m5 0h1m10 0h1m8 0h1m6 0h1m21 0h1m6 0h1m8 0h1m4 0h1m2 0h1m4 0h3m2 0h1m4 0h1m21 0h1m1 0h1M653 118.5h2m10 0h1m3 0h3m4 0h1m25 0h1m3 0h1m1 0h4m1 0h4m3 0h1m3 0h1m1 0h1m2 0h1m17 0h1m3 0h1m2 0h1m1 0h1m2 0h1m1 0h1m1 0h1m14 0h1m18 0h1m1 0h2m4 0h1m2 0h1m7 0h1m4 0h1m2 0h1m7 0h1m14 0h1m2 0h3m1 0h2m2 0h1m2 0h1m3 0h1M648 119.5h1m5 0h3m9 0h1m3 0h1m31 0h1m1 0h3m3 0h1m1 0h1m2 0h2m1 0h9m3 0h1m1 0h1m2 0h1m13 0h1m1 0h1m1 0h2m2 0h1m3 0h1m1 0h3m2 0h1m2 0h2m2 0h1m2 0h1m10 0h1m7 0h1m1 0h3m7 0h2m4 0h1m1 0h2m4 0h1m2 0h1m13 0h3m2 0h1m1 0h4m2 0h1m2 0h1m1 0h1m10 0h1m11 0h1M650 120.5h1m4 0h2m7 0h4m1 0h1m3 0h1m34 0h2m1 0h1m1 0h3m3 0h3m1 0h2m2 0h2m1 0h1m8 0h1m7 0h1m7 0h1m8 0h1m8 0h1m35 0h1m7 0h1m6 0h1m12 0h3m11 0h4m2 0h1m1 0h1m1 0h2m6 0h1m3 0h1m8 0h1m1 0h2M664 121.5h1m3 0h4m30 0h1m1 0h1m1 0h1m6 0h5m1 0h6m2 0h1m1 0h1m13 0h1m4 0h3m4 0h2m17 0h2m1 0h1m1 0h1m5 0h1m1 0h1m9 0h1m20 0h1m1 0h2m4 0h2m10 0h2m2 0h1m2 0h3m2 0h1m2 0h4m1 0h1m2 0h1m6 0h1m6 0h1m7 0h2m2 0h2m2 0h1M614 122.5h2m51 0h2m38 0h1m2 0h1m2 0h2m3 0h2m1 0h1m1 0h3m1 0h1m1 0h1m6 0h1m4 0h2m3 0h3m2 0h1m5 0h3m14 0h1m12 0h1m4 0h2m20 0h1m20 0h1m16 0h1m2 0h1m13 0h1m2 0h2m15 0h2m2 0h2M619 123.5h1m45 0h4m35 0h1m3 0h2m5 0h6m3 0h2m1 0h1m10 0h1m3 0h1m1 0h1m1 0h1m4 0h1m1 0h2m20 0h2m11 0h1m5 0h1m4 0h2m5 0h1m4 0h1m37 0h2m8 0h1m3 0h2m4 0h1m2 0h1m5 0h1m1 0h2m3 0h1m3 0h1m3 0h2m1 0h1m5 0h4M619 124.5h1m2 0h1m42 0h1m1 0h1m2 0h1m1 0h1m23 0h1m4 0h1m6 0h5m2 0h2m1 0h1m2 0h4m5 0h2m7 0h1m2 0h1m2 0h2m6 0h3m8 0h1m19 0h1m3 0h1m2 0h3m13 0h1m6 0h1m7 0h1m2 0h1m5 0h2m7 0h11m1 0h2m2 0h1m1 0h1m7 0h1m4 0h2m3 0h1m2 0h1m1 0h1m5 0h1m6 0h2m3 0h2m1 0h2m1 0h2m1 0h1M616 125.5h1m39 0h3m6 0h2m1 0h4m21 0h5m3 0h1m6 0h3m3 0h3m4 0h2m1 0h2m2 0h1m2 0h1m4 0h1m1 0h1m7 0h2m2 0h2m1 0h1m1 0h3m11 0h1m2 0h1m17 0h1m1 0h1m1 0h2m1 0h1m7 0h1m14 0h1m1 0h1m4 0h1m6 0h4m1 0h8m1 0h1m2 0h3m1 0h4m3 0h1m2 0h2m2 0h11m2 0h1m9 0h1m1 0h2m1 0h1m1 0h2m4 0h1M265 126.5h1m349 0h1m2 0h2m38 0h2m6 0h1m26 0h1m1 0h4m6 0h5m1 0h6m1 0h8m4 0h1m5 0h2m6 0h1m4 0h1m1 0h1m1 0h3m6 0h1m12 0h1m3 0h3m1 0h1m6 0h1m3 0h5m6 0h1m7 0h2m7 0h1m1 0h1m1 0h1m4 0h5m1 0h13m1 0h12m3 0h1m1 0h12m11 0h2m13 0h1m1 0h1M266 127.5h4m1 0h1m3 0h1m338 0h1m2 0h2m2 0h1m33 0h1m11 0h3m22 0h3m1 0h3m3 0h2m2 0h1m2 0h1m1 0h1m1 0h5m1 0h2m1 0h1m1 0h2m4 0h1m1 0h2m12 0h5m3 0h4m2 0h1m11 0h2m2 0h4m1 0h2m3 0h2m1 0h2m1 0h1m1 0h7m6 0h2m4 0h3m1 0h11m1 0h6m1 0h13m2 0h7m1 0h1m1 0h2m1 0h1m2 0h7m1 0h6m9 0h1m1 0h3m3 0h1m5 0h1m3 0h1M265 128.5h8m2 0h3m10 0h2m5 0h1m2 0h1m315 0h1m39 0h1m3 0h1m6 0h3m1 0h1m22 0h7m3 0h1m1 0h4m1 0h4m1 0h7m1 0h1m1 0h8m1 0h2m1 0h1m1 0h1m4 0h1m2 0h3m2 0h1m1 0h5m3 0h1m7 0h2m1 0h2m1 0h1m1 0h1m3 0h1m2 0h4m1 0h9m2 0h2m5 0h1m1 0h7m1 0h18m1 0h1m1 0h19m1 0h2m1 0h1m3 0h20m3 0h1m1 0h1m1 0h4m6 0h1m2 0h1M266 129.5h4m2 0h1m1 0h3m1 0h1m7 0h2m1 0h2m3 0h2m4 0h1m3 0h1m314 0h1m2 0h1m32 0h2m9 0h1m26 0h6m3 0h1m1 0h4m3 0h2m1 0h1m2 0h19m2 0h2m5 0h1m1 0h1m1 0h1m1 0h2m1 0h5m1 0h5m3 0h5m1 0h6m1 0h1m2 0h2m1 0h6m1 0h3m5 0h1m4 0h57m1 0h13m1 0h9m3 0h1m1 0h4m5 0h1m1 0h1M269 130.5h11m4 0h1m1 0h1m1 0h3m2 0h3m1 0h2m1 0h7m314 0h1m34 0h1m40 0h1m1 0h1m2 0h7m1 0h2m2 0h8m1 0h19m1 0h1m1 0h6m1 0h9m1 0h3m2 0h4m1 0h1m1 0h1m1 0h3m1 0h2m1 0h3m1 0h2m2 0h8m6 0h4m2 0h8m1 0h2m1 0h13m1 0h27m2 0h1m1 0h14m1 0h6m4 0h4m1 0h1m1 0h1m2 0h1M269 131.5h5m2 0h3m4 0h1m1 0h2m1 0h2m2 0h1m1 0h3m1 0h2m1 0h3m6 0h1m1 0h1m293 0h1m48 0h3m35 0h1m1 0h2m1 0h2m1 0h2m2 0h1m2 0h12m1 0h43m2 0h7m3 0h24m6 0h3m1 0h8m1 0h1m1 0h1m1 0h13m1 0h18m1 0h8m2 0h1m1 0h14m2 0h16m4 0h1M282 132.5h2m1 0h1m1 0h6m3 0h4m1 0h1m1 0h2m6 0h2m7 0h2m281 0h4m48 0h1m1 0h2m35 0h3m4 0h2m1 0h16m1 0h39m1 0h4m1 0h1m2 0h2m1 0h11m2 0h2m3 0h3m2 0h1m3 0h1m6 0h12m1 0h26m2 0h17m1 0h22m1 0h4m1 0h4m7 0h3m1 0h1M282 133.5h1m1 0h15m1 0h2m5 0h1m4 0h1m6 0h1m1 0h1m278 0h2m1 0h5m11 0h1m36 0h1m2 0h1m41 0h4m1 0h10m1 0h14m1 0h28m1 0h4m1 0h20m2 0h6m2 0h4m5 0h5m1 0h1m2 0h15m1 0h11m1 0h2m1 0h1m1 0h18m1 0h8m1 0h17m2 0h3m2 0h1m3 0h1m1 0h1m1 0h1m1 0h1M282 134.5h11m1 0h2m1 0h11m3 0h1m2 0h1m11 0h1m274 0h1m1 0h1m1 0h1m2 0h1m10 0h1m1 0h1m80 0h3m2 0h11m2 0h6m1 0h9m1 0h22m2 0h16m2 0h2m1 0h5m2 0h3m2 0h2m2 0h1m6 0h7m2 0h12m1 0h1m1 0h1m1 0h9m2 0h2m1 0h1m3 0h31m1 0h2m3 0h8m1 0h5m1 0h1m1 0h2m1 0h3M283 135.5h12m1 0h16m1 0h1m3 0h2m1 0h2m1 0h2m2 0h1m1 0h1m271 0h1m3 0h1m4 0h1m9 0h1m1 0h1m79 0h18m1 0h5m1 0h12m1 0h1m3 0h13m1 0h4m1 0h6m1 0h7m1 0h15m1 0h4m7 0h5m1 0h6m1 0h5m1 0h8m1 0h6m3 0h12m1 0h24m2 0h2m1 0h9m2 0h4m1 0h2m2 0h1m4 0h1M282 136.5h1m1 0h40m6 0h1m270 0h1m1 0h2m2 0h1m2 0h1m6 0h1m3 0h2m82 0h8m1 0h5m1 0h21m1 0h3m2 0h4m1 0h10m1 0h2m1 0h1m2 0h8m1 0h8m1 0h5m2 0h3m2 0h1m4 0h3m1 0h2m2 0h5m1 0h2m1 0h2m1 0h14m2 0h2m1 0h2m1 0h33m1 0h2m2 0h9m5 0h1m4 0h2m4 0h1M282 137.5h43m2 0h3m5 0h1m1 0h1m262 0h1m1 0h3m3 0h1m11 0h1m87 0h30m1 0h2m2 0h1m1 0h13m1 0h2m2 0h1m4 0h10m1 0h7m4 0h2m3 0h2m2 0h1m5 0h17m1 0h14m3 0h1m4 0h4m1 0h9m1 0h23m1 0h1m1 0h7m5 0h1M284 138.5h45m1 0h1m4 0h3m263 0h2m2 0h1m1 0h1m101 0h9m1 0h27m3 0h15m1 0h13m1 0h8m3 0h2m1 0h5m1 0h2m3 0h14m1 0h3m1 0h6m1 0h11m4 0h1m3 0h1m1 0h34m1 0h3m1 0h3m10 0h1M285 139.5h19m1 0h7m1 0h17m1 0h1m5 0h2m262 0h1m3 0h1m1 0h2m102 0h2m2 0h1m1 0h1m1 0h1m1 0h21m1 0h3m3 0h2m1 0h4m2 0h2m3 0h2m4 0h1m4 0h1m1 0h1m4 0h1m2 0h1m8 0h5m1 0h1m4 0h14m1 0h1m1 0h21m3 0h1m2 0h34m1 0h5m2 0h2m2 0h2m8 0h1M286 140.5h19m1 0h27m6 0h3m259 0h1m3 0h3m110 0h8m1 0h23m3 0h2m43 0h2m5 0h8m2 0h16m1 0h8m2 0h34m1 0h15m4 0h1M286 141.5h22m1 0h25m4 0h2m310 0h2m1 0h1m65 0h1m1 0h2m3 0h17m1 0h4m49 0h1m7 0h10m4 0h12m1 0h9m1 0h5m1 0h4m1 0h25m2 0h12M288 142.5h20m1 0h27m2 0h2m310 0h2m1 0h1m6 0h1m69 0h11m1 0h1m63 0h9m4 0h1m1 0h9m1 0h6m1 0h1m1 0h2m1 0h4m1 0h3m1 0h3m2 0h2m2 0h4m1 0h12m2 0h3m1 0h8M288 143.5h3m1 0h4m6 0h6m2 0h15m1 0h11m6 0h2m304 0h1m3 0h2m2 0h1m2 0h2m71 0h2m71 0h9m26 0h1m1 0h1m8 0h1m1 0h1m2 0h2m2 0h1m5 0h12m1 0h11m150 0h1M311 144.5h12m1 0h17m1 0h1m1 0h2m300 0h2m1 0h1m1 0h2m1 0h3m4 0h3m1 0h1m185 0h1m2 0h1m3 0h1m3 0h1m2 0h1m1 0h9m1 0h14M314 145.5h29m302 0h1m1 0h5m1 0h2m6 0h2m1 0h2m185 0h3m1 0h1m3 0h1m2 0h1m2 0h10m2 0h5m1 0h7m148 0h4m2 0h1M317 146.5h7m1 0h17m4 0h2m300 0h7m1 0h2m8 0h2m187 0h10m1 0h10m2 0h12m154 0h2M318 147.5h6m2 0h5m2 0h1m1 0h7m5 0h2m297 0h4m1 0h3m1 0h3m4 0h1m2 0h2m2 0h1m18 0h1m172 0h3m2 0h2m3 0h5m1 0h9m116 0h1m38 0h3M320 148.5h4m1 0h7m1 0h12m1 0h2m1 0h1m294 0h3m2 0h4m2 0h2m1 0h2m3 0h3m4 0h1m16 0h1m2 0h1m3 0h2m4 0h1m152 0h3m1 0h1m1 0h4m2 0h1m1 0h2m6 0h1m1 0h8m117 0h2m37 0h3M325 149.5h7m1 0h2m1 0h8m41 0h2m6 0h1m250 0h1m1 0h7m3 0h3m1 0h3m3 0h2m3 0h2m10 0h6m1 0h2m1 0h3m4 0h2m2 0h1m149 0h1m2 0h3m1 0h1m4 0h1m1 0h2m7 0h4m1 0h1m8 0h1m107 0h2m1 0h3m1 0h1m1 0h1m27 0h4M326 150.5h19m40 0h1m37 0h1m2 0h1m3 0h1m1 0h1m211 0h1m1 0h7m1 0h3m5 0h1m3 0h2m3 0h2m16 0h7m4 0h1m2 0h2m161 0h1m3 0h2m4 0h1m1 0h1m12 0h1m106 0h3m5 0h3m25 0h1m1 0h5M326 151.5h21m1 0h4m33 0h3m35 0h4m2 0h3m211 0h2m6 0h1m2 0h1m3 0h2m2 0h1m4 0h2m1 0h2m18 0h1m5 0h1m3 0h2m3 0h1m149 0h1m20 0h4m11 0h1m105 0h4m1 0h1m3 0h5m21 0h3m1 0h5M330 152.5h17m1 0h2m36 0h2m30 0h1m1 0h1m2 0h4m1 0h2m216 0h1m2 0h1m7 0h2m1 0h1m1 0h1m2 0h1m1 0h1m1 0h1m1 0h2m1 0h1m24 0h1m3 0h3m160 0h1m3 0h1m5 0h1m11 0h1m107 0h2m1 0h10m1 0h4m18 0h8M330 153.5h21m3 0h1m33 0h2m25 0h1m9 0h1m220 0h1m1 0h5m3 0h1m10 0h1m1 0h3m28 0h2m1 0h4m163 0h1m128 0h1m1 0h4m1 0h11m13 0h1m1 0h8M330 154.5h6m1 0h11m2 0h3m1 0h3m31 0h2m23 0h1m1 0h1m10 0h1m2 0h1m3 0h1m210 0h2m2 0h1m1 0h5m1 0h2m9 0h1m2 0h2m34 0h1m171 0h1m117 0h12m1 0h11m6 0h12M333 155.5h17m7 0h3m52 0h2m1 0h2m4 0h1m4 0h1m1 0h2m3 0h1m208 0h3m3 0h2m4 0h1m12 0h1m1 0h3m1 0h1m1 0h1m198 0h1m4 0h1m116 0h3m1 0h14m4 0h7m1 0h12M334 156.5h1m1 0h8m1 0h1m1 0h3m57 0h1m3 0h1m2 0h1m1 0h1m9 0h1m6 0h1m207 0h3m1 0h1m2 0h1m5 0h1m17 0h1m323 0h1m1 0h10m1 0h5m4 0h8m1 0h6m2 0h2M257 157.5h1m2 0h2m72 0h1m1 0h10m1 0h1m1 0h3m4 0h1m50 0h1m3 0h4m3 0h1m7 0h1m1 0h3m2 0h1m2 0h3m233 0h1m315 0h2m6 0h1m2 0h17m3 0h1m1 0h10m1 0h5M335 158.5h12m2 0h2m1 0h1m1 0h2m6 0h1m11 0h1m33 0h7m7 0h1m3 0h1m2 0h1m6 0h1m1 0h1m206 0h1m2 0h1m20 0h2m316 0h1m1 0h1m1 0h5m1 0h3m1 0h11m1 0h3m3 0h2m1 0h6m1 0h2m1 0h5M336 159.5h11m2 0h2m1 0h5m1 0h6m1 0h1m5 0h3m2 0h2m31 0h1m1 0h4m11 0h2m6 0h1m2 0h5m1 0h1m229 0h2m311 0h2m1 0h1m1 0h2m2 0h1m3 0h17m4 0h6m1 0h4m1 0h3M260 160.5h1m77 0h5m3 0h1m1 0h16m1 0h1m3 0h2m1 0h3m1 0h3m21 0h5m1 0h4m1 0h2m10 0h1m12 0h3m2 0h3m1 0h1m223 0h2m5 0h1m307 0h1m1 0h2m1 0h1m12 0h13m3 0h5m2 0h6M257 161.5h1m2 0h2m77 0h5m1 0h3m3 0h8m1 0h6m2 0h1m2 0h6m23 0h2m2 0h9m1 0h1m7 0h2m11 0h1m2 0h1m234 0h1m312 0h5m3 0h1m7 0h2m1 0h11m2 0h9m3 0h3M340 162.5h11m2 0h4m1 0h8m1 0h1m3 0h6m4 0h1m20 0h1m1 0h2m2 0h5m2 0h1m3 0h3m2 0h1m219 0h1m31 0h2m305 0h1m2 0h1m1 0h3m2 0h1m1 0h1m5 0h3m1 0h8m5 0h9m26 0h2m1 0h1M261 163.5h1m78 0h9m1 0h16m4 0h1m1 0h5m1 0h2m1 0h2m4 0h1m5 0h1m2 0h2m2 0h6m1 0h1m1 0h6m2 0h2m1 0h2m560 0h2m1 0h1m2 0h3m10 0h1m1 0h10m1 0h1m3 0h2m2 0h2m1 0h5m23 0h2M257 164.5h1m84 0h7m1 0h2m1 0h5m1 0h6m1 0h2m1 0h1m1 0h1m1 0h2m1 0h1m6 0h1m1 0h1m1 0h1m2 0h1m5 0h1m3 0h2m3 0h1m1 0h1m1 0h5m2 0h1m2 0h2m221 0h2m117 0h1m218 0h3m1 0h2m2 0h1m1 0h1m10 0h1m1 0h4m1 0h3m1 0h2m3 0h3m1 0h3m2 0h4m23 0h3m2 0h1m3 0h2M345 165.5h2m3 0h15m6 0h2m2 0h1m8 0h1m2 0h1m1 0h1m1 0h2m6 0h3m1 0h5m1 0h5m1 0h1m189 0h2m69 0h4m70 0h2m14 0h1m83 0h1m129 0h1m1 0h2m4 0h1m15 0h9m2 0h2m1 0h1m4 0h2m1 0h1m27 0h2m3 0h2m1 0h2M348 166.5h18m11 0h1m2 0h1m3 0h4m2 0h2m4 0h2m1 0h10m1 0h4m1 0h2m186 0h4m71 0h1m2 0h1m69 0h2m8 0h1m3 0h2m76 0h1m1 0h1m4 0h2m127 0h2m4 0h1m10 0h1m6 0h4m1 0h2m1 0h8m4 0h1m27 0h1m2 0h2m1 0h1m1 0h2M347 167.5h2m2 0h15m5 0h3m5 0h1m3 0h2m1 0h1m2 0h1m5 0h2m5 0h1m2 0h4m1 0h4m1 0h1m186 0h3m2 0h1m24 0h3m132 0h2m75 0h2m2 0h1m3 0h1m130 0h1m16 0h1m3 0h14m33 0h2m4 0h4M349 168.5h1m1 0h16m5 0h4m2 0h2m7 0h3m1 0h2m2 0h1m3 0h1m2 0h5m1 0h1m2 0h4m1 0h1m187 0h1m1 0h1m26 0h2m48 0h1m69 0h2m6 0h1m6 0h1m80 0h2m126 0h1m2 0h3m18 0h1m3 0h7m1 0h3m35 0h3m2 0h4M351 169.5h16m4 0h3m4 0h1m9 0h2m3 0h2m8 0h4m1 0h2m1 0h4m1 0h1m186 0h1m29 0h1m119 0h2m1 0h2m3 0h1m2 0h2m7 0h1m70 0h1m2 0h1m1 0h3m116 0h1m13 0h1m20 0h12m39 0h2m1 0h2M353 170.5h14m4 0h1m1 0h6m6 0h1m2 0h4m2 0h2m7 0h2m3 0h2m1 0h1m192 0h1m1 0h1m147 0h2m9 0h1m2 0h1m3 0h1m1 0h1m65 0h1m1 0h1m1 0h2m1 0h1m3 0h1m121 0h1m29 0h9m37 0h1M355 171.5h1m2 0h3m2 0h2m6 0h4m1 0h4m5 0h1m3 0h1m1 0h1m2 0h1m2 0h1m2 0h2m1 0h2m1 0h1m1 0h1m1 0h2m192 0h2m2 0h1m79 0h1m64 0h1m14 0h1m5 0h1m64 0h1m1 0h1m2 0h2m121 0h1m32 0h6m43 0h1M371 172.5h1m1 0h1m5 0h1m3 0h1m13 0h1m2 0h1m2 0h4m1 0h2m194 0h2m145 0h1m4 0h1m8 0h1m3 0h1m1 0h1m1 0h1m1 0h1m66 0h4m122 0h1m5 0h1m26 0h7m42 0h1M391 173.5h1m4 0h1m3 0h1m1 0h1m6 0h1m279 0h1m54 0h1m2 0h1m4 0h1m6 0h1m3 0h2m3 0h1m4 0h1m2 0h1m66 0h1m1 0h2m119 0h1m3 0h1m3 0h1m24 0h1m1 0h7m42 0h3M390 174.5h1m3 0h1m4 0h1m2 0h1m2 0h1m1 0h1m339 0h3m4 0h1m1 0h2m4 0h2m1 0h1m2 0h2m2 0h1m1 0h2m67 0h1m1 0h2m119 0h1m32 0h8m43 0h3M396 175.5h1m1 0h1m1 0h1m1 0h2m340 0h2m1 0h4m8 0h1m1 0h1m1 0h2m1 0h2m1 0h2m3 0h1m69 0h1m154 0h6m44 0h5M400 176.5h1m348 0h1m1 0h1m15 0h1m231 0h6m45 0h4M400 177.5h1m347 0h1m3 0h1m17 0h1m232 0h2m43 0h7M752 178.5h1m3 0h1m12 0h1m1 0h1m1 0h2m229 0h1m43 0h2m3 0h2M744 179.5h1m9 0h1m1 0h1m4 0h1m6 0h3m2 0h2m229 0h1m3 0h4m35 0h1m1 0h4M749 180.5h1m5 0h1m248 0h4m1 0h5m33 0h1m1 0h2m1 0h2M754 181.5h1m178 0h1m2 0h1m67 0h3m3 0h5m31 0h4m1 0h2M933 182.5h1m1 0h1m69 0h2m1 0h3m1 0h2m32 0h2m1 0h1m1 0h1M1007 183.5h1m2 0h5m31 0h2m2 0h2M929 184.5h1m8 0h2m68 0h4m34 0h3m1 0h2M933 185.5h1m2 0h1m1 0h3m67 0h3m28 0h3m2 0h1m1 0h1m2 0h1M931 186.5h2m2 0h2m2 0h1m68 0h4m3 0h1m22 0h3m2 0h2m4 0h1M366 187.5h1m2 0h1m566 0h1m3 0h1m67 0h4m1 0h2m22 0h4m3 0h1m1 0h3m1 0h1M370 188.5h1m2 0h1m563 0h1m2 0h1m67 0h5m1 0h1m23 0h2m2 0h1m1 0h2m1 0h4M367 189.5h4m1 0h2m557 0h2m1 0h1m1 0h3m70 0h4m26 0h4m1 0h2m1 0h1M368 190.5h1m1 0h1m455 0h1m5 0h3m100 0h1m1 0h3m71 0h3m17 0h3m2 0h1m5 0h3M372 191.5h2m457 0h1m195 0h3m1 0h3m1 0h1m3 0h2m2 0h1M368 192.5h1m461 0h3m193 0h1m4 0h2m2 0h1M369 193.5h2m458 0h1m1 0h2m3 0h1m193 0h1M828 194.5h1m1 0h2m2 0h1m192 0h4m1 0h1M829 195.5h1m1 0h1m1 0h2m186 0h3m2 0h6M830 196.5h1m1 0h2m187 0h1m4 0h3M1019 197.5h1m3 0h2M1019 198.5h1m1 0h3M1019 199.5h3m1 0h1M857 200.5h1m163 0h2M858 201.5h1m2 0h1m96 0h2M956 202.5h1m1 0h1m1 0h2M859 203.5h3m2 0h1m90 0h1m1 0h1M861 204.5h1m2 0h1m86 0h1m1 0h2m1 0h1M864 205.5h1m1 0h1m83 0h2m1 0h2m1 0h2m2 0h2m23 0h1M867 206.5h1m82 0h1m2 0h1m3 0h1m1 0h3m16 0h3m2 0h2m1 0h1M955 207.5h3m1 0h1m1 0h1m16 0h1m6 0h2M873 208.5h1m63 0h1m16 0h4m2 0h1m20 0h1m6 0h1M873 209.5h1m56 0h1m1 0h3m1 0h2m14 0h5m20 0h1m2 0h2m2 0h2m1 0h2M933 210.5h2m2 0h1m17 0h1m23 0h1m1 0h1m3 0h3M878 211.5h1m53 0h2m6 0h1m42 0h1m2 0h1m1 0h2M878 212.5h1m34 0h3m64 0h1m2 0h1m3 0h1M879 213.5h1m3 0h1m24 0h2m1 0h1m1 0h1m1 0h1m4 0h2m17 0h1m40 0h1m2 0h1M881 214.5h2m26 0h2m2 0h3m12 0h2m2 0h1m1 0h1m3 0h1m41 0h1M885 215.5h3m1 0h1m4 0h2m1 0h2m1 0h1m8 0h3m12 0h1M895 216.5h1m1 0h5m9 0h1M894 217.5h4m1 0h2m1 0h1m18 0h1M895 218.5h6M895 219.5h1m2 0h1m27 0h1M938 220.5h1M927 221.5h1M921 222.5h1M919 225.5h1M903 226.5h1m15 0h1M902 227.5h1m1 0h1m33 0h2M903 228.5h1m1 0h1m34 0h1M905 230.5h2m24 0h1m8 0h1M905 231.5h1M905 232.5h2m29 0h1M906 233.5h2M937 234.5h1M849 235.5h1m71 0h1M848 236.5h2m81 0h1M848 237.5h2m72 0h1m6 0h1M849 238.5h1m77 0h2M932 239.5h1M847 240.5h1m85 0h1M848 241.5h3m74 0h1M849 242.5h2m79 0h1M340 243.5h2m1 0h1m506 0h1m1 0h1M341 244.5h4m1 0h1m503 0h1m142 0h1M341 245.5h2m2 0h2m2 0h1m1 0h1m497 0h2m1 0h1m59 0h2m80 0h1M345 246.5h2m2 0h1m3 0h4m555 0h3m79 0h1M345 247.5h1m4 0h1m1 0h1m2 0h4m554 0h2m37 0h1m40 0h1M352 248.5h1m2 0h1m1 0h1m1 0h2m492 0h1m59 0h1m36 0h2m1 0h1m39 0h1M353 249.5h1m1 0h7m490 0h1m99 0h1m38 0h1m1 0h1M355 250.5h4m2 0h1m490 0h3m67 0h1m28 0h1m1 0h1m35 0h3m1 0h1M355 251.5h2m3 0h1m492 0h1m68 0h1m1 0h1m29 0h1m34 0h5M354 252.5h1m2 0h1m1 0h2m563 0h1m65 0h5M853 253.5h1m68 0h1m67 0h1m1 0h1m1 0h2M358 254.5h1m564 0h2m65 0h7m2 0h1M853 255.5h1m142 0h2m1 0h2M853 256.5h1m138 0h1m4 0h1m2 0h1M999 257.5h1M377 258.5h1m624 0h1M734 259.5h1m6 0h2m182 0h1m76 0h1m1 0h1M733 260.5h1m4 0h1m116 0h1m146 0h1m1 0h1M374 261.5h3m363 0h2m1 0h1m180 0h1m71 0h1m6 0h2M373 262.5h1m3 0h1m360 0h1m1 0h1m1 0h1m254 0h1m4 0h3M374 263.5h1m1 0h2m355 0h1m2 0h1m8 0h1m254 0h1m1 0h2M376 264.5h3m206 0h3m145 0h1m2 0h2m1 0h1m2 0h2m2 0h1m1 0h1m251 0h1M376 265.5h3m208 0h2m144 0h1m1 0h1m7 0h1m1 0h1M377 266.5h3m207 0h4m152 0h2m1 0h2M377 267.5h2m209 0h4m2 0h1m138 0h1m3 0h1m5 0h1M378 268.5h2m208 0h7m152 0h2m175 0h2M380 269.5h1m1 0h1m206 0h3m1 0h5m134 0h1m191 0h1M379 270.5h1m1 0h1m207 0h2m1 0h6m148 0h1m177 0h1m77 0h1m1 0h2M382 271.5h1m206 0h7m1 0h4m135 0h2m2 0h2m259 0h7M590 272.5h1m1 0h9m139 0h1m261 0h6M386 273.5h1m16 0h1m187 0h2m1 0h2m1 0h3m136 0h2m263 0h4m1 0h2M405 274.5h2m185 0h1m2 0h6m137 0h1m261 0h1m1 0h3m1 0h2M401 275.5h1m4 0h1m187 0h5m271 0h1m131 0h6M405 276.5h2m596 0h2M403 277.5h1m2 0h1m1 0h1m188 0h2m138 0h1m131 0h1M407 278.5h3m188 0h2m1 0h2m331 0h2M411 279.5h1m329 0h1m190 0h3m44 0h5M405 280.5h3m2 0h2m189 0h1m1 0h2m312 0h1m1 0h1m11 0h3m2 0h2m41 0h4M409 281.5h3m191 0h1m311 0h2m15 0h6m38 0h5m2 0h1M405 282.5h1m1 0h1m2 0h1m240 0h1m4 0h1m259 0h1m1 0h2m15 0h2m38 0h1m2 0h4m1 0h1M407 283.5h2m248 0h1m258 0h2m2 0h1m14 0h1m1 0h1m37 0h1m2 0h5M408 284.5h2m507 0h3m1 0h1m13 0h1m2 0h1m34 0h1m1 0h1m1 0h5M404 285.5h4m1 0h1m1 0h2m508 0h1m1 0h1m11 0h4m33 0h1m1 0h1m2 0h4M403 286.5h2m4 0h1m509 0h2m1 0h3m47 0h1m1 0h1m3 0h4M400 287.5h2m1 0h2m1 0h1m2 0h1m513 0h2m41 0h1m2 0h4m1 0h2m2 0h2M400 288.5h1m3 0h1m1 0h2m1 0h2m510 0h4m41 0h1m7 0h1m1 0h1m3 0h1M401 289.5h3m2 0h1m515 0h1m3 0h3m35 0h1m1 0h1m4 0h1m1 0h1m1 0h3m1 0h2M399 290.5h9m516 0h6m1 0h1m26 0h1m3 0h2m2 0h2m1 0h1m1 0h4m3 0h3M399 291.5h2m2 0h2m520 0h6m1 0h1m23 0h13m1 0h11M400 292.5h4m521 0h7m24 0h13m2 0h5m1 0h2m1 0h1M396 293.5h1m1 0h1m3 0h2m20 0h1m500 0h1m2 0h2m1 0h4m21 0h21m1 0h1M394 294.5h1m2 0h4m1 0h1m14 0h1m507 0h1m1 0h3m1 0h4m21 0h14m1 0h1m1 0h3m1 0h1M391 295.5h1m1 0h2m1 0h4m1 0h2m12 0h1m511 0h11m18 0h1m1 0h12m2 0h3M393 296.5h2m2 0h2m1 0h1m527 0h3m1 0h6m18 0h12m1 0h3m1 0h4M398 297.5h1m6 0h1m74 0h3m445 0h4m1 0h2m1 0h3m17 0h18m1 0h1M394 298.5h2m84 0h3m446 0h3m1 0h2m1 0h3m18 0h11m1 0h2m54 0h5M479 299.5h6m445 0h12m16 0h10m1 0h1m51 0h2m4 0h4M405 300.5h1m2 0h1m11 0h1m61 0h3m230 0h1m214 0h11m17 0h12m54 0h3m1 0h3M398 301.5h1m315 0h2m214 0h12m17 0h11m55 0h5m11 0h1M418 302.5h1m296 0h1m217 0h10m16 0h9m61 0h2m7 0h1m1 0h2m2 0h1M395 303.5h1m320 0h1m215 0h8m1 0h4m14 0h8m63 0h1m8 0h3m4 0h3M395 304.5h1m15 0h1m9 0h1m292 0h1m217 0h13m15 0h5m1 0h1m59 0h1m1 0h3m4 0h10m1 0h4M390 305.5h1m26 0h1m516 0h6m1 0h4m16 0h2m23 0h2m1 0h1m24 0h1m1 0h2m1 0h1m8 0h2m2 0h7m2 0h1m4 0h1m1 0h2M412 306.5h1m302 0h1m218 0h3m1 0h8m41 0h1m26 0h1m1 0h2m10 0h11m2 0h2m2 0h4m1 0h1M393 307.5h1m541 0h2m2 0h5m1 0h1m42 0h1m38 0h1m1 0h1m1 0h7m7 0h1m1 0h4m1 0h1M392 308.5h1m24 0h1m1 0h1m516 0h1m1 0h5m44 0h2m45 0h2m1 0h1m1 0h1m3 0h1m3 0h6m6 0h1m1 0h1M392 309.5h1m18 0h1m4 0h1m2 0h2m517 0h3m2 0h1m92 0h1m5 0h2m3 0h1m1 0h1m1 0h1m1 0h1m1 0h9M939 310.5h1m48 0h1m53 0h1m3 0h1m4 0h1m3 0h1m2 0h1m2 0h3M392 311.5h2m593 0h2m54 0h1m1 0h1m6 0h2m1 0h1m1 0h8M394 312.5h1m547 0h1m44 0h2m54 0h1m1 0h2m3 0h4m6 0h4M392 313.5h1m652 0h3m1 0h1m5 0h1m2 0h6m1 0h1M947 314.5h1m97 0h5m2 0h1m10 0h1m1 0h1M947 315.5h1m1 0h3m94 0h4m6 0h4m1 0h5M947 316.5h5m1 0h2m3 0h1m87 0h1m1 0h9m1 0h5M947 317.5h2m1 0h1m6 0h2m89 0h1m2 0h5m1 0h6m6 0h1M950 318.5h1m1 0h2m4 0h1m94 0h4m1 0h1m12 0h1M953 319.5h2m2 0h2m109 0h1M1070 320.5h2M1070 321.5h1M1073 322.5h1M397 323.5h3m672 0h2m1 0h1M399 324.5h1M399 325.5h1M397 326.5h1M396 328.5h1M397 329.5h2M397 331.5h1m3 0h1M400 332.5h1m1 0h1M399 333.5h2m1 0h3M399 334.5h1m1 0h4M403 335.5h2M401 336.5h1m1 0h2M401 337.5h3m2 0h1m1 0h1m5 0h1M403 338.5h1m2 0h1m2 0h1m3 0h3m1 0h1M405 339.5h3m1 0h1m2 0h1m2 0h1m362 0h1M408 340.5h1m6 0h2m361 0h1M778 341.5h1m350 0h1M776 342.5h2m1 0h1M775 343.5h2M775 344.5h2M775 345.5h3M775 346.5h3M775 347.5h2M775 348.5h2M774 349.5h3M774 350.5h1m1 0h1M773 351.5h4M773 352.5h4M773 353.5h3M773 354.5h3M772 355.5h4M773 356.5h2M772 357.5h3M772 358.5h3M772 359.5h2M772 360.5h2M771 361.5h3M771 362.5h2M488 363.5h1m1 0h2m279 0h2M771 364.5h2M491 365.5h1m279 0h1M488 366.5h2m281 0h1M485 367.5h2m2 0h1M486 368.5h4M486 369.5h1M470 370.5h1m1 0h2m8 0h1m3 0h1M469 371.5h4m10 0h2M469 372.5h5m7 0h1M468 373.5h6m8 0h2M469 374.5h6M468 375.5h8M469 376.5h5m1 0h1M469 377.5h8M468 378.5h3m1 0h6M470 379.5h3m2 0h1m2 0h1M472 380.5h7M473 381.5h3m1 0h2M475 382.5h1m1 0h2M473 383.5h1m1 0h1m1 0h2M476 384.5h1m1 0h2M1073 402.5h1M1071 403.5h1m4 0h1M411 405.5h1m658 0h1M411 406.5h1m652 0h1m5 0h1M412 407.5h2m650 0h1m7 0h1m79 0h1M412 408.5h3M409 409.5h1m654 0h1m1 0h1m3 0h3M1070 410.5h1M410 411.5h1m2 0h1M410 412.5h1m2 0h1m743 0h1M408 413.5h3M408 414.5h5M411 416.5h1M408 417.5h4M408 418.5h3M408 419.5h2M408 420.5h2M408 421.5h1m655 0h1m6 0h1M1071 422.5h1M1066 423.5h1m3 0h2M1069 424.5h1m1 0h1M421 425.5h1M412 426.5h1M409 427.5h1M407 431.5h1M1135 433.5h2M1133 434.5h1m1 0h1m1 0h1M1133 435.5h1M408 440.5h1M407 446.5h1m4 0h1"/>
</g>
</g>

<rect x="89.2" y="26.7" width="1079.4" height="449.3" fill="none" stroke="#303030" stroke-width="1.45"/>
<g stroke="#000" stroke-width="2.2">
<line x1="89.2" y1="475.5" x2="89.2" y2="482" /><line x1="179.1" y1="475.5" x2="179.1" y2="482" /><line x1="269.1" y1="475.5" x2="269.1" y2="482" /><line x1="359.0" y1="475.5" x2="359.0" y2="482" /><line x1="449.0" y1="475.5" x2="449.0" y2="482" /><line x1="538.9" y1="475.5" x2="538.9" y2="482" /><line x1="628.9" y1="475.5" x2="628.9" y2="482" /><line x1="718.8" y1="475.5" x2="718.8" y2="482" /><line x1="808.8" y1="475.5" x2="808.8" y2="482" /><line x1="898.7" y1="475.5" x2="898.7" y2="482" /><line x1="988.7" y1="475.5" x2="988.7" y2="482" /><line x1="1078.6" y1="475.5" x2="1078.6" y2="482" /><line x1="1168.6" y1="475.5" x2="1168.6" y2="482" /><line x1="84" y1="26.7" x2="90" y2="26.7" /><line x1="84" y1="116.5" x2="90" y2="116.5" /><line x1="84" y1="206.3" x2="90" y2="206.3" /><line x1="84" y1="296.1" x2="90" y2="296.1" /><line x1="84" y1="385.9" x2="90" y2="385.9" />
</g>
<g class="ax">
<text x="89.2" y="508" text-anchor="middle">180°</text><text x="179.1" y="508" text-anchor="middle">150°W</text><text x="269.1" y="508" text-anchor="middle">120°W</text><text x="359.0" y="508" text-anchor="middle">90°W</text><text x="449.0" y="508" text-anchor="middle">60°W</text><text x="538.9" y="508" text-anchor="middle">30°W</text><text x="628.9" y="508" text-anchor="middle">0°</text><text x="718.8" y="508" text-anchor="middle">30°E</text><text x="808.8" y="508" text-anchor="middle">60°E</text><text x="898.7" y="508" text-anchor="middle">90°E</text><text x="988.7" y="508" text-anchor="middle">120°E</text><text x="1078.6" y="508" text-anchor="middle">150°E</text><text x="1168.6" y="508" text-anchor="middle">180°</text><text x="74" y="33.2" text-anchor="end">90°</text><text x="74" y="123.0" text-anchor="end">60°N</text><text x="74" y="212.8" text-anchor="end">30°N</text><text x="74" y="302.6" text-anchor="end">0°</text><text x="74" y="392.4" text-anchor="end">30°S</text>
</g>
<g class="lg">
<text x="108" y="376.3" style="font-size:13.8px">HI</text>
<rect x="108.3" y="390.6" width="38.5" height="15.4" fill="#70a800" stroke="#6e6e6e" stroke-width="2"/>
<rect x="108.3" y="416.6" width="38.5" height="15.4" fill="#d1ff73" stroke="#6e6e6e" stroke-width="2"/>
<rect x="108.3" y="442.6" width="38.5" height="15.4" fill="#e64c00" stroke="#6e6e6e" stroke-width="2"/>
<text x="153.6" y="401.4">&lt;40</text><text x="212.4" y="401.4" textLength="194.3" lengthAdjust="spacingAndGlyphs">SOC gain, yield gain (win-win)</text>
<text x="153.6" y="427.4">40 - 100</text><text x="212.4" y="427.4" textLength="169" lengthAdjust="spacingAndGlyphs">SOC gain, yield no change</text>
<text x="153.6" y="453.4">&gt;100</text><text x="213.6" y="453.4" textLength="168" lengthAdjust="spacingAndGlyphs">SOC no change, yield loss</text>
</g>
</svg>
</body></html>
